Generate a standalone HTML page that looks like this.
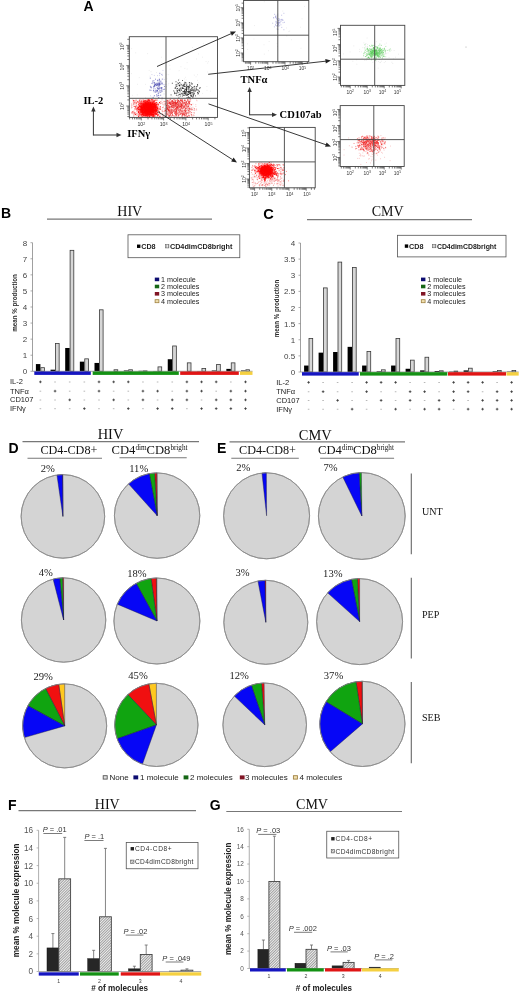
<!DOCTYPE html>
<html><head><meta charset="utf-8"><title>figure</title><style>html,body{margin:0;padding:0;background:#fff;width:520px;height:992px;overflow:hidden}</style></head><body><svg width="520" height="992" viewBox="0 0 520 992" style="display:block;opacity:0.999"><text x="83.6" y="10.7" font-family='"Liberation Sans", sans-serif' font-size="14" font-weight="bold" text-anchor="start" fill="#000" >A</text>
<defs><filter id="soft" x="-20%" y="-20%" width="140%" height="140%"><feGaussianBlur stdDeviation="0.35"/></filter><filter id="soft2" x="-30%" y="-30%" width="160%" height="160%"><feGaussianBlur stdDeviation="1.6"/></filter></defs>
<g filter="url(#soft)">
<path d="M165.86 89.21h0.7M166.57 74.33h0.7M149.68 76.16h0.7M198.69 87.63h0.7M196.89 84.48h0.7M181.47 83.34h0.7M132.01 95.39h0.7M184.15 88.98h0.7M131.41 48.61h0.7M150.65 71.57h0.7M179.33 79.17h0.7M184.5 68.44h0.7M179.41 87.09h0.7M156.13 110.92h0.7M185.36 101.55h0.7M157.11 66.69h0.7M163.74 78.08h0.7M187.17 84.47h0.7M161.26 62.78h0.7M159.51 101.98h0.7M152.61 84.41h0.7M182.24 53.18h0.7M173.16 103.51h0.7M169.45 65.29h0.7M183.94 78.88h0.7M136.85 94.9h0.7M188.06 97.03h0.7M206.57 86.52h0.7M174.86 56.61h0.7M186.77 68.99h0.7M161.14 57.23h0.7M148.78 70.44h0.7M202.93 43.43h0.7M137.02 84.31h0.7M206.64 90.41h0.7M180.58 66.75h0.7M145.13 97.59h0.7M198.44 82.83h0.7M177.9 87.82h0.7M210.26 91.14h0.7M184.45 89.86h0.7M134.36 103.07h0.7M194.92 89.53h0.7M192.22 47.4h0.7M167.58 98.35h0.7M140.53 108.98h0.7M185.25 77.3h0.7M179.8 91.7h0.7M174.89 100.62h0.7M156.12 72.53h0.7M197 80.48h0.7M150.87 97.04h0.7M207.17 71.99h0.7M138.88 77.57h0.7M168.42 74.64h0.7M205.71 61.52h0.7M202.25 57.17h0.7M153.11 91.37h0.7M199.09 95.46h0.7M180.29 82.56h0.7M175.66 90.36h0.7M167.77 84.99h0.7M185.75 80.02h0.7M190.34 90.19h0.7M161.74 73.29h0.7M171.69 96.63h0.7M163.92 86.94h0.7M145.03 84.39h0.7M181.56 84.29h0.7M161.65 91.79h0.7M178.77 70.6h0.7M158.7 78.21h0.7M166.59 78.87h0.7M196.21 58.97h0.7M170.4 97.16h0.7M192.55 106.84h0.7M131.17 73.64h0.7M163.82 91.22h0.7M198.13 53.94h0.7M188.4 53.14h0.7M176.22 101.5h0.7M168.42 83.44h0.7M191.13 82.54h0.7M169.88 107.6h0.7M197.16 74.71h0.7M193.95 75.22h0.7M175.18 92.69h0.7M177.33 91.5h0.7M135.34 52.83h0.7M186.76 62.66h0.7M147.36 53.54h0.7M202.39 93.44h0.7M207.35 63.12h0.7M172.02 59.47h0.7M190.38 108.61h0.7M150.63 108.09h0.7M195.71 76.8h0.7M169.69 69.15h0.7M181.59 87.38h0.7M207.95 61.64h0.7" stroke="#c8c8c8" stroke-width="0.7" stroke-opacity="0.6" fill="none"/>
<path d="M136.12 113.55h0.9M165.31 110.67h0.9M143.26 108.83h0.9M135.58 99.74h0.9M164.98 110.54h0.9M149.43 115.37h0.9M146.18 114.32h0.9M159.92 103.09h0.9M139.81 104.48h0.9M139.42 109.47h0.9M140.08 106.62h0.9M135.59 114.97h0.9M143.38 107.29h0.9M151.42 114.87h0.9M145.72 115.1h0.9M148.56 108.54h0.9M149.32 99.82h0.9M146.4 102.61h0.9M131.14 113.09h0.9M137.03 107.55h0.9M156.38 108.96h0.9M142.41 108.31h0.9M150.44 112.83h0.9M134.71 109.03h0.9M139.7 104.21h0.9M158.03 108.13h0.9M150.66 112.42h0.9M162.94 107.04h0.9M152.44 108.09h0.9M148.93 111.28h0.9M146.83 108.57h0.9M147.73 115.51h0.9M155.47 114.4h0.9M163.98 103.91h0.9M150.58 115.54h0.9M160.4 101.83h0.9M135.26 107.02h0.9M133.54 103.59h0.9M133.56 110.88h0.9M158.44 114.75h0.9M136.41 111.67h0.9M154.11 101.93h0.9M161.9 115.95h0.9M138.69 115.69h0.9M144.94 107.78h0.9M165.65 113.65h0.9M136.65 106.84h0.9M149.05 105.26h0.9M137.85 104.91h0.9M156.28 99.83h0.9M150.39 106.99h0.9M131.63 105.14h0.9M152.84 108.21h0.9M133.25 116.25h0.9M158.59 116.02h0.9M134.67 104.01h0.9M132.39 112.74h0.9M140.47 101.7h0.9M145.78 114.99h0.9M159.66 103.9h0.9M136.23 115.13h0.9M150.97 111.41h0.9M134.13 100.48h0.9M155.09 106.73h0.9M133.53 115.45h0.9M153.21 113.13h0.9M133.93 114.06h0.9M133.33 114.17h0.9M146.88 105.27h0.9M150.36 115.25h0.9M140.38 101.7h0.9M149.44 103.55h0.9M134.83 102.24h0.9M132.76 102.93h0.9M141.92 104.69h0.9M157.58 104.43h0.9M148.5 102.52h0.9M143.15 99.81h0.9M139.77 99.76h0.9M156.66 108.87h0.9M137.63 107.57h0.9M163.71 101.31h0.9M159.66 106.85h0.9M148.33 113.69h0.9M144.76 108.11h0.9M155.07 116.2h0.9M142.99 113.65h0.9M155.74 110.31h0.9M145.16 105.41h0.9M132.9 101.71h0.9M133.48 112.1h0.9M139.95 102.28h0.9M133.96 113.8h0.9M161.47 110.9h0.9M140.87 103.62h0.9M141.26 107.31h0.9M136.51 107.08h0.9M140.21 115.85h0.9M165.04 108.8h0.9M139.56 115.92h0.9M141.83 105.56h0.9M131.04 105.99h0.9M147.61 108.05h0.9M138.03 108.08h0.9M131.17 103.99h0.9M134.14 106.29h0.9M132.46 99.88h0.9M141.65 103.46h0.9M151.5 108.5h0.9M157.27 110.68h0.9M156.06 114.44h0.9M144.63 105.04h0.9M165.47 102.04h0.9M156.35 110.43h0.9M132.53 113.7h0.9M162.22 110.16h0.9M156.68 113.31h0.9M135.88 108.4h0.9M148.65 113.69h0.9M159.16 113.55h0.9M151.44 114.68h0.9M154.9 111.29h0.9M139.05 100.03h0.9M135.66 105.63h0.9M134.67 113.71h0.9M150.55 110.17h0.9M152.92 111.07h0.9M148.13 99.56h0.9M158.92 112.22h0.9M148.6 108.6h0.9M154.08 100.62h0.9M156.79 103.79h0.9M133.61 104.01h0.9M156.53 102.99h0.9M156.89 116.09h0.9M148.29 106h0.9M147.77 111.12h0.9M157.84 109.99h0.9M153.5 100.82h0.9M136.16 103.82h0.9M157.01 104.68h0.9M150.87 99.71h0.9M133.12 104.07h0.9M154.52 111.27h0.9M154.65 104.44h0.9M149.08 107.4h0.9M147.32 101.51h0.9M162.28 102.89h0.9M165.23 115.42h0.9M131.61 107.3h0.9M159.7 115.96h0.9M146.73 104.07h0.9M138.34 115.57h0.9M138.37 109.39h0.9M135.96 108.41h0.9M164.35 101.75h0.9M159.71 108.15h0.9M162.04 111.46h0.9M139.1 114.76h0.9M148.01 99.92h0.9M131.13 107.86h0.9M146.78 104.63h0.9M135.92 105.35h0.9M142.06 113.78h0.9M131.06 112.26h0.9M160.37 101.54h0.9M163.42 111.62h0.9M162.55 104.43h0.9M144.03 106.18h0.9M165.96 109.52h0.9M143.62 106.78h0.9M140.63 100.32h0.9M134.56 113.69h0.9M141 115.41h0.9M139.73 104.02h0.9M148.88 102.73h0.9M144.07 115.75h0.9M161.95 113.3h0.9M153.08 115.03h0.9M163.92 108.84h0.9M156.19 100.34h0.9M156.63 107.16h0.9M157.34 110.46h0.9M141.02 100.33h0.9M163.44 101.66h0.9M147.53 105.34h0.9M141.42 112.06h0.9M165.17 103.92h0.9M153.96 104.61h0.9M150.51 106.2h0.9M136.86 102.25h0.9M138.28 114.9h0.9M148.4 103.24h0.9M162.72 116.44h0.9M146.75 101.87h0.9M137.73 101.04h0.9M142.97 101.05h0.9M139.37 103.89h0.9M150.94 114.58h0.9M157.24 106.52h0.9M145.49 108.41h0.9M144.19 105.25h0.9M133.17 104.22h0.9M164.87 101.64h0.9M148.62 110.2h0.9M161.2 103.17h0.9M140.49 103.72h0.9M144.99 107.08h0.9M164.39 113.93h0.9M161.55 99.87h0.9M132.13 111.56h0.9M162.35 107.55h0.9M151.55 99.5h0.9M144.7 115.26h0.9M159.9 114.04h0.9M165.03 103.72h0.9M134.82 102.12h0.9M149.28 111.1h0.9M163.95 111.77h0.9M153.66 112.5h0.9M147.01 108.88h0.9M132.38 112.8h0.9M139.14 115.14h0.9M153.59 104.66h0.9M135.48 103.78h0.9M153.27 111.38h0.9M134.92 100.7h0.9M149.36 109.41h0.9M144.58 103.3h0.9M152.04 99.68h0.9M141.55 107.33h0.9M164.56 110.46h0.9M161.93 107.58h0.9M139.22 103.7h0.9M164.62 111.48h0.9M141.76 99.87h0.9M148.44 110.97h0.9M145.7 103.87h0.9M154.36 115.23h0.9M138.94 100.08h0.9M142.83 106.65h0.9M154.89 102.87h0.9M158.9 112.07h0.9M148.67 102.99h0.9M164.95 104.8h0.9M159.7 103.42h0.9M138.75 112.43h0.9M141.32 115.68h0.9M148.35 102.68h0.9M138.82 106.59h0.9M154.29 115.63h0.9M136.12 106.19h0.9M138.45 116.06h0.9M135.97 100.38h0.9M133.1 106.19h0.9M162.44 114.52h0.9M156.65 116.46h0.9M163.61 105.1h0.9M137.49 115.41h0.9M157.12 100.04h0.9" stroke="#f07070" stroke-width="0.9" stroke-opacity="0.7" fill="none"/>
<path d="M181.95 105.94h0.9M174.97 105.14h0.9M170.06 99.55h0.9M172.72 105.47h0.9M188.93 101.6h0.9M189.14 103.03h0.9M174.56 113.47h0.9M185.73 106.85h0.9M167.18 107.55h0.9M174.95 115.13h0.9M170.63 105.69h0.9M187.53 100.01h0.9M175.86 113.3h0.9M184.4 100.19h0.9M166.84 100.56h0.9M188.08 103.87h0.9M183.93 114.78h0.9M174.14 104.13h0.9M188.98 109.99h0.9M172.29 111.68h0.9M173.6 104.19h0.9M166.09 112.35h0.9M188 110.28h0.9M188.64 99.91h0.9M171.61 107.58h0.9M188.96 115.72h0.9M175.28 103.77h0.9M176.32 107.89h0.9M188.27 102.61h0.9M185.26 112.05h0.9M185.75 112.64h0.9M180.57 105.07h0.9M173.67 105.65h0.9M184.77 100.84h0.9M170.74 112.3h0.9M171.94 100.6h0.9M166.81 108.89h0.9M173.82 116.16h0.9M187.2 116.29h0.9M172.36 100.93h0.9M168.31 107.97h0.9M183.03 107.1h0.9M171.62 106.59h0.9M180.89 110.96h0.9M183.95 113.9h0.9M181.95 101.56h0.9M186.18 104.49h0.9M179.61 105.84h0.9M183.71 102.89h0.9M171.94 103.67h0.9M169.68 114.53h0.9M179.88 105.05h0.9M175.51 116.37h0.9M178.18 103.43h0.9M185.4 110.61h0.9M189.78 101.24h0.9M177.39 113.42h0.9M186.17 115.04h0.9M166.97 104.49h0.9M168.86 102.72h0.9M189.35 109.41h0.9M188.32 105.83h0.9M186.79 107.13h0.9M172.24 112.72h0.9M188.7 101.3h0.9M180.31 110.04h0.9M171.22 105.77h0.9M169.39 102.97h0.9M172.12 109.69h0.9M181.64 102.96h0.9M166.27 105.06h0.9M182.28 102.65h0.9M173.49 102.96h0.9M185.09 108.82h0.9M167.52 101.22h0.9M175.49 108.85h0.9M181.34 101.05h0.9M169.93 111.32h0.9M175.83 104.32h0.9M173.38 115.7h0.9M173.5 109.13h0.9M174.57 106.58h0.9M186.74 116.44h0.9M174.73 102.85h0.9M183.47 102.96h0.9M166.14 114.83h0.9M176.17 113.45h0.9M175.75 114.51h0.9M177.06 102.26h0.9M166.36 108.88h0.9M181.38 114.97h0.9M168.14 110.08h0.9M174.9 108.08h0.9M169.5 104.32h0.9M178.51 115.23h0.9M168.61 107.84h0.9M185.32 115.94h0.9M170.74 101.65h0.9M188.63 116.08h0.9M177.59 100.41h0.9M188.23 106.09h0.9M187.7 110.05h0.9M185.79 102.22h0.9M184.86 103.28h0.9M175.71 113.89h0.9M185.9 102.61h0.9M171.24 106.3h0.9M178.43 106.02h0.9M168.95 103.7h0.9M183.4 114.75h0.9M166.99 109.06h0.9M184.18 100.15h0.9M186.12 101.5h0.9M180.39 108.85h0.9M181.05 104.71h0.9M176.08 109.4h0.9M176.22 110.7h0.9M176.72 106.95h0.9M166.56 110.02h0.9M177.75 103.5h0.9M184.33 112.76h0.9M177 102.55h0.9M177.36 101.32h0.9M169.08 106.82h0.9M168.2 107.01h0.9M178.24 100.19h0.9M181.27 100.9h0.9M183.6 112.72h0.9M178.28 100.42h0.9M178.09 105.92h0.9M188.82 101.82h0.9M186.57 116.43h0.9M183.57 113.35h0.9M170.65 116.19h0.9M177.8 115.76h0.9M187.98 102.31h0.9M184.92 115.32h0.9M167.57 105.47h0.9M184.15 102.2h0.9M187.52 104.17h0.9M185.58 101.94h0.9M178.05 115.14h0.9M171 103.97h0.9M178.14 104.92h0.9M166.88 102.6h0.9M169.87 115.42h0.9M182.31 114.72h0.9M170.05 112.84h0.9M168.76 108.52h0.9M181.27 105.62h0.9M186.95 108.94h0.9M179.92 114.5h0.9M168.51 116.38h0.9M181.11 106.2h0.9M185.14 104h0.9M189.77 109.32h0.9M174.65 112.5h0.9M176.61 102.5h0.9M183.85 100.32h0.9M185.68 103.81h0.9M181.34 116.23h0.9M180.06 110.78h0.9M173.5 99.53h0.9M166.81 102.04h0.9M180.79 106.85h0.9M178.3 114.72h0.9M169.17 103.36h0.9M181.67 99.88h0.9M166.06 105.53h0.9M168.55 105.57h0.9M171.38 109.42h0.9M180.14 102.97h0.9M180.97 107.57h0.9M169.23 115.42h0.9M171.85 102.04h0.9M168.3 110.35h0.9M186.91 112.8h0.9M175.65 103.99h0.9M166.28 110.46h0.9M179.5 105.46h0.9M181.49 107.04h0.9M188.49 111.97h0.9M171.96 114.86h0.9M167.06 108.54h0.9M175.74 103.54h0.9M167.4 112.74h0.9M166.3 108.87h0.9M188.58 101.92h0.9M170.79 109.84h0.9M178.17 110.41h0.9M185.52 102.47h0.9M173.43 104.6h0.9M167.16 114.62h0.9M184.79 111.66h0.9M166.15 113.86h0.9M183.88 107.41h0.9M183.8 107.19h0.9M171.42 101.29h0.9M171.58 100.16h0.9M174.05 112.24h0.9M182.68 113.87h0.9M183.08 104.02h0.9M179.29 106.91h0.9M184.92 108.4h0.9M172.37 110.41h0.9M189.16 103.19h0.9M187.12 99.76h0.9M172.25 103.51h0.9M183.85 115.56h0.9M183.91 105.06h0.9M187.12 105.09h0.9M171.74 114.93h0.9M181.14 111.28h0.9M181.97 116.14h0.9M177.27 113.78h0.9M182.74 114.08h0.9M176.49 111.82h0.9M179.69 104.73h0.9M171.09 110.08h0.9M167.87 114.98h0.9M169.47 99.96h0.9M168.56 115.29h0.9M174.28 101.91h0.9M166.69 100.21h0.9M182.62 110.28h0.9M182.73 112.03h0.9M167.58 109.54h0.9M174.72 113.4h0.9M185.67 114.65h0.9M167.58 114.25h0.9M187.95 115.55h0.9M168.57 103h0.9M168.69 100.09h0.9M186.35 113.3h0.9M181.22 113.53h0.9M181.16 104.39h0.9M168.4 101.16h0.9M184.18 102.98h0.9M173.66 106.7h0.9M166.5 103.86h0.9M172.78 111.67h0.9M174.83 104.95h0.9M189.14 108.06h0.9M186.43 110.01h0.9M166.74 106.52h0.9M176.47 112.64h0.9M174.32 111.48h0.9M178.91 103.18h0.9M186.69 101.05h0.9M185.68 102.4h0.9M166.03 102.93h0.9M184.29 116.12h0.9M166.1 107.84h0.9M177.8 113.05h0.9M170.43 107.91h0.9M174.33 113.64h0.9M172.25 115.55h0.9M172.81 103.15h0.9M182.79 107.97h0.9M168.64 110.32h0.9M167.94 112.89h0.9M182.73 112.88h0.9M181.07 105.55h0.9M175.63 106.21h0.9M187.37 100.96h0.9M187.32 99.93h0.9M170.95 103.97h0.9M187.63 108.02h0.9M175.1 114.53h0.9M171.61 107.34h0.9M178.76 112.33h0.9M184.07 110.49h0.9M174.36 105.05h0.9M169.73 113.83h0.9M181.89 112.11h0.9M170.07 106.96h0.9M184.56 109.35h0.9M169.03 107.35h0.9M187.24 103.54h0.9M170.6 104.63h0.9M182.88 113.84h0.9M169.71 102.15h0.9M171.94 105.05h0.9M178.53 102.24h0.9M173.87 102.72h0.9M189.4 111.89h0.9M168.44 115.86h0.9M168.44 106.03h0.9M189.61 113.01h0.9M183.6 106.89h0.9M170.71 110.35h0.9M168.56 103.01h0.9M175.32 100.08h0.9M175.58 112.95h0.9M182.64 108.01h0.9M181.18 107.38h0.9M169.4 109.76h0.9M175.71 112.1h0.9M187.79 106.81h0.9M179.78 112.23h0.9M176.11 103.39h0.9M183.33 114.46h0.9M184.58 111.4h0.9M186.46 111.05h0.9M181.4 107.22h0.9M173.51 110.18h0.9M168.35 106.63h0.9M184.78 111.62h0.9M181.11 103.75h0.9M176.17 107.24h0.9M180.92 106.46h0.9M182.21 115.31h0.9M170.39 110.63h0.9M184.68 106.11h0.9M177.76 116.07h0.9M166.92 108.74h0.9M169.86 112.79h0.9M188.57 108.33h0.9M168.43 109.27h0.9M178.98 111.69h0.9M178.29 110.37h0.9M185.9 108.37h0.9M175.85 115.62h0.9M171.04 111.13h0.9M175.42 112.47h0.9M168.94 116.24h0.9M174.53 100.46h0.9M172.58 106.29h0.9M166.32 106.62h0.9M176.09 111.37h0.9M174.45 104.01h0.9M171.39 112.11h0.9M188.56 108.46h0.9M171.25 113.13h0.9M175.41 103.1h0.9M169.1 112.7h0.9M185.43 110.28h0.9M177.26 109.05h0.9M171.42 115.89h0.9M174.48 110.36h0.9M185.65 113.38h0.9M177.23 104.5h0.9M179.16 101.63h0.9M186.01 105.53h0.9M186.42 104.05h0.9M175.03 103.81h0.9M176.23 102.66h0.9M166.06 111.77h0.9M172.75 103.66h0.9M173.24 107.65h0.9M176.28 110.33h0.9M181.82 105.66h0.9M188.29 114.03h0.9M167.37 113.57h0.9M187.74 112.83h0.9M169.37 113.63h0.9M181.2 99.75h0.9M166.28 115.68h0.9M181.74 103.75h0.9M168.44 101.93h0.9M171.61 112.7h0.9M174.31 102.1h0.9M187.7 112.96h0.9M170.03 114.65h0.9M180.6 112.78h0.9M182.04 114.7h0.9M184.91 113.76h0.9M170.74 111.28h0.9M178.74 112.11h0.9M176.53 114.51h0.9M179.32 104h0.9M171.62 101.87h0.9M177.83 100.49h0.9M177.21 101.96h0.9M177.79 107.97h0.9M178.95 114.17h0.9M166.16 113.79h0.9M177.23 109.06h0.9M181.97 113.79h0.9M175 106.62h0.9" stroke="#e83030" stroke-width="0.9" stroke-opacity="0.7" fill="none"/>
<path d="M196.65 100.78h0.8M193.73 110.31h0.8M188.26 109.86h0.8M194.14 115.34h0.8M190.97 116.19h0.8M192.6 107.74h0.8M196.08 100.08h0.8M194.46 110.13h0.8M191.05 114.15h0.8M191.3 107.57h0.8M192.73 112.6h0.8M189.9 106.9h0.8M191.8 108.92h0.8M195.44 104.48h0.8M195.45 106.36h0.8M192.53 104.12h0.8M192.56 116.07h0.8M193.89 112.96h0.8M190.98 104.89h0.8M190.69 109.47h0.8M193.71 112.83h0.8M188.36 111.79h0.8M195.97 108.77h0.8M188.45 104.61h0.8M188.06 102.73h0.8M196.29 109.85h0.8M193.92 112.91h0.8M196.19 109.9h0.8M193.55 110.16h0.8M194.27 109.64h0.8" stroke="#f08080" stroke-width="0.8" stroke-opacity="0.6" fill="none"/>
<path d="M173.68 102.86h0.9M171.59 101.2h0.9M176.29 103.7h0.9M176.92 107.25h0.9M171.71 102.02h0.9M170.28 104.53h0.9M173.31 110.96h0.9M172.46 110.82h0.9M185.75 108.18h0.9M179.9 106.62h0.9M179.87 99.92h0.9M183.59 103.34h0.9M183.89 106.44h0.9M185.02 105.32h0.9M172.84 107.21h0.9M172.6 103.28h0.9M176.82 106.72h0.9M188.13 106.23h0.9M191.04 115.01h0.9M189.73 111.31h0.9M177.04 106.69h0.9M174.86 102.34h0.9M175.47 102.8h0.9M189.12 108.67h0.9M175.57 103.92h0.9M167.31 100.32h0.9M175.75 105.26h0.9M187.55 106.67h0.9M177.34 104.14h0.9M171.16 113.5h0.9M184 114.58h0.9M173.2 106.15h0.9M168.95 110.84h0.9M184.77 113.06h0.9M168.48 111.45h0.9M170.29 102.21h0.9M189.19 103.03h0.9M169.92 104.31h0.9M170.62 111.94h0.9M190.94 104.67h0.9M170.47 103.45h0.9M167.31 111.32h0.9M178.31 102.18h0.9M182.25 106.04h0.9M166.6 109.11h0.9M190.61 108.49h0.9M170.24 104.25h0.9M174.07 107.73h0.9M180.08 113.93h0.9M181.31 104.48h0.9M166.58 101.32h0.9M170.69 106.74h0.9M175.6 114.34h0.9M178.3 100.64h0.9M188.35 110.75h0.9M176.81 102.39h0.9M183.29 101.99h0.9M177.95 109.03h0.9M181.24 113.05h0.9M169.29 110.89h0.9M168.1 109.47h0.9M177.43 107.22h0.9M183.74 105.91h0.9M184.9 110.38h0.9M177.08 103.17h0.9M169.97 103.36h0.9M174.38 105.88h0.9M182.15 101.7h0.9M170.32 104.4h0.9M177.54 100.82h0.9M188.9 103.18h0.9M175.94 107.39h0.9M177.53 109.01h0.9M178.24 106.81h0.9M178.46 105.02h0.9M169.43 103.09h0.9M190.76 114.66h0.9M175.53 112.44h0.9M172.14 101.63h0.9M171.53 106.94h0.9M176.4 107.38h0.9M175.73 110.65h0.9M190.2 99.78h0.9M177.29 104.68h0.9M180.2 106.96h0.9M173.01 102.22h0.9M181.58 108.72h0.9M175.82 108.57h0.9M171.17 106.36h0.9M176.32 108.77h0.9M175.44 105.28h0.9M174.92 102.78h0.9M193.87 108.57h0.9M181.56 110.19h0.9M191.08 112.58h0.9M182.17 100.11h0.9M169.03 107.34h0.9M180.04 100.89h0.9M172.92 104h0.9M176.48 107.68h0.9M173.7 99.82h0.9M185.94 113.98h0.9M175.15 111.12h0.9M179.55 109.3h0.9M179.85 102.18h0.9M180.59 111.05h0.9M168.83 115.83h0.9M192.72 115.12h0.9M191.91 109.71h0.9M173.29 103h0.9M169.5 106.58h0.9M175.74 109.35h0.9M181.41 108.38h0.9M178.19 104.96h0.9M175.02 101.88h0.9M177.43 105.88h0.9M178.56 101.72h0.9M176.32 106.24h0.9M180.83 100.68h0.9M179.36 110.92h0.9M180.78 104.16h0.9M172.07 104.82h0.9M181.83 113.76h0.9M174.74 102.79h0.9M179.01 107.02h0.9M168.74 102.31h0.9M175.19 109.36h0.9M166.45 100.91h0.9M179.99 99.88h0.9M176.87 107.76h0.9M175.11 100.91h0.9M175.52 104.34h0.9M178.69 101.81h0.9M174.59 106.04h0.9M183.69 102.96h0.9M180.37 103.17h0.9M181.91 114.69h0.9M172.79 108.21h0.9M168.58 110.87h0.9M185.69 106.18h0.9M166.92 108.01h0.9M185.19 111.45h0.9M170.56 113.11h0.9M166.19 111.66h0.9M191.06 109.81h0.9M184.96 104.34h0.9M166.2 105.49h0.9M174.41 105.76h0.9M181.57 105.28h0.9M177.53 108.12h0.9M175.96 115.22h0.9M179.54 106.42h0.9M174.34 102.87h0.9M186.75 106.75h0.9M167.37 103.19h0.9M174.91 103.77h0.9M184.68 100.19h0.9M179.94 106.72h0.9M166.58 106.24h0.9M175.24 108.51h0.9M172.4 107.52h0.9M182.28 111.21h0.9M175.9 103h0.9M169.6 109.36h0.9M181.22 100.84h0.9M177.22 101.52h0.9M176.44 110.51h0.9M185.12 107.99h0.9M176.04 111.24h0.9M170.88 102.48h0.9M173.03 105.64h0.9M167.34 108.42h0.9M180.35 106.36h0.9M189.6 104.36h0.9M186.45 103.27h0.9M177.58 105.12h0.9M172.04 102.95h0.9M173.22 102.4h0.9M171.6 103.38h0.9M167.54 105.32h0.9M182.28 104.75h0.9M172.06 112.79h0.9M183.82 110.61h0.9M185.24 104.36h0.9M174.97 111.57h0.9M171.57 105.4h0.9M179.02 107.86h0.9M173.79 110.92h0.9M174.58 109.63h0.9M184.56 109.3h0.9M181.87 100.2h0.9M179.8 113.5h0.9M166.22 107.53h0.9M169.17 102.34h0.9M173.79 109.46h0.9M177.7 111.9h0.9M168.12 110.45h0.9M183.44 106.35h0.9M179.82 103.18h0.9M167.28 103.97h0.9M172.12 114.25h0.9M177.62 107.56h0.9M181.95 102.1h0.9M183.33 107.88h0.9M180.42 108.26h0.9M188.68 103.93h0.9M180.09 109.74h0.9M168.8 112h0.9M180.18 100.56h0.9M176.55 100.33h0.9M179.59 104.67h0.9M176.51 105.66h0.9M177.04 99.39h0.9M168.51 103.73h0.9M169.89 102.95h0.9M167.54 107.63h0.9M174.88 101.9h0.9M168.12 110.04h0.9M170.72 108.93h0.9M167.33 106.02h0.9M178.74 109.9h0.9M182.42 111.17h0.9M173.01 104.95h0.9M182.21 103.87h0.9M181.23 105.13h0.9M178.49 106.1h0.9M167.39 103.67h0.9M188.09 101.86h0.9M166.4 105.34h0.9M172.85 101.44h0.9M169.27 111.24h0.9M171.65 100.54h0.9M182.3 108.82h0.9M167.66 109.74h0.9M185.01 104.72h0.9M183.33 105.89h0.9M179.34 109.84h0.9M190.82 104.74h0.9M172.14 105.81h0.9" stroke="#e82020" stroke-width="0.9" stroke-opacity="0.7" fill="none"/>
</g>
<ellipse cx="148" cy="108.6" rx="9.5" ry="8.2" fill="#ff0000" filter="url(#soft2)" opacity="0.95"/>
<g filter="url(#soft)">
<path d="M154.63 104.36h1M152.39 105.56h1M150.53 111.7h1M141.5 108.21h1M149.32 111.24h1M142.88 104.14h1M146.94 107.6h1M139.78 112.78h1M145.06 115.06h1M152.69 108.69h1M152 103.6h1M146.21 106.01h1M141.02 108.68h1M147.2 115.06h1M142.95 106.51h1M150.32 110.42h1M148.16 106.47h1M150.72 110.22h1M137.86 107.42h1M140.44 103.28h1M148.81 108.87h1M148.63 104.66h1M146.89 104.49h1M150.1 111.7h1M157.65 114.3h1M143.57 106.54h1M142.84 109.98h1M158.89 111.79h1M135.9 102.94h1M140.89 110.92h1M148.01 109.95h1M157.8 104.88h1M149.88 105.09h1M136.84 101.74h1M134.56 108.91h1M148.24 113.07h1M147.23 105.48h1M138.29 109.38h1M148.14 111.38h1M145.77 110.85h1M152.49 107.94h1M145.48 107.76h1M142.69 107.67h1M146.34 109.55h1M155.35 114.48h1M145.55 111.31h1M149.62 112.03h1M148.12 109.8h1M145.42 105.07h1M152.8 114.44h1M151.64 110.56h1M149.46 106.57h1M138.19 111.59h1M149.1 106.11h1M142.69 114.35h1M138.08 116.53h1M144.05 108.5h1M145.21 109.3h1M146.85 105.23h1M153.91 105.07h1M145.21 111.1h1M145.04 106.64h1M149.96 106.94h1M141.14 108.14h1M146.79 116.27h1M141.97 112.96h1M143.68 107h1M146.2 109.82h1M152.75 116.47h1M144.5 114.58h1M153.47 112.26h1M143.82 112.65h1M147.41 110.19h1M146.52 111.59h1M154.13 113.69h1M146.87 113.08h1M155.99 104.39h1M156.1 102.59h1M150.99 111.27h1M156.16 109.85h1M145.36 105.01h1M141.12 112.05h1M146.7 105.37h1M150.93 105.16h1M145.6 106.54h1M157.1 115.18h1M147.13 101.53h1M149.52 108.92h1M149.92 111.14h1M146.24 112.76h1M152.6 109.55h1M145.77 106.44h1M151.81 103.65h1M147.12 105.23h1M140.34 111.32h1M147.86 108.76h1M152.81 101.88h1M147.63 109.9h1M152.58 103.72h1M151.94 109.59h1M155.46 113.72h1M147.99 106.69h1M146.13 104.37h1M147.84 100.15h1M147.54 110.52h1M153.45 107.04h1M155.64 105.67h1M147.26 100.15h1M143.81 105.04h1M156.02 110.93h1M142.07 110.95h1M150.59 107.57h1M148.12 107.26h1M145.09 100.81h1M147.51 114.24h1M155.69 107.38h1M143.99 107.67h1M152.82 110.14h1M144.87 110.19h1M146.89 110.86h1M145.81 102.14h1M148.31 111.94h1M142.06 108.13h1M152.71 106.96h1M152.45 113.11h1M142.93 115.76h1M139.13 106.33h1M151.96 114.43h1M143.02 105.69h1M149.05 100.16h1M151.42 111.05h1M145.61 110.95h1M152.15 109.95h1M150.79 115.22h1M145.45 109.31h1M145.21 113.12h1M145.83 110.67h1M148.73 108.89h1M157.15 108.23h1M155.55 112.2h1M155.03 107.88h1M152.94 111.89h1M144.73 109.77h1M147.32 108.44h1M154.92 105.47h1M139.06 101.03h1M145.6 105.8h1M148.08 111.06h1M157.35 109.94h1M150.46 105.41h1M151.08 114.5h1M155.11 100.12h1M152.72 115.47h1M152.38 102.11h1M146.37 111.15h1M150.2 105.08h1M143.28 112.79h1M140.93 114.82h1M148.11 109.9h1M140.94 106.02h1M151.65 102.23h1M158.96 102.52h1M141.53 108.79h1M150.55 111.77h1M146.04 107.7h1M146.75 106.11h1M134.36 112.76h1M149.33 109.29h1M144.68 109.69h1M147.93 108.27h1M153.84 101.15h1M149.33 103.99h1M146.32 115.08h1M142.27 108.17h1M144.87 112.7h1M142.83 101.33h1M150.72 107.07h1M146.31 113.27h1M143.31 106.99h1M148.78 110.39h1M145.27 113.07h1M159.84 106.83h1M155.43 107.11h1M148.73 107.13h1M144.64 103.08h1M145.92 114.2h1M154.02 107.09h1M145.21 105.57h1M141.66 116.39h1M151.5 109.11h1M145.4 104.18h1M154.95 111.97h1M142.97 112.87h1M142.15 111.37h1M142.93 106.81h1M150.61 110.47h1M153.34 104.98h1M156.34 114.41h1M147.95 110.61h1M143.89 107.94h1M141.03 108.98h1M149.05 114.4h1M153 112.12h1M146.09 107.63h1M146.2 109.56h1M137.81 111.93h1M139.73 106.37h1M148.12 106.38h1M156.78 108.18h1M156.3 113.67h1M145.38 110.33h1M154.86 107.16h1M148.47 106.19h1M148.31 107.07h1M148.44 112.93h1M155.35 109.18h1M149.07 112.3h1M146.47 104.03h1M153.86 104.56h1M152.91 104.43h1M157.66 104.09h1M152.48 115.08h1M142.93 115.02h1M143.65 100.98h1M151.81 111.63h1M147.71 107.28h1M146 107.35h1M138.55 106.15h1M157.5 115.28h1M146.09 105.52h1M150.09 113.19h1M151.82 103.55h1M148.86 109.21h1M155.59 113.77h1M150.77 113.85h1M145.91 115.24h1M145.75 110.31h1M152.85 104.65h1M144.29 101.01h1M148.87 108.36h1M146.27 110.75h1M136.83 108.5h1M148.46 107.45h1M152.19 116.17h1M145.65 104.54h1M144.81 109h1M151.09 104.88h1M153.28 104.17h1M152.37 110.45h1M146.61 107.89h1M150.52 112.33h1M140.93 109.79h1M144.08 111.32h1M155.23 108.82h1M147.44 109.39h1M132.4 111.93h1M150.96 109.31h1M145.91 105.44h1M147.05 113.84h1M147.46 114.42h1M134.42 106.61h1M149.45 108.54h1M139.23 105.73h1M154.6 103.02h1M142.77 103.86h1M145.09 111.38h1M151.14 99.83h1M155.71 106.04h1M144.89 115.8h1M147.57 103.24h1M144.63 105.46h1M142.67 107.16h1M152.63 110.11h1M142.77 109.1h1M148.17 111.89h1M146.27 110.57h1M159.12 109.01h1M142.28 110.02h1M143.76 107h1M148.99 110.06h1M146.5 112.26h1M146.98 102.96h1M152.64 107.03h1M154.4 105.77h1M151.02 109.96h1M133.76 102.15h1M142.09 114.68h1M138.03 112.55h1M153.77 110.74h1M151.56 106.46h1M147.94 109.57h1M150.22 111.65h1M146.91 105.57h1M145.03 110.38h1M139.23 103.18h1M145.83 106.21h1M146.2 107.52h1M152.1 100.05h1M146.38 110.65h1M150.58 113.77h1M153.57 104.06h1M151.36 107.15h1M143.76 115.23h1M144.67 104.91h1M145.84 104.91h1M153.32 110.24h1M155.4 110.38h1M144.75 113.13h1M144.54 106.6h1M147.11 108.77h1M154.32 105.98h1M149.86 108.48h1M141.34 103.86h1M146.84 110.35h1M149.7 110.68h1M148.26 106.66h1M150.26 104.26h1M140.89 107.16h1M140.43 106.37h1M144.04 106.2h1M147.76 105.13h1M145.76 101.18h1M148.77 104.78h1M143.75 109.65h1M135.06 107.04h1M148.5 109.05h1M140.06 109.6h1M148.79 104.38h1M151.95 108.39h1M148.1 106.65h1M150.91 109.02h1M154.03 110.56h1M144.72 107.63h1M152.88 107.01h1M150.03 110.87h1M148.7 109.53h1M148.72 105.3h1M154.43 108.01h1M144.69 105.48h1M149.91 103.85h1M154.97 113.19h1M155.26 111.19h1M139.04 113.8h1M154.59 110.73h1M137.59 114.01h1M155.27 106.46h1M148.68 111.98h1M147.55 113.39h1M148.43 111.61h1M148.45 102.15h1M149.49 114.31h1M154.07 116.08h1M150.95 106h1M148.1 100.23h1M147 112.55h1M136.47 109.46h1M152.39 114.39h1M143.06 105.76h1M137.99 104.15h1M141.88 114.62h1M150.28 106.44h1M147.64 109.56h1M159.38 116.45h1M160.09 109.19h1M153.24 114.56h1M150.74 110.17h1M147.02 106.82h1M149.41 108.45h1M148.94 116.54h1M147.43 107.44h1M144.01 108.5h1M145.65 109.5h1M164.71 110.32h1M152.62 112.17h1M151.83 112.19h1M151.61 114.77h1M153.39 114.5h1M145.31 108.59h1M144.1 112.79h1M152.45 106.56h1M154.62 103.71h1M147.51 111.38h1M147.81 110.29h1M154.32 110.04h1M142.12 111.73h1M147.48 109.1h1M144.97 102.54h1M141.32 107.05h1M154.15 103.51h1M144.12 110.93h1M135.09 114.48h1M143.88 111.49h1M145.42 109.94h1M148.56 108.6h1M138.21 102.16h1M147.78 114.78h1M145.08 110.93h1M148.87 110.72h1M153.31 102.03h1M149.47 107.82h1M146.33 104.86h1M143.79 104.09h1M157.11 108.64h1M151.98 104.32h1M133.09 100.61h1M148.76 114.91h1M147.77 104.21h1M146.7 104.23h1M140.53 107.58h1M145.86 105.04h1M143.25 104.52h1M149.27 114.71h1M139.33 109.8h1M141.8 107.89h1M148.55 111.05h1M154.06 106.17h1M141.34 107.77h1M149.57 105.54h1M152.79 115.98h1M140.38 110.19h1M153.45 100.17h1M149.1 107.61h1M140.37 114.37h1M149.16 106.5h1M150.38 111.42h1M152.12 111.14h1M150.19 103.44h1M145.74 109.16h1M145.97 103.97h1M138.25 109.69h1M148.17 106.04h1M145.77 104.7h1M143.98 108.17h1M144.55 111.58h1M147.24 109.18h1M150.17 114.17h1M151.22 109.6h1M147.12 105.07h1M146.16 111.59h1M149.21 106.9h1M140.86 101.88h1M149.72 113.1h1M150 102.58h1M146.86 109.57h1M143.08 110.12h1M146.93 104.94h1M141.34 112.16h1M149.91 104.71h1M142.56 112.5h1M151.19 107.26h1M156.54 107.33h1M142.34 113.39h1M146.99 110.11h1M148.2 104.21h1M141.64 107.75h1M155.53 104.2h1M155.28 109.57h1M142.04 109.77h1M151.04 104.66h1M136.59 110.16h1M142.06 110.53h1M137.76 107.98h1M143.67 102.11h1M146.71 109.35h1M145.02 103.43h1M149.14 100.94h1M150.86 110.75h1M156.98 112.47h1M149.9 109.75h1M148.15 102.8h1M155.82 110.9h1M146.47 103.59h1M155.94 110.93h1" stroke="#ff0000" stroke-width="1" stroke-opacity="0.9" fill="none"/>
<path d="M153.35 90.09h0.9M164.13 86.38h0.9M158.9 84.28h0.9M155.3 92.24h0.9M157.07 90.74h0.9M156.43 90.39h0.9M160.4 81.07h0.9M153.75 86.1h0.9M160.41 87.98h0.9M161.84 79.15h0.9M159.22 83.18h0.9M157.85 88.22h0.9M154.11 85.28h0.9M153.43 87.92h0.9M154.53 83.86h0.9M158.26 83.01h0.9M161.51 83.1h0.9M160.47 88.01h0.9M153.89 85.34h0.9M154.58 84.57h0.9M156.55 96.2h0.9M156.04 94.87h0.9M159.06 79.53h0.9M149.43 90.12h0.9M150.55 90.33h0.9M161.09 88.58h0.9M156.77 85.16h0.9M158.4 84.89h0.9M155.63 84.53h0.9M161.58 83.19h0.9M158.82 80.37h0.9M155.02 79.18h0.9M156.81 90.14h0.9M158.56 83.88h0.9M159.63 84.65h0.9M158.8 87.96h0.9M159.39 73.31h0.9M152.96 90.62h0.9M156.68 83.56h0.9M162.7 89.46h0.9M164.11 89.21h0.9M156.79 90.35h0.9M154.76 84.12h0.9M155.57 85.32h0.9M160.21 83.94h0.9M158.62 83.85h0.9M156.78 87.4h0.9M153.75 91.89h0.9M158.25 93.31h0.9M160.85 89.91h0.9M156.98 80.72h0.9M156.73 84.06h0.9M158.37 84.03h0.9M161.59 84h0.9M156.66 91.42h0.9M157.51 80.06h0.9M158.94 85.46h0.9M150.34 87.55h0.9M153.83 82.55h0.9M159.18 88.09h0.9M158.96 83.24h0.9M158.32 85.86h0.9M149.84 78.13h0.9M152.67 97.47h0.9M156.86 85.03h0.9M155.54 91.71h0.9M157.6 95.56h0.9M160.24 95.23h0.9M157.09 88.49h0.9M156 85.6h0.9M151.49 83.42h0.9M154.2 83.04h0.9M161.72 87.89h0.9M161.75 91.05h0.9M160.69 91.83h0.9M155.4 90.75h0.9M156.38 83.69h0.9M161.65 97.97h0.9M154.1 95.71h0.9M160.38 82.01h0.9M158.45 88.47h0.9M158.8 84.61h0.9M153.04 86.67h0.9M160.49 90.66h0.9M159.79 92.34h0.9M154.06 86.28h0.9M158.68 91.79h0.9M158.04 89.25h0.9M157.96 97.62h0.9M149.93 86.37h0.9M151.15 87.21h0.9M152.53 82.9h0.9M158.28 95.58h0.9M159.1 90.04h0.9M161.03 87.56h0.9M154.53 85.98h0.9M158.67 85.03h0.9M155.19 84.6h0.9M152.29 81.07h0.9M157.19 84.59h0.9M157.63 93.93h0.9M158.54 86.33h0.9M153.43 80.79h0.9M158.8 81.88h0.9" stroke="#4848b0" stroke-width="0.9" stroke-opacity="0.8" fill="none"/>
<path d="M159.07 78.73h0.8M157.65 86.44h0.8M161.79 83.98h0.8M155.21 88.89h0.8M155.76 82.87h0.8M155.46 90.65h0.8M158.13 92.34h0.8M165.85 86.76h0.8M151.18 88.19h0.8M157.07 75.62h0.8M159.2 97.64h0.8M161.97 75.41h0.8M163.65 93.98h0.8M155.26 90.86h0.8M164.3 84.45h0.8M156.92 82.69h0.8M162.56 70.42h0.8M163.83 79.55h0.8M161.46 74.49h0.8M152.49 82.4h0.8M160.99 74.52h0.8M159.9 82.11h0.8M162.97 84.61h0.8M159.34 85.68h0.8M165.63 84.23h0.8M157.37 92.28h0.8M153.45 88.54h0.8M153.89 75.43h0.8M150.19 95.79h0.8M159.05 75.33h0.8M165.73 81.64h0.8M155.23 88.9h0.8M151.53 74.55h0.8M153.41 96.09h0.8M161.58 74.84h0.8" stroke="#a0a0d8" stroke-width="0.8" stroke-opacity="0.7" fill="none"/>
<path d="M193.53 91.15h0.9M189.13 91.22h0.9M188.59 86.67h0.9M180.31 87.96h0.9M183.7 93.68h0.9M178.39 97.9h0.9M182.04 88.45h0.9M190.4 92.88h0.9M183.88 86.37h0.9M179.74 84.08h0.9M193.15 95.69h0.9M197.69 93.16h0.9M188.08 94.28h0.9M191.95 89.88h0.9M175.4 84.91h0.9M179.97 94.26h0.9M193.43 89.53h0.9M190.2 90.79h0.9M187.88 88.66h0.9M185.83 90.98h0.9M174.64 93.31h0.9M185.97 95.19h0.9M192.64 94.38h0.9M191.06 86.88h0.9M193.56 86.87h0.9M194.08 93.89h0.9M170.64 94.9h0.9M179.82 96.05h0.9M181.74 87.78h0.9M176.33 90.06h0.9M192.37 88.09h0.9M197.55 93.99h0.9M182.63 85.75h0.9M175.74 93.42h0.9M194.14 86.4h0.9M186 89.8h0.9M184.39 93.18h0.9M199.1 88.24h0.9M191.32 95.72h0.9M184.22 90.35h0.9M177.6 95.68h0.9M182.67 88.16h0.9M186.42 87.28h0.9M179.47 89.71h0.9M195.31 90.11h0.9M189.3 84.64h0.9M183.5 84.32h0.9M185.34 93.63h0.9M175.18 87.17h0.9M187.63 87h0.9M191 95.17h0.9M188.77 89.14h0.9M185.71 88.25h0.9M185.18 92.38h0.9M184.12 95.23h0.9M188.15 94.57h0.9M190.04 89.97h0.9M182.99 95.36h0.9M189.92 93.2h0.9M180.96 93.74h0.9M190.99 90.2h0.9M174.22 93.64h0.9M178.65 85.07h0.9M184.52 93.37h0.9M186.33 85.93h0.9M176.97 88.58h0.9M186.09 87.39h0.9M180.73 90.32h0.9M182.55 88.45h0.9M186.25 89.7h0.9M189.89 85.84h0.9M185.53 94.34h0.9M193.42 93.41h0.9M186.23 84.23h0.9M175.93 95.26h0.9M190.26 93.48h0.9M175.56 81.71h0.9M179.35 85.85h0.9M187 86.55h0.9M195.96 88.29h0.9M182.46 94.77h0.9M188.07 87.08h0.9M178.27 89.92h0.9M179.21 82.53h0.9M189.95 94.05h0.9M192.14 92.87h0.9M173.3 90.88h0.9M181.79 85.86h0.9M179.02 94.34h0.9M188.97 82.66h0.9M191.64 96.46h0.9M186.2 85.7h0.9M197.17 85.26h0.9M185.47 82.66h0.9M178.07 83.56h0.9M192.88 96.16h0.9M183.44 85.06h0.9M185.62 92.66h0.9M176.35 85.93h0.9M185.35 94.08h0.9M186.47 92.97h0.9M178.09 80.08h0.9M187.97 86.98h0.9M185.21 89.35h0.9M189.05 87.61h0.9M195.15 91.14h0.9M189.35 93.76h0.9M192.58 92.77h0.9M174.9 88.24h0.9M197.81 93.08h0.9M189.56 93.05h0.9M181.93 88.02h0.9M181.89 96.09h0.9M188.91 85.79h0.9M197.07 92.49h0.9M193.58 91.95h0.9M183.92 91.75h0.9M178.86 85.73h0.9M180.34 88.69h0.9M177.36 90.54h0.9M197.73 90.78h0.9M191.64 90.03h0.9M188.49 90.85h0.9M182.55 91.33h0.9M176.56 92.94h0.9M184.15 86.21h0.9M183.7 93.45h0.9M181.66 93.1h0.9M189.64 97.9h0.9M179.05 90.51h0.9M189.27 97.64h0.9M187.68 94.34h0.9M176.61 88.41h0.9M196.63 89.74h0.9M199.84 87.77h0.9M184.22 83.93h0.9M190.07 92.17h0.9M198.93 91.73h0.9M184.39 84.75h0.9M185.47 95.2h0.9M190.75 96.45h0.9M191.55 90.79h0.9M189.88 91.77h0.9M188.4 86.33h0.9M188.47 92.28h0.9M192.4 97.42h0.9M195.83 86.78h0.9M174.06 92.24h0.9M188.16 92.56h0.9M178.87 88.92h0.9M187.25 94.32h0.9M182.12 80.49h0.9M192.91 90.41h0.9M185.29 86.6h0.9M190.73 83.01h0.9M186.7 91.54h0.9M187.93 96.82h0.9M185.36 91.42h0.9M191.52 84.08h0.9M184.12 91.3h0.9M192.16 87.43h0.9M191.18 92.72h0.9M176.41 84.4h0.9M176.76 91.62h0.9M187.33 94.23h0.9M191.3 88.53h0.9M192.9 94.66h0.9M189.05 93.14h0.9M177.69 92.62h0.9M179.33 85.67h0.9M183.74 91.62h0.9M185.65 89.52h0.9M179.54 91.83h0.9M181.21 84.7h0.9M186.6 97.5h0.9M183.38 86.25h0.9M184.1 90.06h0.9M186.86 95.45h0.9M188.87 82.85h0.9M178.87 85.48h0.9M188.8 91.48h0.9M197.58 89.79h0.9M188 91.34h0.9M187.84 97.6h0.9M194.4 88.28h0.9M190.44 89.29h0.9M186.71 91.71h0.9M186.14 88.9h0.9M196.08 89.81h0.9M190.06 95.6h0.9M195 95.88h0.9M197.14 84.59h0.9M198.69 91.12h0.9M174.67 88.13h0.9M176.96 90.9h0.9M176.34 86.48h0.9M187.92 91.7h0.9M180.83 89.95h0.9M185.36 91.34h0.9M185.95 90.01h0.9M191.7 83.79h0.9M182.8 91.6h0.9M183.4 88.52h0.9M183.16 91.94h0.9M194.08 90.17h0.9M184.27 92.6h0.9M184.43 82.31h0.9M187.74 89.3h0.9M182.28 93.83h0.9M186.29 88.46h0.9M171.86 83.27h0.9M186.09 90.47h0.9M188.85 92h0.9M182.89 85.31h0.9M178.89 90.37h0.9M178.54 94.4h0.9M177.38 82.94h0.9M184.74 83.02h0.9M196.57 86.54h0.9" stroke="#1a1a1a" stroke-width="0.9" stroke-opacity="0.85" fill="none"/>
</g>
<line x1="129.64" y1="117.4" x2="129.64" y2="119.4" stroke="#222" stroke-width="0.6" />
<line x1="132.43" y1="117.4" x2="132.43" y2="119.4" stroke="#222" stroke-width="0.6" />
<line x1="134.59" y1="117.4" x2="134.59" y2="119.4" stroke="#222" stroke-width="0.6" />
<line x1="136.35" y1="117.4" x2="136.35" y2="119.4" stroke="#222" stroke-width="0.6" />
<line x1="137.85" y1="117.4" x2="137.85" y2="119.4" stroke="#222" stroke-width="0.6" />
<line x1="139.14" y1="117.4" x2="139.14" y2="119.4" stroke="#222" stroke-width="0.6" />
<line x1="140.28" y1="117.4" x2="140.28" y2="119.4" stroke="#222" stroke-width="0.6" />
<line x1="141.3" y1="117.4" x2="141.3" y2="120.4" stroke="#222" stroke-width="0.6" />
<line x1="148.01" y1="117.4" x2="148.01" y2="119.4" stroke="#222" stroke-width="0.6" />
<line x1="151.94" y1="117.4" x2="151.94" y2="119.4" stroke="#222" stroke-width="0.6" />
<line x1="154.73" y1="117.4" x2="154.73" y2="119.4" stroke="#222" stroke-width="0.6" />
<line x1="156.89" y1="117.4" x2="156.89" y2="119.4" stroke="#222" stroke-width="0.6" />
<line x1="158.65" y1="117.4" x2="158.65" y2="119.4" stroke="#222" stroke-width="0.6" />
<line x1="160.15" y1="117.4" x2="160.15" y2="119.4" stroke="#222" stroke-width="0.6" />
<line x1="161.44" y1="117.4" x2="161.44" y2="119.4" stroke="#222" stroke-width="0.6" />
<line x1="162.58" y1="117.4" x2="162.58" y2="119.4" stroke="#222" stroke-width="0.6" />
<line x1="163.6" y1="117.4" x2="163.6" y2="120.4" stroke="#222" stroke-width="0.6" />
<line x1="170.31" y1="117.4" x2="170.31" y2="119.4" stroke="#222" stroke-width="0.6" />
<line x1="174.24" y1="117.4" x2="174.24" y2="119.4" stroke="#222" stroke-width="0.6" />
<line x1="177.03" y1="117.4" x2="177.03" y2="119.4" stroke="#222" stroke-width="0.6" />
<line x1="179.19" y1="117.4" x2="179.19" y2="119.4" stroke="#222" stroke-width="0.6" />
<line x1="180.95" y1="117.4" x2="180.95" y2="119.4" stroke="#222" stroke-width="0.6" />
<line x1="182.45" y1="117.4" x2="182.45" y2="119.4" stroke="#222" stroke-width="0.6" />
<line x1="183.74" y1="117.4" x2="183.74" y2="119.4" stroke="#222" stroke-width="0.6" />
<line x1="184.88" y1="117.4" x2="184.88" y2="119.4" stroke="#222" stroke-width="0.6" />
<line x1="185.9" y1="117.4" x2="185.9" y2="120.4" stroke="#222" stroke-width="0.6" />
<line x1="192.61" y1="117.4" x2="192.61" y2="119.4" stroke="#222" stroke-width="0.6" />
<line x1="196.54" y1="117.4" x2="196.54" y2="119.4" stroke="#222" stroke-width="0.6" />
<line x1="199.33" y1="117.4" x2="199.33" y2="119.4" stroke="#222" stroke-width="0.6" />
<line x1="201.49" y1="117.4" x2="201.49" y2="119.4" stroke="#222" stroke-width="0.6" />
<line x1="203.25" y1="117.4" x2="203.25" y2="119.4" stroke="#222" stroke-width="0.6" />
<line x1="204.75" y1="117.4" x2="204.75" y2="119.4" stroke="#222" stroke-width="0.6" />
<line x1="206.04" y1="117.4" x2="206.04" y2="119.4" stroke="#222" stroke-width="0.6" />
<line x1="207.18" y1="117.4" x2="207.18" y2="119.4" stroke="#222" stroke-width="0.6" />
<line x1="208.2" y1="117.4" x2="208.2" y2="120.4" stroke="#222" stroke-width="0.6" />
<line x1="214.91" y1="117.4" x2="214.91" y2="119.4" stroke="#222" stroke-width="0.6" />
<line x1="127.3" y1="116.56" x2="129.3" y2="116.56" stroke="#222" stroke-width="0.6" />
<line x1="127.3" y1="114.04" x2="129.3" y2="114.04" stroke="#222" stroke-width="0.6" />
<line x1="127.3" y1="112.08" x2="129.3" y2="112.08" stroke="#222" stroke-width="0.6" />
<line x1="127.3" y1="110.48" x2="129.3" y2="110.48" stroke="#222" stroke-width="0.6" />
<line x1="127.3" y1="109.13" x2="129.3" y2="109.13" stroke="#222" stroke-width="0.6" />
<line x1="127.3" y1="107.96" x2="129.3" y2="107.96" stroke="#222" stroke-width="0.6" />
<line x1="127.3" y1="106.92" x2="129.3" y2="106.92" stroke="#222" stroke-width="0.6" />
<line x1="126.3" y1="106" x2="129.3" y2="106" stroke="#222" stroke-width="0.6" />
<line x1="127.3" y1="99.92" x2="129.3" y2="99.92" stroke="#222" stroke-width="0.6" />
<line x1="127.3" y1="96.36" x2="129.3" y2="96.36" stroke="#222" stroke-width="0.6" />
<line x1="127.3" y1="93.84" x2="129.3" y2="93.84" stroke="#222" stroke-width="0.6" />
<line x1="127.3" y1="91.88" x2="129.3" y2="91.88" stroke="#222" stroke-width="0.6" />
<line x1="127.3" y1="90.28" x2="129.3" y2="90.28" stroke="#222" stroke-width="0.6" />
<line x1="127.3" y1="88.93" x2="129.3" y2="88.93" stroke="#222" stroke-width="0.6" />
<line x1="127.3" y1="87.76" x2="129.3" y2="87.76" stroke="#222" stroke-width="0.6" />
<line x1="127.3" y1="86.72" x2="129.3" y2="86.72" stroke="#222" stroke-width="0.6" />
<line x1="126.3" y1="85.8" x2="129.3" y2="85.8" stroke="#222" stroke-width="0.6" />
<line x1="127.3" y1="79.72" x2="129.3" y2="79.72" stroke="#222" stroke-width="0.6" />
<line x1="127.3" y1="76.16" x2="129.3" y2="76.16" stroke="#222" stroke-width="0.6" />
<line x1="127.3" y1="73.64" x2="129.3" y2="73.64" stroke="#222" stroke-width="0.6" />
<line x1="127.3" y1="71.68" x2="129.3" y2="71.68" stroke="#222" stroke-width="0.6" />
<line x1="127.3" y1="70.08" x2="129.3" y2="70.08" stroke="#222" stroke-width="0.6" />
<line x1="127.3" y1="68.73" x2="129.3" y2="68.73" stroke="#222" stroke-width="0.6" />
<line x1="127.3" y1="67.56" x2="129.3" y2="67.56" stroke="#222" stroke-width="0.6" />
<line x1="127.3" y1="66.52" x2="129.3" y2="66.52" stroke="#222" stroke-width="0.6" />
<line x1="126.3" y1="65.6" x2="129.3" y2="65.6" stroke="#222" stroke-width="0.6" />
<line x1="127.3" y1="59.52" x2="129.3" y2="59.52" stroke="#222" stroke-width="0.6" />
<line x1="127.3" y1="55.96" x2="129.3" y2="55.96" stroke="#222" stroke-width="0.6" />
<line x1="127.3" y1="53.44" x2="129.3" y2="53.44" stroke="#222" stroke-width="0.6" />
<line x1="127.3" y1="51.48" x2="129.3" y2="51.48" stroke="#222" stroke-width="0.6" />
<line x1="127.3" y1="49.88" x2="129.3" y2="49.88" stroke="#222" stroke-width="0.6" />
<line x1="127.3" y1="48.53" x2="129.3" y2="48.53" stroke="#222" stroke-width="0.6" />
<line x1="127.3" y1="47.36" x2="129.3" y2="47.36" stroke="#222" stroke-width="0.6" />
<line x1="127.3" y1="46.32" x2="129.3" y2="46.32" stroke="#222" stroke-width="0.6" />
<line x1="126.3" y1="45.4" x2="129.3" y2="45.4" stroke="#222" stroke-width="0.6" />
<line x1="127.3" y1="39.32" x2="129.3" y2="39.32" stroke="#222" stroke-width="0.6" />
<text x="141.3" y="126.2" font-family='"Liberation Sans", sans-serif' font-size="5.2" fill="#333" text-anchor="middle">10<tspan dy="-1.6" font-size="3.64">2</tspan></text>
<text x="163.6" y="126.2" font-family='"Liberation Sans", sans-serif' font-size="5.2" fill="#333" text-anchor="middle">10<tspan dy="-1.6" font-size="3.64">3</tspan></text>
<text x="186.1" y="126.2" font-family='"Liberation Sans", sans-serif' font-size="5.2" fill="#333" text-anchor="middle">10<tspan dy="-1.6" font-size="3.64">4</tspan></text>
<text x="208.5" y="126.2" font-family='"Liberation Sans", sans-serif' font-size="5.2" fill="#333" text-anchor="middle">10<tspan dy="-1.6" font-size="3.64">5</tspan></text>
<text x="0" y="0" transform="translate(123.7,46.3) rotate(-90)" font-family='"Liberation Sans", sans-serif' font-size="5.2" fill="#333" text-anchor="middle">10<tspan dy="-1.6" font-size="3.64">5</tspan></text>
<text x="0" y="0" transform="translate(123.7,66.5) rotate(-90)" font-family='"Liberation Sans", sans-serif' font-size="5.2" fill="#333" text-anchor="middle">10<tspan dy="-1.6" font-size="3.64">4</tspan></text>
<text x="0" y="0" transform="translate(123.7,85.8) rotate(-90)" font-family='"Liberation Sans", sans-serif' font-size="5.2" fill="#333" text-anchor="middle">10<tspan dy="-1.6" font-size="3.64">3</tspan></text>
<text x="0" y="0" transform="translate(123.7,106) rotate(-90)" font-family='"Liberation Sans", sans-serif' font-size="5.2" fill="#333" text-anchor="middle">10<tspan dy="-1.6" font-size="3.64">2</tspan></text>
<rect x="129.3" y="36.7" width="88.2" height="80.7" fill="none" stroke="#444" stroke-width="0.9"/>
<line x1="166" y1="36.7" x2="166" y2="117.4" stroke="#444" stroke-width="0.9" />
<line x1="129.3" y1="98.3" x2="217.5" y2="98.3" stroke="#444" stroke-width="0.9" />
<g filter="url(#soft)">
<path d="M276.17 26.1h0.7M263.88 1.73h0.7M247.23 43.83h0.7M253.61 38.97h0.7M276.78 43.53h0.7M268.78 41.54h0.7M291.33 39.7h0.7M300.14 27.21h0.7M301.7 18.79h0.7M277.22 17.19h0.7M277.03 46.5h0.7M288.49 31.52h0.7M304.23 6.38h0.7M263.97 54.16h0.7M282.45 11.05h0.7M300.64 48.3h0.7M268.25 50.7h0.7M263.67 44.72h0.7M286.26 27.97h0.7M254.25 25.52h0.7M247.39 49.45h0.7M286.35 35.9h0.7M289.38 31.06h0.7" stroke="#c8c8c8" stroke-width="0.7" stroke-opacity="0.6" fill="none"/>
<path d="M279.13 25.73h0.84M275.49 15.28h0.84M277.36 14.14h0.84M277.52 24.89h0.84M282.63 22.67h0.84M278.17 24.8h0.84M282.26 20.1h0.84M273.32 18.02h0.84M273.22 17.59h0.84M277.09 23.01h0.84M278.03 21.81h0.84M276.29 23.36h0.84M280.51 24.84h0.84M282.59 20.22h0.84M276.64 28.96h0.84M278.18 23.32h0.84M276.36 25.76h0.84M276.13 17.07h0.84M277.29 19.55h0.84M280.34 19.84h0.84M277.92 20.54h0.84M278.66 18.73h0.84M281.26 15.23h0.84M276.19 18.38h0.84M279.7 21.68h0.84M279.15 20.05h0.84M275.06 16.57h0.84M276.36 19.14h0.84M278.45 23.06h0.84M280.82 21.03h0.84M274.96 16.83h0.84M277.71 23.09h0.84M284.12 22.3h0.84M283.48 29.74h0.84M273.93 26.83h0.84M281.36 27.42h0.84M277.47 25.7h0.84M275.86 21.19h0.84M277.57 29.34h0.84M276.77 25.7h0.84M277.72 18.38h0.84M278.32 24.4h0.84M275.08 24.29h0.84M275.08 17.64h0.84M278.25 20.46h0.84M274.16 14.33h0.84M277.58 22.57h0.84M275.94 22.32h0.84M272.31 23.23h0.84M278.92 22.72h0.84M275.42 21.85h0.84M277.94 26.21h0.84M278.44 22.62h0.84M275.04 25.29h0.84M281.49 19.33h0.84M279.67 22.86h0.84M277.34 15.84h0.84M283.47 13.29h0.84M278.53 19.85h0.84M281.39 19.64h0.84" stroke="#8a8ad0" stroke-width="0.84" stroke-opacity="0.7" fill="none"/>
</g>
<line x1="245.42" y1="61.7" x2="245.42" y2="63.7" stroke="#222" stroke-width="0.6" />
<line x1="246.78" y1="61.7" x2="246.78" y2="63.7" stroke="#222" stroke-width="0.6" />
<line x1="247.94" y1="61.7" x2="247.94" y2="63.7" stroke="#222" stroke-width="0.6" />
<line x1="248.93" y1="61.7" x2="248.93" y2="63.7" stroke="#222" stroke-width="0.6" />
<line x1="249.81" y1="61.7" x2="249.81" y2="63.7" stroke="#222" stroke-width="0.6" />
<line x1="250.6" y1="61.7" x2="250.6" y2="64.7" stroke="#222" stroke-width="0.6" />
<line x1="255.78" y1="61.7" x2="255.78" y2="63.7" stroke="#222" stroke-width="0.6" />
<line x1="258.81" y1="61.7" x2="258.81" y2="63.7" stroke="#222" stroke-width="0.6" />
<line x1="260.96" y1="61.7" x2="260.96" y2="63.7" stroke="#222" stroke-width="0.6" />
<line x1="262.62" y1="61.7" x2="262.62" y2="63.7" stroke="#222" stroke-width="0.6" />
<line x1="263.98" y1="61.7" x2="263.98" y2="63.7" stroke="#222" stroke-width="0.6" />
<line x1="265.14" y1="61.7" x2="265.14" y2="63.7" stroke="#222" stroke-width="0.6" />
<line x1="266.13" y1="61.7" x2="266.13" y2="63.7" stroke="#222" stroke-width="0.6" />
<line x1="267.01" y1="61.7" x2="267.01" y2="63.7" stroke="#222" stroke-width="0.6" />
<line x1="267.8" y1="61.7" x2="267.8" y2="64.7" stroke="#222" stroke-width="0.6" />
<line x1="272.98" y1="61.7" x2="272.98" y2="63.7" stroke="#222" stroke-width="0.6" />
<line x1="276.01" y1="61.7" x2="276.01" y2="63.7" stroke="#222" stroke-width="0.6" />
<line x1="278.16" y1="61.7" x2="278.16" y2="63.7" stroke="#222" stroke-width="0.6" />
<line x1="279.82" y1="61.7" x2="279.82" y2="63.7" stroke="#222" stroke-width="0.6" />
<line x1="281.18" y1="61.7" x2="281.18" y2="63.7" stroke="#222" stroke-width="0.6" />
<line x1="282.34" y1="61.7" x2="282.34" y2="63.7" stroke="#222" stroke-width="0.6" />
<line x1="283.33" y1="61.7" x2="283.33" y2="63.7" stroke="#222" stroke-width="0.6" />
<line x1="284.21" y1="61.7" x2="284.21" y2="63.7" stroke="#222" stroke-width="0.6" />
<line x1="285" y1="61.7" x2="285" y2="64.7" stroke="#222" stroke-width="0.6" />
<line x1="290.18" y1="61.7" x2="290.18" y2="63.7" stroke="#222" stroke-width="0.6" />
<line x1="293.21" y1="61.7" x2="293.21" y2="63.7" stroke="#222" stroke-width="0.6" />
<line x1="295.36" y1="61.7" x2="295.36" y2="63.7" stroke="#222" stroke-width="0.6" />
<line x1="297.02" y1="61.7" x2="297.02" y2="63.7" stroke="#222" stroke-width="0.6" />
<line x1="298.38" y1="61.7" x2="298.38" y2="63.7" stroke="#222" stroke-width="0.6" />
<line x1="299.54" y1="61.7" x2="299.54" y2="63.7" stroke="#222" stroke-width="0.6" />
<line x1="300.53" y1="61.7" x2="300.53" y2="63.7" stroke="#222" stroke-width="0.6" />
<line x1="301.41" y1="61.7" x2="301.41" y2="63.7" stroke="#222" stroke-width="0.6" />
<line x1="302.2" y1="61.7" x2="302.2" y2="64.7" stroke="#222" stroke-width="0.6" />
<line x1="307.38" y1="61.7" x2="307.38" y2="63.7" stroke="#222" stroke-width="0.6" />
<line x1="241.6" y1="60.9" x2="243.6" y2="60.9" stroke="#222" stroke-width="0.6" />
<line x1="241.6" y1="59.01" x2="243.6" y2="59.01" stroke="#222" stroke-width="0.6" />
<line x1="241.6" y1="57.55" x2="243.6" y2="57.55" stroke="#222" stroke-width="0.6" />
<line x1="241.6" y1="56.35" x2="243.6" y2="56.35" stroke="#222" stroke-width="0.6" />
<line x1="241.6" y1="55.34" x2="243.6" y2="55.34" stroke="#222" stroke-width="0.6" />
<line x1="241.6" y1="54.46" x2="243.6" y2="54.46" stroke="#222" stroke-width="0.6" />
<line x1="241.6" y1="53.69" x2="243.6" y2="53.69" stroke="#222" stroke-width="0.6" />
<line x1="240.6" y1="53" x2="243.6" y2="53" stroke="#222" stroke-width="0.6" />
<line x1="241.6" y1="48.45" x2="243.6" y2="48.45" stroke="#222" stroke-width="0.6" />
<line x1="241.6" y1="45.8" x2="243.6" y2="45.8" stroke="#222" stroke-width="0.6" />
<line x1="241.6" y1="43.91" x2="243.6" y2="43.91" stroke="#222" stroke-width="0.6" />
<line x1="241.6" y1="42.45" x2="243.6" y2="42.45" stroke="#222" stroke-width="0.6" />
<line x1="241.6" y1="41.25" x2="243.6" y2="41.25" stroke="#222" stroke-width="0.6" />
<line x1="241.6" y1="40.24" x2="243.6" y2="40.24" stroke="#222" stroke-width="0.6" />
<line x1="241.6" y1="39.36" x2="243.6" y2="39.36" stroke="#222" stroke-width="0.6" />
<line x1="241.6" y1="38.59" x2="243.6" y2="38.59" stroke="#222" stroke-width="0.6" />
<line x1="240.6" y1="37.9" x2="243.6" y2="37.9" stroke="#222" stroke-width="0.6" />
<line x1="241.6" y1="33.35" x2="243.6" y2="33.35" stroke="#222" stroke-width="0.6" />
<line x1="241.6" y1="30.7" x2="243.6" y2="30.7" stroke="#222" stroke-width="0.6" />
<line x1="241.6" y1="28.81" x2="243.6" y2="28.81" stroke="#222" stroke-width="0.6" />
<line x1="241.6" y1="27.35" x2="243.6" y2="27.35" stroke="#222" stroke-width="0.6" />
<line x1="241.6" y1="26.15" x2="243.6" y2="26.15" stroke="#222" stroke-width="0.6" />
<line x1="241.6" y1="25.14" x2="243.6" y2="25.14" stroke="#222" stroke-width="0.6" />
<line x1="241.6" y1="24.26" x2="243.6" y2="24.26" stroke="#222" stroke-width="0.6" />
<line x1="241.6" y1="23.49" x2="243.6" y2="23.49" stroke="#222" stroke-width="0.6" />
<line x1="240.6" y1="22.8" x2="243.6" y2="22.8" stroke="#222" stroke-width="0.6" />
<line x1="241.6" y1="18.25" x2="243.6" y2="18.25" stroke="#222" stroke-width="0.6" />
<line x1="241.6" y1="15.6" x2="243.6" y2="15.6" stroke="#222" stroke-width="0.6" />
<line x1="241.6" y1="13.71" x2="243.6" y2="13.71" stroke="#222" stroke-width="0.6" />
<line x1="241.6" y1="12.25" x2="243.6" y2="12.25" stroke="#222" stroke-width="0.6" />
<line x1="241.6" y1="11.05" x2="243.6" y2="11.05" stroke="#222" stroke-width="0.6" />
<line x1="241.6" y1="10.04" x2="243.6" y2="10.04" stroke="#222" stroke-width="0.6" />
<line x1="241.6" y1="9.16" x2="243.6" y2="9.16" stroke="#222" stroke-width="0.6" />
<line x1="241.6" y1="8.39" x2="243.6" y2="8.39" stroke="#222" stroke-width="0.6" />
<line x1="240.6" y1="7.7" x2="243.6" y2="7.7" stroke="#222" stroke-width="0.6" />
<line x1="241.6" y1="3.15" x2="243.6" y2="3.15" stroke="#222" stroke-width="0.6" />
<text x="250.6" y="70.2" font-family='"Liberation Sans", sans-serif' font-size="4.9" fill="#333" text-anchor="middle">10<tspan dy="-1.6" font-size="3.43">2</tspan></text>
<text x="267.8" y="70.2" font-family='"Liberation Sans", sans-serif' font-size="4.9" fill="#333" text-anchor="middle">10<tspan dy="-1.6" font-size="3.43">3</tspan></text>
<text x="285.2" y="70.2" font-family='"Liberation Sans", sans-serif' font-size="4.9" fill="#333" text-anchor="middle">10<tspan dy="-1.6" font-size="3.43">4</tspan></text>
<text x="302.4" y="70.2" font-family='"Liberation Sans", sans-serif' font-size="4.9" fill="#333" text-anchor="middle">10<tspan dy="-1.6" font-size="3.43">5</tspan></text>
<text x="0" y="0" transform="translate(240,7.8) rotate(-90)" font-family='"Liberation Sans", sans-serif' font-size="4.9" fill="#333" text-anchor="middle">10<tspan dy="-1.6" font-size="3.43">5</tspan></text>
<text x="0" y="0" transform="translate(240,22.9) rotate(-90)" font-family='"Liberation Sans", sans-serif' font-size="4.9" fill="#333" text-anchor="middle">10<tspan dy="-1.6" font-size="3.43">4</tspan></text>
<text x="0" y="0" transform="translate(240,38.1) rotate(-90)" font-family='"Liberation Sans", sans-serif' font-size="4.9" fill="#333" text-anchor="middle">10<tspan dy="-1.6" font-size="3.43">3</tspan></text>
<text x="0" y="0" transform="translate(240,53) rotate(-90)" font-family='"Liberation Sans", sans-serif' font-size="4.9" fill="#333" text-anchor="middle">10<tspan dy="-1.6" font-size="3.43">2</tspan></text>
<rect x="243.6" y="0.5" width="65.2" height="61.2" fill="none" stroke="#444" stroke-width="0.9"/>
<line x1="277.8" y1="0.5" x2="277.8" y2="61.7" stroke="#444" stroke-width="0.9" />
<line x1="243.6" y1="35.2" x2="308.8" y2="35.2" stroke="#444" stroke-width="0.9" />
<g filter="url(#soft)">
<path d="M374.39 56.66h0.7M378.56 49.88h0.7M380.81 55.35h0.7M383.88 49.94h0.7M373.54 50.66h0.7M365.63 54.53h0.7M378.08 61.5h0.7M370.75 55.32h0.7M385.41 52.32h0.7M374.63 53.8h0.7M367.12 47.09h0.7M385.14 54.04h0.7M373.26 45.57h0.7M375.17 60.02h0.7M362.53 47.67h0.7M385.06 61.56h0.7M389.47 49.7h0.7M379.98 48.51h0.7M379.19 50.82h0.7M375.95 61.01h0.7M377.37 51.56h0.7M374.56 54.59h0.7M368.9 54.23h0.7M379.97 62.31h0.7M353.49 45.9h0.7M361.69 58.23h0.7M398.27 54.16h0.7M375.21 59.79h0.7M349.72 51.93h0.7M343.02 53.92h0.7M368.95 50.11h0.7M377.38 49.52h0.7M385.04 52.98h0.7M377.79 68.13h0.7M369.54 58.52h0.7M365.79 60.43h0.7M383.58 53.83h0.7M383.85 62.58h0.7M387.68 53.01h0.7M373.46 59.59h0.7M359.4 49.41h0.7M378.81 56.39h0.7M392.46 63.47h0.7M377.22 55.63h0.7M360.93 51.9h0.7M376.59 51.66h0.7M374.6 56.62h0.7M364.57 49.63h0.7M356.39 59.8h0.7M363.55 42.88h0.7M381.63 51.73h0.7M383.56 50.81h0.7M395.04 57.24h0.7M375.49 53.69h0.7M371.96 57.8h0.7M393.78 50.49h0.7M363.24 56.55h0.7M384.55 44.15h0.7M367.16 47.09h0.7M379.56 56h0.7M366.75 46.32h0.7M380.75 40.81h0.7M380.36 52.08h0.7M392.96 58.89h0.7M368.28 51.38h0.7M371.27 48.69h0.7M374.81 58.71h0.7M359.13 51.65h0.7M388.72 57.39h0.7M365.97 48.23h0.7M365.57 43.5h0.7M385.34 53.41h0.7M367.13 44.52h0.7M370.22 49.97h0.7M390.96 50.28h0.7M375.14 59.33h0.7M380.58 51.93h0.7M352.52 61.28h0.7M379.89 50.44h0.7M373.13 47.36h0.7M365.16 44.24h0.7M378.94 56.06h0.7M375.72 57.6h0.7M379.27 53.72h0.7M365.31 56.49h0.7M385.67 56.72h0.7M386.27 50.21h0.7M364.38 60.38h0.7M368.27 54.43h0.7M372.13 53.13h0.7M371.34 49.82h0.7M356.49 64.23h0.7M376 41.66h0.7M365.1 46.37h0.7M366.72 38h0.7M379.64 62.65h0.7M371.59 57.38h0.7M379.89 45.67h0.7M385.95 43.08h0.7M368.36 50.89h0.7M386.32 53.7h0.7M372.78 48.27h0.7M374.88 53.25h0.7M381.16 61.2h0.7M381.23 53.11h0.7M372.5 62.41h0.7M375.97 52.9h0.7M391.59 62.22h0.7M379.57 52.36h0.7M367.79 59.27h0.7" stroke="#cfcfcf" stroke-width="0.7" stroke-opacity="0.7" fill="none"/>
<path d="M372.66 55.23h0.9M371.17 52.8h0.9M376.51 52.91h0.9M375.75 53.58h0.9M369.65 49.35h0.9M374.04 57.62h0.9M374.14 49.87h0.9M371.73 52.6h0.9M380.02 50.9h0.9M377.22 53.03h0.9M373.1 49.82h0.9M374.02 50.45h0.9M377.12 47.51h0.9M379.77 54.65h0.9M377.3 56.74h0.9M377.41 47.66h0.9M374.94 53.77h0.9M371.63 49.3h0.9M376.64 53.95h0.9M372.79 51.81h0.9M372.42 50.89h0.9M374.44 55.54h0.9M367.47 51.54h0.9M381.95 53.4h0.9M375.39 54.86h0.9M370.2 49.08h0.9M367.25 48.38h0.9M375.82 54.9h0.9M372.83 50.58h0.9M376.51 54.24h0.9M375.85 47.12h0.9M372.26 45.34h0.9M375.79 50.1h0.9M371.76 56.75h0.9M380.62 53.86h0.9M375.94 52.99h0.9M372.08 52.36h0.9M383.27 50.03h0.9M371.73 52.96h0.9M378.7 54.85h0.9M370.37 52.13h0.9M373.51 49.02h0.9M375.05 51.14h0.9M378.82 53.72h0.9M371.21 52.73h0.9M373.1 50.71h0.9M372.52 55.5h0.9M372.85 47.66h0.9M371.24 54.78h0.9M384.33 49.53h0.9M373.11 51.57h0.9M368.4 53.63h0.9M374.47 53.29h0.9M384.72 51.75h0.9M378.25 54.85h0.9M371.86 50.83h0.9M381.67 54.52h0.9M375.34 49.42h0.9M378.65 53.99h0.9M384.53 56.66h0.9M378.3 53.26h0.9M374.98 50.95h0.9M376.08 53.19h0.9M377.62 55.56h0.9M376.1 50.97h0.9M378.31 56.88h0.9M370.97 53.68h0.9M377.15 54.01h0.9M376.96 52.24h0.9M374.25 57.26h0.9M382.45 48.55h0.9M363.35 53.74h0.9M371.69 51.04h0.9M367.57 53.5h0.9M374.46 50.98h0.9M378.72 59.36h0.9M381.29 55.81h0.9M372.86 54.36h0.9M374.53 55.76h0.9M377.3 52.4h0.9M377.17 50.48h0.9M378.24 56.74h0.9M373.09 54.07h0.9M367.26 55.14h0.9M378.62 49.62h0.9M382.49 52.82h0.9M366.97 48.64h0.9M378.61 51.73h0.9M379.63 48.13h0.9M374.26 55.25h0.9M371.67 54.42h0.9M373.1 53.47h0.9M376.14 58.79h0.9M369.17 54.7h0.9M380.57 49.33h0.9M375.07 59.01h0.9M379.39 44.14h0.9M373.64 47.68h0.9M376.06 50.46h0.9M372.19 50.14h0.9M376.02 51.19h0.9M370.66 51.86h0.9M376.52 50.09h0.9M379.66 47.82h0.9M376.52 51.41h0.9M381.73 50.69h0.9M371.74 48.72h0.9M383.58 54.24h0.9M369.85 51.55h0.9M370.42 56.79h0.9M376.57 46.76h0.9M375.64 55.08h0.9M374.71 53.83h0.9M374.21 53.09h0.9M375.65 50.51h0.9M376.25 52.97h0.9M374.53 50.57h0.9M370.17 53.19h0.9M378.39 45.69h0.9M372.31 56.32h0.9M378.79 50.49h0.9M380.74 49.72h0.9M371.17 57.97h0.9M372.75 51.89h0.9M367.33 49.65h0.9M369.44 52.11h0.9M366.5 55.5h0.9M373.11 50.79h0.9M371.86 54.6h0.9M381.56 51.35h0.9M381.92 57.04h0.9M380.7 53.34h0.9M368.04 54.4h0.9M372.87 53.05h0.9M366.27 51.7h0.9M375.74 49.86h0.9M376.02 57.22h0.9M375.73 50.57h0.9M385.37 46.43h0.9M370.59 53.65h0.9M372.05 46.03h0.9M375.86 54.85h0.9M371.14 56.64h0.9M376.94 55.87h0.9M367.86 52.49h0.9M381.86 58.19h0.9M380.6 52.5h0.9M375.52 50.73h0.9M379.62 50.54h0.9M375.25 46.67h0.9M367.96 57.53h0.9M374.96 53.11h0.9M364.86 52.41h0.9M383.99 48.27h0.9M364.04 52.04h0.9M372.32 51.91h0.9M369.06 48.66h0.9M369.16 54.31h0.9M374.49 54.83h0.9M369.86 54.17h0.9M372.71 52.75h0.9M378.89 52.59h0.9M373.12 47.79h0.9M374.99 54.72h0.9M371.86 52.31h0.9M366.75 48.72h0.9M376.51 56.18h0.9M373.3 47.76h0.9M372.99 48.06h0.9M373.46 57.98h0.9M376.05 52.07h0.9M379.37 51.42h0.9M376.2 53.07h0.9M376.71 48.32h0.9M377.9 55.01h0.9M364.41 44.79h0.9M370.66 56.74h0.9M374.79 54.43h0.9M377.2 55.03h0.9M371.82 50.83h0.9M376.4 54.23h0.9M377.29 53.47h0.9M372.51 55.65h0.9M376.83 55.53h0.9M363.21 55.38h0.9M363.67 53.1h0.9M371.69 52.84h0.9M372.55 51.61h0.9M375.57 53.49h0.9M371.08 45.28h0.9M371.17 54.05h0.9M370.88 53.72h0.9M373.03 49.81h0.9M380 57.24h0.9M374.23 52.36h0.9M379.05 48.7h0.9M370.74 55.74h0.9M378.79 51.09h0.9M371.17 53.5h0.9M368.31 51.07h0.9M373.65 45.45h0.9M377.38 54.69h0.9M379.55 48.38h0.9M368.86 50.16h0.9M368.76 58.39h0.9M370.25 51.6h0.9M375.64 53.81h0.9M381.31 49.37h0.9M378.71 52.93h0.9M369.36 52.93h0.9M368.31 57.16h0.9M371.37 55.39h0.9M380.63 50.72h0.9M370.61 52.88h0.9M369.92 55.09h0.9M375.5 50.3h0.9M371.57 54.59h0.9M368.08 57.36h0.9M371.11 51.94h0.9M370.48 57.18h0.9M378.46 56.25h0.9M377.69 52.76h0.9M382.45 54.42h0.9M376.7 54.16h0.9M378.07 53.3h0.9M373.94 47.9h0.9M384.12 48.75h0.9M364.84 50.44h0.9M383.56 56.02h0.9M371.94 53.26h0.9M374.59 46.76h0.9M373.17 53.34h0.9M380.07 49.02h0.9M364.35 47.95h0.9M376.22 52.73h0.9M375.39 52.93h0.9M373.02 48.55h0.9M376.78 53.62h0.9M377.35 56.11h0.9M369.01 45.73h0.9M366.51 58.69h0.9M370.5 53.66h0.9M374.63 54.61h0.9M389.45 51h0.9M373.92 50.77h0.9M375.83 54.01h0.9M370.24 56.32h0.9M379.97 53.79h0.9M374.19 51.81h0.9M367.14 54.4h0.9M370.22 51.04h0.9M379.28 49.83h0.9M372.3 54.99h0.9M383.24 50.5h0.9M379.78 50.6h0.9M376.48 53.9h0.9M369.46 55.47h0.9M382.98 52.65h0.9M375.94 49.1h0.9M382.92 52.68h0.9M368.83 54.72h0.9M367.98 50.51h0.9M364.9 56.49h0.9M384.87 50.66h0.9M371.69 50.83h0.9M372.1 54.11h0.9M381.41 49.58h0.9M376.73 47.27h0.9M381.71 52.24h0.9M371.48 56.94h0.9M374.21 56.47h0.9M379.64 57.31h0.9M371.02 52.66h0.9M376.39 51.94h0.9M381.7 50.43h0.9M379.31 56.45h0.9M365.72 49.69h0.9M370.54 50.92h0.9M376.5 52h0.9M375.06 51.17h0.9M374.32 53.9h0.9M378.13 50.23h0.9M374.18 50.29h0.9M373.88 48.34h0.9M379.09 54.45h0.9M374.14 50.52h0.9M372.6 50.57h0.9M367.6 57.24h0.9M389.83 48.93h0.9M369.33 54.18h0.9M377.49 47.94h0.9M365.86 54.07h0.9M365.54 56.63h0.9M372.42 52.75h0.9M374.69 50.88h0.9M374.05 51.63h0.9M380.42 52.23h0.9M374.55 50.97h0.9M371.78 50.36h0.9M374.75 57.83h0.9M379.83 53.19h0.9M382.38 55.44h0.9M375.65 52.02h0.9M369.65 53.22h0.9M373.25 47.9h0.9M368.79 58.12h0.9M375.69 53.94h0.9M375.62 51.15h0.9M376.82 55.64h0.9M373.28 53.99h0.9M379.42 51.1h0.9M375.48 50.35h0.9M377.47 51.43h0.9M379.97 50.28h0.9M382.47 51.6h0.9M370.84 49.88h0.9M377.75 50.02h0.9M383 56.22h0.9M377.08 48.38h0.9M374.59 50.39h0.9M366.37 53.73h0.9M384.83 50.95h0.9M378.42 56.22h0.9M370.28 51.51h0.9M375.93 53.87h0.9M369.43 53.13h0.9M374.21 55.26h0.9M367.35 50.86h0.9M372.38 51.58h0.9M378.02 50.68h0.9M387.29 50.45h0.9M378.56 55.46h0.9M379.14 51.91h0.9M370.88 51.76h0.9M377.76 52.85h0.9M377.38 54.17h0.9M370.63 49.79h0.9M381.33 51.09h0.9M367.41 57.89h0.9M370.87 49.79h0.9M379.15 49.22h0.9M370.69 55.54h0.9M370.93 59.77h0.9M375.15 60.28h0.9M375.29 52.66h0.9M371.75 51.85h0.9M372.4 52.43h0.9M378.25 48.81h0.9M370.48 46.43h0.9M381.62 52.28h0.9M374.64 52.33h0.9M379.32 53.43h0.9M378.61 52.01h0.9M374.14 52.34h0.9M366.13 55.66h0.9M367.44 49.62h0.9M377.79 52.66h0.9M378.44 57.45h0.9M383.27 56.51h0.9M373.66 58.44h0.9M370.65 52.25h0.9M379.28 51.88h0.9M374.14 51.48h0.9M380.98 45.35h0.9M380.55 55.57h0.9M374.37 54.13h0.9M370.25 55.72h0.9M388.78 49.83h0.9M381.12 52.34h0.9M373.15 51.09h0.9M373.83 48.87h0.9M368.45 57.32h0.9M374.62 54.1h0.9M376.13 53.88h0.9M367.68 49.75h0.9M377.61 55.4h0.9M369.44 50.82h0.9M369.78 54.39h0.9M376.28 52.6h0.9M371.71 53.5h0.9" stroke="#5ccc5c" stroke-width="0.9" stroke-opacity="0.6" fill="none"/>
</g>
<line x1="341.31" y1="85.4" x2="341.31" y2="87.4" stroke="#222" stroke-width="0.6" />
<line x1="343.44" y1="85.4" x2="343.44" y2="87.4" stroke="#222" stroke-width="0.6" />
<line x1="345.08" y1="85.4" x2="345.08" y2="87.4" stroke="#222" stroke-width="0.6" />
<line x1="346.43" y1="85.4" x2="346.43" y2="87.4" stroke="#222" stroke-width="0.6" />
<line x1="347.57" y1="85.4" x2="347.57" y2="87.4" stroke="#222" stroke-width="0.6" />
<line x1="348.55" y1="85.4" x2="348.55" y2="87.4" stroke="#222" stroke-width="0.6" />
<line x1="349.42" y1="85.4" x2="349.42" y2="87.4" stroke="#222" stroke-width="0.6" />
<line x1="350.2" y1="85.4" x2="350.2" y2="88.4" stroke="#222" stroke-width="0.6" />
<line x1="355.32" y1="85.4" x2="355.32" y2="87.4" stroke="#222" stroke-width="0.6" />
<line x1="358.31" y1="85.4" x2="358.31" y2="87.4" stroke="#222" stroke-width="0.6" />
<line x1="360.44" y1="85.4" x2="360.44" y2="87.4" stroke="#222" stroke-width="0.6" />
<line x1="362.08" y1="85.4" x2="362.08" y2="87.4" stroke="#222" stroke-width="0.6" />
<line x1="363.43" y1="85.4" x2="363.43" y2="87.4" stroke="#222" stroke-width="0.6" />
<line x1="364.57" y1="85.4" x2="364.57" y2="87.4" stroke="#222" stroke-width="0.6" />
<line x1="365.55" y1="85.4" x2="365.55" y2="87.4" stroke="#222" stroke-width="0.6" />
<line x1="366.42" y1="85.4" x2="366.42" y2="87.4" stroke="#222" stroke-width="0.6" />
<line x1="367.2" y1="85.4" x2="367.2" y2="88.4" stroke="#222" stroke-width="0.6" />
<line x1="372.32" y1="85.4" x2="372.32" y2="87.4" stroke="#222" stroke-width="0.6" />
<line x1="375.31" y1="85.4" x2="375.31" y2="87.4" stroke="#222" stroke-width="0.6" />
<line x1="377.44" y1="85.4" x2="377.44" y2="87.4" stroke="#222" stroke-width="0.6" />
<line x1="379.08" y1="85.4" x2="379.08" y2="87.4" stroke="#222" stroke-width="0.6" />
<line x1="380.43" y1="85.4" x2="380.43" y2="87.4" stroke="#222" stroke-width="0.6" />
<line x1="381.57" y1="85.4" x2="381.57" y2="87.4" stroke="#222" stroke-width="0.6" />
<line x1="382.55" y1="85.4" x2="382.55" y2="87.4" stroke="#222" stroke-width="0.6" />
<line x1="383.42" y1="85.4" x2="383.42" y2="87.4" stroke="#222" stroke-width="0.6" />
<line x1="384.2" y1="85.4" x2="384.2" y2="88.4" stroke="#222" stroke-width="0.6" />
<line x1="389.32" y1="85.4" x2="389.32" y2="87.4" stroke="#222" stroke-width="0.6" />
<line x1="392.31" y1="85.4" x2="392.31" y2="87.4" stroke="#222" stroke-width="0.6" />
<line x1="394.44" y1="85.4" x2="394.44" y2="87.4" stroke="#222" stroke-width="0.6" />
<line x1="396.08" y1="85.4" x2="396.08" y2="87.4" stroke="#222" stroke-width="0.6" />
<line x1="397.43" y1="85.4" x2="397.43" y2="87.4" stroke="#222" stroke-width="0.6" />
<line x1="398.57" y1="85.4" x2="398.57" y2="87.4" stroke="#222" stroke-width="0.6" />
<line x1="399.55" y1="85.4" x2="399.55" y2="87.4" stroke="#222" stroke-width="0.6" />
<line x1="400.42" y1="85.4" x2="400.42" y2="87.4" stroke="#222" stroke-width="0.6" />
<line x1="401.2" y1="85.4" x2="401.2" y2="88.4" stroke="#222" stroke-width="0.6" />
<line x1="338.5" y1="83.45" x2="340.5" y2="83.45" stroke="#222" stroke-width="0.6" />
<line x1="338.5" y1="81.88" x2="340.5" y2="81.88" stroke="#222" stroke-width="0.6" />
<line x1="338.5" y1="80.59" x2="340.5" y2="80.59" stroke="#222" stroke-width="0.6" />
<line x1="338.5" y1="79.51" x2="340.5" y2="79.51" stroke="#222" stroke-width="0.6" />
<line x1="338.5" y1="78.57" x2="340.5" y2="78.57" stroke="#222" stroke-width="0.6" />
<line x1="338.5" y1="77.74" x2="340.5" y2="77.74" stroke="#222" stroke-width="0.6" />
<line x1="337.5" y1="77" x2="340.5" y2="77" stroke="#222" stroke-width="0.6" />
<line x1="338.5" y1="72.12" x2="340.5" y2="72.12" stroke="#222" stroke-width="0.6" />
<line x1="338.5" y1="69.27" x2="340.5" y2="69.27" stroke="#222" stroke-width="0.6" />
<line x1="338.5" y1="67.25" x2="340.5" y2="67.25" stroke="#222" stroke-width="0.6" />
<line x1="338.5" y1="65.68" x2="340.5" y2="65.68" stroke="#222" stroke-width="0.6" />
<line x1="338.5" y1="64.39" x2="340.5" y2="64.39" stroke="#222" stroke-width="0.6" />
<line x1="338.5" y1="63.31" x2="340.5" y2="63.31" stroke="#222" stroke-width="0.6" />
<line x1="338.5" y1="62.37" x2="340.5" y2="62.37" stroke="#222" stroke-width="0.6" />
<line x1="338.5" y1="61.54" x2="340.5" y2="61.54" stroke="#222" stroke-width="0.6" />
<line x1="337.5" y1="60.8" x2="340.5" y2="60.8" stroke="#222" stroke-width="0.6" />
<line x1="338.5" y1="55.92" x2="340.5" y2="55.92" stroke="#222" stroke-width="0.6" />
<line x1="338.5" y1="53.07" x2="340.5" y2="53.07" stroke="#222" stroke-width="0.6" />
<line x1="338.5" y1="51.05" x2="340.5" y2="51.05" stroke="#222" stroke-width="0.6" />
<line x1="338.5" y1="49.48" x2="340.5" y2="49.48" stroke="#222" stroke-width="0.6" />
<line x1="338.5" y1="48.19" x2="340.5" y2="48.19" stroke="#222" stroke-width="0.6" />
<line x1="338.5" y1="47.11" x2="340.5" y2="47.11" stroke="#222" stroke-width="0.6" />
<line x1="338.5" y1="46.17" x2="340.5" y2="46.17" stroke="#222" stroke-width="0.6" />
<line x1="338.5" y1="45.34" x2="340.5" y2="45.34" stroke="#222" stroke-width="0.6" />
<line x1="337.5" y1="44.6" x2="340.5" y2="44.6" stroke="#222" stroke-width="0.6" />
<line x1="338.5" y1="39.72" x2="340.5" y2="39.72" stroke="#222" stroke-width="0.6" />
<line x1="338.5" y1="36.87" x2="340.5" y2="36.87" stroke="#222" stroke-width="0.6" />
<line x1="338.5" y1="34.85" x2="340.5" y2="34.85" stroke="#222" stroke-width="0.6" />
<line x1="338.5" y1="33.28" x2="340.5" y2="33.28" stroke="#222" stroke-width="0.6" />
<line x1="338.5" y1="31.99" x2="340.5" y2="31.99" stroke="#222" stroke-width="0.6" />
<line x1="338.5" y1="30.91" x2="340.5" y2="30.91" stroke="#222" stroke-width="0.6" />
<line x1="338.5" y1="29.97" x2="340.5" y2="29.97" stroke="#222" stroke-width="0.6" />
<line x1="338.5" y1="29.14" x2="340.5" y2="29.14" stroke="#222" stroke-width="0.6" />
<line x1="337.5" y1="28.4" x2="340.5" y2="28.4" stroke="#222" stroke-width="0.6" />
<text x="350.2" y="93.9" font-family='"Liberation Sans", sans-serif' font-size="4.9" fill="#333" text-anchor="middle">10<tspan dy="-1.6" font-size="3.43">2</tspan></text>
<text x="367.2" y="93.9" font-family='"Liberation Sans", sans-serif' font-size="4.9" fill="#333" text-anchor="middle">10<tspan dy="-1.6" font-size="3.43">3</tspan></text>
<text x="382.5" y="93.9" font-family='"Liberation Sans", sans-serif' font-size="4.9" fill="#333" text-anchor="middle">10<tspan dy="-1.6" font-size="3.43">4</tspan></text>
<text x="397.5" y="93.9" font-family='"Liberation Sans", sans-serif' font-size="4.9" fill="#333" text-anchor="middle">10<tspan dy="-1.6" font-size="3.43">5</tspan></text>
<text x="0" y="0" transform="translate(336.9,32.3) rotate(-90)" font-family='"Liberation Sans", sans-serif' font-size="4.9" fill="#333" text-anchor="middle">10<tspan dy="-1.6" font-size="3.43">5</tspan></text>
<text x="0" y="0" transform="translate(336.9,48.5) rotate(-90)" font-family='"Liberation Sans", sans-serif' font-size="4.9" fill="#333" text-anchor="middle">10<tspan dy="-1.6" font-size="3.43">4</tspan></text>
<text x="0" y="0" transform="translate(336.9,62) rotate(-90)" font-family='"Liberation Sans", sans-serif' font-size="4.9" fill="#333" text-anchor="middle">10<tspan dy="-1.6" font-size="3.43">3</tspan></text>
<text x="0" y="0" transform="translate(336.9,77) rotate(-90)" font-family='"Liberation Sans", sans-serif' font-size="4.9" fill="#333" text-anchor="middle">10<tspan dy="-1.6" font-size="3.43">2</tspan></text>
<rect x="340.5" y="25.3" width="64.3" height="60.1" fill="none" stroke="#444" stroke-width="0.9"/>
<line x1="374.7" y1="25.3" x2="374.7" y2="85.4" stroke="#444" stroke-width="0.9" />
<line x1="340.5" y1="59.2" x2="404.8" y2="59.2" stroke="#444" stroke-width="0.9" />
<g filter="url(#soft)">
<path d="M370.29 141.8h0.8M373 142.35h0.8M378.57 151.38h0.8M363.81 151.11h0.8M370.61 142.06h0.8M359.82 149.43h0.8M380.87 142.6h0.8M371.44 149.41h0.8M377.03 150.1h0.8M381.04 152.36h0.8M363.14 149.78h0.8M348.92 145.74h0.8M370.18 151.06h0.8M367.28 152.83h0.8M381.89 141.12h0.8M365.11 148.82h0.8M374.41 148.01h0.8M377.48 138.72h0.8M376.98 155.17h0.8M379.99 149.99h0.8M367.86 149.8h0.8M369.33 135.89h0.8M364.55 146.72h0.8M365.36 140.47h0.8M367.91 144.4h0.8M370.62 146.66h0.8M371.55 153.95h0.8M371.23 149.84h0.8M366.4 151.74h0.8M366.95 142.64h0.8M358.84 153.24h0.8M365.25 148.72h0.8M380.18 150.75h0.8M390.19 146.07h0.8M378.61 151.86h0.8M364.1 147.33h0.8M364.92 139.83h0.8M372.7 141.58h0.8M385.12 141.81h0.8M365.1 147.64h0.8M365.33 147.37h0.8M364.53 137.05h0.8M348.29 137.97h0.8M383.69 150.11h0.8M371.38 143.75h0.8M368.69 149.09h0.8M357.5 141.41h0.8M361.99 155.81h0.8M360.49 155.21h0.8M369.29 147.23h0.8M382.16 153.12h0.8M378.45 139.52h0.8M380.22 158.76h0.8M369.08 143.61h0.8M360.18 154.12h0.8M372.65 147.05h0.8M358.88 158.35h0.8M377.88 146.86h0.8M383.29 140.34h0.8M377.93 140.01h0.8M382.7 145.07h0.8M381.01 144.09h0.8M373.59 154.99h0.8M361.88 147.68h0.8M362.46 152.96h0.8M364.57 144.39h0.8M368.18 155.15h0.8M360.63 146.82h0.8M367.04 143.15h0.8M362.91 145.88h0.8M371.76 136.17h0.8M372.1 138.71h0.8M370.13 162.96h0.8M361.29 146.54h0.8M367.71 153.87h0.8M355.5 148.24h0.8M372.28 154.47h0.8M365.17 151.66h0.8M360.42 156.07h0.8M369.36 142.25h0.8M371.6 159.2h0.8M362.37 138.32h0.8M360.86 138.91h0.8M369.54 149.46h0.8M368.52 148.38h0.8M380.67 144.98h0.8M372.18 142.24h0.8M367.76 149.87h0.8M374.16 136.03h0.8M361.39 147.52h0.8M368.71 155.03h0.8M380.53 135.55h0.8M361.27 149.73h0.8M360.47 164.42h0.8M372.14 150.75h0.8M366.07 162.52h0.8M374.86 141.98h0.8M364.72 149.02h0.8M371.24 140.29h0.8M384.22 157.3h0.8M361.59 149.61h0.8M364.29 143.97h0.8M378.88 147.88h0.8M369.02 147.72h0.8M359.45 155.55h0.8M363.24 156.16h0.8M365.88 143.81h0.8M383.37 148.34h0.8M364.25 143.25h0.8M375.45 160.1h0.8M375.52 144.25h0.8M359.91 142.29h0.8M368.93 148.71h0.8M364.1 155.96h0.8M361.38 142h0.8M374.48 150.37h0.8M366.49 153.73h0.8M357.33 158.44h0.8M389.68 160.67h0.8M371.07 160.77h0.8M370.48 156.3h0.8M368.21 148.36h0.8M368.13 159.02h0.8M343.7 149.7h0.8M378.3 149.29h0.8M371.75 156.71h0.8M361.5 144.93h0.8M371.3 143.87h0.8M369.06 158.68h0.8M343.61 155.06h0.8M378.43 151.21h0.8" stroke="#f09090" stroke-width="0.8" stroke-opacity="0.7" fill="none"/>
<path d="M370.11 143.29h0.9M372.54 144.09h0.9M364.94 146.51h0.9M364.22 142.82h0.9M367.49 137.82h0.9M374.23 142.69h0.9M361.85 142.65h0.9M360.36 149.45h0.9M373.61 151.93h0.9M366.03 146.17h0.9M363.23 139.17h0.9M369.38 144.85h0.9M376.46 141.8h0.9M377.7 147.33h0.9M363.89 142.2h0.9M363.6 150.66h0.9M366.15 146.97h0.9M376.38 141.86h0.9M366.6 144.54h0.9M364.59 137.33h0.9M363.26 144.52h0.9M371.34 150.9h0.9M357.25 145.26h0.9M361.95 148.18h0.9M374.85 143.57h0.9M380.28 141.33h0.9M366.31 138.29h0.9M365.43 143.52h0.9M374.69 148.73h0.9M368.13 139.73h0.9M367.67 141.08h0.9M366.74 141.2h0.9M363.93 142.77h0.9M366.43 142.24h0.9M360.36 143.65h0.9M373.98 145.9h0.9M366.18 137.9h0.9M360.95 137.76h0.9M365.53 141.62h0.9M357.67 145.99h0.9M359.3 139.94h0.9M364.99 146.7h0.9M382.78 141.42h0.9M368.1 141.25h0.9M368.61 142.24h0.9M369.24 139.48h0.9M372.48 140.68h0.9M373.99 138.18h0.9M384.64 143.93h0.9M357.74 146.12h0.9M366.74 137.86h0.9M373.06 140.69h0.9M375.12 140.56h0.9M376.26 143.66h0.9M372.48 143.7h0.9M367.47 141.39h0.9M373.13 146.16h0.9M367.17 152.95h0.9M381.72 137.91h0.9M377.52 142.69h0.9M371.61 139.5h0.9M381.43 139.34h0.9M369.44 139.79h0.9M383.37 148.57h0.9M360.88 141.01h0.9M372.52 141.09h0.9M367.55 138.23h0.9M371.74 138.16h0.9M375.76 153.64h0.9M367.75 150.3h0.9M372.58 140.04h0.9M367.62 138.75h0.9M370.79 146.11h0.9M376.43 141.77h0.9M361.76 142.67h0.9M381.55 144.25h0.9M367.01 145.42h0.9M363.47 148.98h0.9M366.1 139.15h0.9M366 142.6h0.9M376.9 140.51h0.9M357.7 142.66h0.9M373.61 149.82h0.9M362.26 149.56h0.9M374.67 145.02h0.9M364.71 139.11h0.9M363.42 147.13h0.9M371.51 147.73h0.9M382.53 143.1h0.9M369.67 151.48h0.9M361.01 141.04h0.9M367.45 141.34h0.9M370.99 139.31h0.9M378 137h0.9M360.35 145.61h0.9M374.33 142.15h0.9M375.82 145.74h0.9M366.03 142.85h0.9M372.53 151.88h0.9M366.97 144.65h0.9M373.76 148.39h0.9M372.93 147.75h0.9M362.68 141.86h0.9M356.67 142.8h0.9M370.61 144.19h0.9M371 137.19h0.9M365.23 142.26h0.9M371.16 139.22h0.9M369.27 139.79h0.9M360.92 140.13h0.9M364.46 146.71h0.9M379.22 145.58h0.9M368.54 140.58h0.9M359.2 140.71h0.9M380.77 148.1h0.9M371.55 141.95h0.9M370.03 144.89h0.9M369.95 144.91h0.9M364.7 143.23h0.9M367.59 147.76h0.9M361.47 148.73h0.9M369.41 140.82h0.9M370.15 143.57h0.9M368.4 144.89h0.9M374.79 142.92h0.9M381.46 144.73h0.9M356.24 148.48h0.9M365.27 145.44h0.9M385.27 147.82h0.9M362.48 142.63h0.9M358.95 145.96h0.9M373.87 138.53h0.9M373.12 147.14h0.9M375.56 140.09h0.9M365.24 138.12h0.9M361.11 144.42h0.9M370.27 148.74h0.9M371.89 141.62h0.9M360.19 149.81h0.9M371.13 142.9h0.9M363.09 138.44h0.9M374.35 138.77h0.9M374.02 145.79h0.9M367.38 135.93h0.9M372.83 149.19h0.9M364.33 137.51h0.9M377.49 143.67h0.9M365.71 148.41h0.9M368.1 145.02h0.9M367.24 139.75h0.9M371.51 139.28h0.9M357.8 140.68h0.9M378.48 147.84h0.9M384.94 147.38h0.9M381.09 144.14h0.9M367.01 145.08h0.9M363.48 146.25h0.9M366.92 144.17h0.9M364.15 142.46h0.9M376.74 142.1h0.9M365.37 144.28h0.9M376.05 142.23h0.9M361.97 136.24h0.9M360.8 147.7h0.9M369.39 145.13h0.9M377.38 144.29h0.9M373.31 140.84h0.9M358.95 145.79h0.9M369.34 145.56h0.9M362.69 142.43h0.9M383.84 139.38h0.9M370.67 148.76h0.9M368.41 143.59h0.9M355.38 146.43h0.9M366.97 148.65h0.9M369.38 141.43h0.9M372.99 142.01h0.9M366.47 149.77h0.9M376.74 143.53h0.9M375.55 146.64h0.9M373.99 143.26h0.9M370.5 144.83h0.9M373.88 144.59h0.9M366.22 142.73h0.9M373.14 138.79h0.9M369.94 146.34h0.9M371.16 141.82h0.9M369.84 140.96h0.9M376.74 141.43h0.9M358.58 137.83h0.9M372.06 143.97h0.9M366.76 137.38h0.9M368.98 139.43h0.9M365.5 143.06h0.9M364.75 144.41h0.9M364.93 141.05h0.9M368.44 149.38h0.9M380.81 147.14h0.9M364.95 143.09h0.9M376.26 146.55h0.9M358.84 142.83h0.9M364.93 146.3h0.9M374.37 140.75h0.9M384.68 141.87h0.9M369.42 151.25h0.9M366.39 141.03h0.9M380.11 142.9h0.9M373.28 137.65h0.9M382.26 147.3h0.9M372.45 146.11h0.9M366.57 141.03h0.9M359.24 144.66h0.9M378.48 146.75h0.9M376.3 146.12h0.9M363.7 137.46h0.9M374.39 143.78h0.9M376.75 141.89h0.9M363.96 144.98h0.9M366.19 136.03h0.9M365.83 139.3h0.9M362.37 140.71h0.9M376.5 153.17h0.9M381.84 141.29h0.9M377.83 142.76h0.9M372.76 140.17h0.9M369.49 135.88h0.9M382.28 139.79h0.9M374.01 140.56h0.9M371.85 138.03h0.9M367.43 146.99h0.9M375.84 137.45h0.9M371.96 145.3h0.9M365.6 141.71h0.9M368.32 144.79h0.9M376.26 148.91h0.9M372.24 151.61h0.9M363.51 150.69h0.9M368.21 146.36h0.9M369.14 143.43h0.9M363.71 144.73h0.9M383.88 143.71h0.9M369.86 143.09h0.9M374.89 142.2h0.9M369.97 144h0.9M378.93 147.14h0.9M362.79 140.37h0.9M370.14 146.7h0.9M376.64 142.19h0.9M384.58 142.38h0.9M379.63 149.16h0.9M380.93 143.93h0.9M373.95 136.54h0.9M357.81 140.46h0.9M374.93 147.62h0.9M369.3 147.52h0.9M373.96 149.59h0.9M359.09 139.53h0.9M363.44 138.61h0.9M381.3 139.12h0.9M364.32 141.37h0.9M376.06 141.1h0.9M375.05 145.43h0.9M363.71 137.74h0.9M381.21 140h0.9M362.66 144.68h0.9M370.37 139.07h0.9M377.51 146.98h0.9M371.91 139.83h0.9M372.63 144.75h0.9M363.69 143.18h0.9M358.29 145.68h0.9M367.08 140.95h0.9M374.27 142.51h0.9M376.82 145.27h0.9M377.96 143.58h0.9M355.2 148.87h0.9M358.33 147.52h0.9M371.73 137.13h0.9M370.46 146.83h0.9M362.99 143.24h0.9M364.93 138.77h0.9M365.76 148.51h0.9M374.71 142.93h0.9M369.44 143.6h0.9M371.97 143.84h0.9M358.21 146.99h0.9M374.83 137.89h0.9M369.03 142.65h0.9M365.94 145.34h0.9M368.13 141.86h0.9M363.45 141.85h0.9M362.88 143.23h0.9M379.09 147.37h0.9M372.94 137.22h0.9M377.07 147.05h0.9M370.11 141.62h0.9M377.48 138.4h0.9M367.39 152.98h0.9M370.14 148.9h0.9M365.75 145.6h0.9M370.68 136.79h0.9M365.69 147.9h0.9M378.15 140.47h0.9M377.74 139.99h0.9M371.7 142.95h0.9M361.41 144.42h0.9M364.3 139.41h0.9M364.25 138.85h0.9M376.13 143.35h0.9M371.75 141.89h0.9M370.44 141.91h0.9M362.5 136.52h0.9M370.51 147.4h0.9M371.61 149.95h0.9M360.61 141.9h0.9M365.75 148.32h0.9M381.67 140.79h0.9M375.03 141.99h0.9M363.12 142.55h0.9M362.83 149.68h0.9M374.07 148.13h0.9M375.52 143.42h0.9M353.59 143.46h0.9M376.96 150.37h0.9M362.96 146.41h0.9M372.29 142.28h0.9M368.05 145.3h0.9M373.97 145.85h0.9M367.19 137.35h0.9M379.08 148.61h0.9M366.11 142.89h0.9M373.44 153.43h0.9M371.87 139.98h0.9M384.07 143.06h0.9M371.46 141.19h0.9M361.17 136.66h0.9M376.21 142.62h0.9M365.87 149.29h0.9M364.87 141.53h0.9M369.91 148.63h0.9M379.15 149.7h0.9M374 140.85h0.9M366.59 136.64h0.9M378.76 148.41h0.9M370.61 139.17h0.9M374.65 145.12h0.9M371.06 138h0.9M371.65 140.57h0.9M375.09 145.59h0.9M373.03 141.17h0.9M380.48 146.35h0.9M378.73 146.63h0.9M374.56 144.7h0.9M363.56 145.66h0.9M376.27 143.8h0.9M370.62 150.92h0.9M359.36 141.62h0.9M374.81 146.18h0.9M368.48 146.53h0.9M369.67 139.88h0.9M367.4 146.26h0.9M376.56 138.16h0.9M363.21 143.53h0.9M384.6 137.96h0.9M361.39 144.81h0.9M373.5 140.37h0.9M369.82 145.1h0.9M358.03 142.9h0.9M374.13 146.99h0.9M378.01 142.7h0.9M360.1 148.8h0.9M375.3 140.26h0.9M377.11 147.48h0.9M366.79 139.74h0.9M364.26 142.65h0.9M362.58 144.68h0.9M382.96 137.87h0.9M377.14 140.71h0.9M373.73 142.45h0.9M378.8 139.94h0.9M375.03 139.66h0.9M371.57 142.94h0.9M377.47 136.2h0.9M360.75 149.01h0.9M372.65 150.32h0.9M362.94 143.91h0.9M374.14 150.62h0.9M369.64 141.07h0.9M374.9 142.56h0.9M364.87 146.29h0.9M356.95 138.63h0.9M379.33 140.85h0.9M367.78 144.6h0.9M377.69 145.28h0.9M363.4 140.55h0.9M377.19 142.49h0.9M365.68 146.77h0.9M377.82 152.39h0.9M362.63 139.95h0.9M365.26 144.53h0.9M366.74 147.81h0.9M351.61 147.15h0.9M365.6 141.82h0.9M373.89 143.88h0.9M363.08 149.48h0.9M373.95 140.88h0.9M371.43 138.23h0.9M361.6 141.7h0.9M372.5 143.44h0.9M364.7 137.02h0.9M358.53 149.89h0.9M372.53 139.55h0.9M378.11 145.33h0.9M367.18 140.35h0.9M377.78 144.41h0.9M381.17 144.57h0.9M366.01 140.42h0.9M365.2 144.1h0.9M371.74 145.62h0.9M373.08 138.47h0.9M368.61 138.94h0.9M373.29 137.32h0.9M366.04 139.3h0.9M365.79 141.89h0.9M380.31 141.9h0.9M360.22 141.7h0.9M375.11 145.39h0.9M371.63 151.6h0.9M377.57 143.39h0.9M378.29 137.22h0.9M368.85 139.26h0.9M371.21 149.98h0.9M366.62 149.88h0.9M363.04 149.16h0.9M358.46 139.34h0.9M376.8 142.6h0.9M370.99 142.95h0.9M371.23 142.23h0.9M363.34 141.75h0.9M370.76 139.12h0.9M373.18 150.61h0.9M358.83 140.65h0.9M368.09 143.08h0.9M370.65 139.87h0.9M369.77 143.03h0.9M369.42 149.65h0.9M370.89 136.62h0.9M359.34 145.55h0.9M367.68 140.33h0.9M360.78 141.67h0.9M369.38 140.04h0.9M367.61 146.83h0.9M375.34 145.36h0.9M368.82 137.14h0.9M375.28 149.46h0.9M378.67 148.03h0.9M371.89 144.62h0.9" stroke="#f02828" stroke-width="0.9" stroke-opacity="0.65" fill="none"/>
</g>
<line x1="341.31" y1="166.5" x2="341.31" y2="168.5" stroke="#222" stroke-width="0.6" />
<line x1="343.44" y1="166.5" x2="343.44" y2="168.5" stroke="#222" stroke-width="0.6" />
<line x1="345.08" y1="166.5" x2="345.08" y2="168.5" stroke="#222" stroke-width="0.6" />
<line x1="346.43" y1="166.5" x2="346.43" y2="168.5" stroke="#222" stroke-width="0.6" />
<line x1="347.57" y1="166.5" x2="347.57" y2="168.5" stroke="#222" stroke-width="0.6" />
<line x1="348.55" y1="166.5" x2="348.55" y2="168.5" stroke="#222" stroke-width="0.6" />
<line x1="349.42" y1="166.5" x2="349.42" y2="168.5" stroke="#222" stroke-width="0.6" />
<line x1="350.2" y1="166.5" x2="350.2" y2="169.5" stroke="#222" stroke-width="0.6" />
<line x1="355.32" y1="166.5" x2="355.32" y2="168.5" stroke="#222" stroke-width="0.6" />
<line x1="358.31" y1="166.5" x2="358.31" y2="168.5" stroke="#222" stroke-width="0.6" />
<line x1="360.44" y1="166.5" x2="360.44" y2="168.5" stroke="#222" stroke-width="0.6" />
<line x1="362.08" y1="166.5" x2="362.08" y2="168.5" stroke="#222" stroke-width="0.6" />
<line x1="363.43" y1="166.5" x2="363.43" y2="168.5" stroke="#222" stroke-width="0.6" />
<line x1="364.57" y1="166.5" x2="364.57" y2="168.5" stroke="#222" stroke-width="0.6" />
<line x1="365.55" y1="166.5" x2="365.55" y2="168.5" stroke="#222" stroke-width="0.6" />
<line x1="366.42" y1="166.5" x2="366.42" y2="168.5" stroke="#222" stroke-width="0.6" />
<line x1="367.2" y1="166.5" x2="367.2" y2="169.5" stroke="#222" stroke-width="0.6" />
<line x1="372.32" y1="166.5" x2="372.32" y2="168.5" stroke="#222" stroke-width="0.6" />
<line x1="375.31" y1="166.5" x2="375.31" y2="168.5" stroke="#222" stroke-width="0.6" />
<line x1="377.44" y1="166.5" x2="377.44" y2="168.5" stroke="#222" stroke-width="0.6" />
<line x1="379.08" y1="166.5" x2="379.08" y2="168.5" stroke="#222" stroke-width="0.6" />
<line x1="380.43" y1="166.5" x2="380.43" y2="168.5" stroke="#222" stroke-width="0.6" />
<line x1="381.57" y1="166.5" x2="381.57" y2="168.5" stroke="#222" stroke-width="0.6" />
<line x1="382.55" y1="166.5" x2="382.55" y2="168.5" stroke="#222" stroke-width="0.6" />
<line x1="383.42" y1="166.5" x2="383.42" y2="168.5" stroke="#222" stroke-width="0.6" />
<line x1="384.2" y1="166.5" x2="384.2" y2="169.5" stroke="#222" stroke-width="0.6" />
<line x1="389.32" y1="166.5" x2="389.32" y2="168.5" stroke="#222" stroke-width="0.6" />
<line x1="392.31" y1="166.5" x2="392.31" y2="168.5" stroke="#222" stroke-width="0.6" />
<line x1="394.44" y1="166.5" x2="394.44" y2="168.5" stroke="#222" stroke-width="0.6" />
<line x1="396.08" y1="166.5" x2="396.08" y2="168.5" stroke="#222" stroke-width="0.6" />
<line x1="397.43" y1="166.5" x2="397.43" y2="168.5" stroke="#222" stroke-width="0.6" />
<line x1="398.57" y1="166.5" x2="398.57" y2="168.5" stroke="#222" stroke-width="0.6" />
<line x1="399.55" y1="166.5" x2="399.55" y2="168.5" stroke="#222" stroke-width="0.6" />
<line x1="400.42" y1="166.5" x2="400.42" y2="168.5" stroke="#222" stroke-width="0.6" />
<line x1="401.2" y1="166.5" x2="401.2" y2="169.5" stroke="#222" stroke-width="0.6" />
<line x1="338.2" y1="165.87" x2="340.2" y2="165.87" stroke="#222" stroke-width="0.6" />
<line x1="338.2" y1="163.87" x2="340.2" y2="163.87" stroke="#222" stroke-width="0.6" />
<line x1="338.2" y1="162.32" x2="340.2" y2="162.32" stroke="#222" stroke-width="0.6" />
<line x1="338.2" y1="161.05" x2="340.2" y2="161.05" stroke="#222" stroke-width="0.6" />
<line x1="338.2" y1="159.98" x2="340.2" y2="159.98" stroke="#222" stroke-width="0.6" />
<line x1="338.2" y1="159.05" x2="340.2" y2="159.05" stroke="#222" stroke-width="0.6" />
<line x1="338.2" y1="158.23" x2="340.2" y2="158.23" stroke="#222" stroke-width="0.6" />
<line x1="337.2" y1="157.5" x2="340.2" y2="157.5" stroke="#222" stroke-width="0.6" />
<line x1="338.2" y1="152.68" x2="340.2" y2="152.68" stroke="#222" stroke-width="0.6" />
<line x1="338.2" y1="149.87" x2="340.2" y2="149.87" stroke="#222" stroke-width="0.6" />
<line x1="338.2" y1="147.87" x2="340.2" y2="147.87" stroke="#222" stroke-width="0.6" />
<line x1="338.2" y1="146.32" x2="340.2" y2="146.32" stroke="#222" stroke-width="0.6" />
<line x1="338.2" y1="145.05" x2="340.2" y2="145.05" stroke="#222" stroke-width="0.6" />
<line x1="338.2" y1="143.98" x2="340.2" y2="143.98" stroke="#222" stroke-width="0.6" />
<line x1="338.2" y1="143.05" x2="340.2" y2="143.05" stroke="#222" stroke-width="0.6" />
<line x1="338.2" y1="142.23" x2="340.2" y2="142.23" stroke="#222" stroke-width="0.6" />
<line x1="337.2" y1="141.5" x2="340.2" y2="141.5" stroke="#222" stroke-width="0.6" />
<line x1="338.2" y1="136.68" x2="340.2" y2="136.68" stroke="#222" stroke-width="0.6" />
<line x1="338.2" y1="133.87" x2="340.2" y2="133.87" stroke="#222" stroke-width="0.6" />
<line x1="338.2" y1="131.87" x2="340.2" y2="131.87" stroke="#222" stroke-width="0.6" />
<line x1="338.2" y1="130.32" x2="340.2" y2="130.32" stroke="#222" stroke-width="0.6" />
<line x1="338.2" y1="129.05" x2="340.2" y2="129.05" stroke="#222" stroke-width="0.6" />
<line x1="338.2" y1="127.98" x2="340.2" y2="127.98" stroke="#222" stroke-width="0.6" />
<line x1="338.2" y1="127.05" x2="340.2" y2="127.05" stroke="#222" stroke-width="0.6" />
<line x1="338.2" y1="126.23" x2="340.2" y2="126.23" stroke="#222" stroke-width="0.6" />
<line x1="337.2" y1="125.5" x2="340.2" y2="125.5" stroke="#222" stroke-width="0.6" />
<line x1="338.2" y1="120.68" x2="340.2" y2="120.68" stroke="#222" stroke-width="0.6" />
<line x1="338.2" y1="117.87" x2="340.2" y2="117.87" stroke="#222" stroke-width="0.6" />
<line x1="338.2" y1="115.87" x2="340.2" y2="115.87" stroke="#222" stroke-width="0.6" />
<line x1="338.2" y1="114.32" x2="340.2" y2="114.32" stroke="#222" stroke-width="0.6" />
<line x1="338.2" y1="113.05" x2="340.2" y2="113.05" stroke="#222" stroke-width="0.6" />
<line x1="338.2" y1="111.98" x2="340.2" y2="111.98" stroke="#222" stroke-width="0.6" />
<line x1="338.2" y1="111.05" x2="340.2" y2="111.05" stroke="#222" stroke-width="0.6" />
<line x1="338.2" y1="110.23" x2="340.2" y2="110.23" stroke="#222" stroke-width="0.6" />
<line x1="337.2" y1="109.5" x2="340.2" y2="109.5" stroke="#222" stroke-width="0.6" />
<text x="350.2" y="175" font-family='"Liberation Sans", sans-serif' font-size="4.9" fill="#333" text-anchor="middle">10<tspan dy="-1.6" font-size="3.43">2</tspan></text>
<text x="367.2" y="175" font-family='"Liberation Sans", sans-serif' font-size="4.9" fill="#333" text-anchor="middle">10<tspan dy="-1.6" font-size="3.43">3</tspan></text>
<text x="382.5" y="175" font-family='"Liberation Sans", sans-serif' font-size="4.9" fill="#333" text-anchor="middle">10<tspan dy="-1.6" font-size="3.43">4</tspan></text>
<text x="397.5" y="175" font-family='"Liberation Sans", sans-serif' font-size="4.9" fill="#333" text-anchor="middle">10<tspan dy="-1.6" font-size="3.43">5</tspan></text>
<text x="0" y="0" transform="translate(336.6,112.5) rotate(-90)" font-family='"Liberation Sans", sans-serif' font-size="4.9" fill="#333" text-anchor="middle">10<tspan dy="-1.6" font-size="3.43">5</tspan></text>
<text x="0" y="0" transform="translate(336.6,128.5) rotate(-90)" font-family='"Liberation Sans", sans-serif' font-size="4.9" fill="#333" text-anchor="middle">10<tspan dy="-1.6" font-size="3.43">4</tspan></text>
<text x="0" y="0" transform="translate(336.6,142.5) rotate(-90)" font-family='"Liberation Sans", sans-serif' font-size="4.9" fill="#333" text-anchor="middle">10<tspan dy="-1.6" font-size="3.43">3</tspan></text>
<text x="0" y="0" transform="translate(336.6,157.5) rotate(-90)" font-family='"Liberation Sans", sans-serif' font-size="4.9" fill="#333" text-anchor="middle">10<tspan dy="-1.6" font-size="3.43">2</tspan></text>
<rect x="340.2" y="105.6" width="64" height="60.9" fill="none" stroke="#444" stroke-width="0.9"/>
<line x1="373.8" y1="105.6" x2="373.8" y2="166.5" stroke="#444" stroke-width="0.9" />
<line x1="340.2" y1="139.6" x2="404.2" y2="139.6" stroke="#444" stroke-width="0.9" />
<g filter="url(#soft)">
<path d="M259.31 174.86h0.9M259.91 183.72h0.9M281.97 169.3h0.9M275.75 179.19h0.9M269.52 168.62h0.9M282.34 185.46h0.9M251.43 170.42h0.9M261.59 167.26h0.9M265.2 184.06h0.9M251.79 182.56h0.9M261.2 162.83h0.9M280.69 169.04h0.9M258 165.3h0.9M263.12 165.37h0.9M256.93 168.5h0.9M270.08 173.21h0.9M261.07 175.12h0.9M276.55 179.88h0.9M262.34 184.53h0.9M277.11 175.98h0.9M266.69 170.41h0.9M255.43 183.75h0.9M271.07 164.87h0.9M281.54 183.79h0.9M252.11 179.31h0.9M258.86 175.35h0.9M278.53 170.91h0.9M267.44 178.47h0.9M257.35 177.54h0.9M265.03 186.08h0.9M257.19 179.56h0.9M252.36 169.08h0.9M254.89 166.07h0.9M268.43 166.69h0.9M277.23 164.81h0.9M271.56 183.16h0.9M255.18 167.72h0.9M276.24 173.79h0.9M281.76 170.61h0.9M264.13 185.48h0.9M262.35 185.69h0.9M280.4 167.31h0.9M269.01 185.09h0.9M254.87 182.87h0.9M276.55 180.48h0.9M270.83 164.9h0.9M282.63 164.96h0.9M276.86 179.86h0.9M261.47 178.93h0.9M264.55 180.52h0.9M252.43 184.9h0.9M263.69 181.78h0.9M266.56 182h0.9M260.94 175.58h0.9M251.83 174.24h0.9M253.61 183.12h0.9M273.35 172.7h0.9M283.15 185.22h0.9M282.57 164.48h0.9M274.24 179.96h0.9M271 162.88h0.9M281.49 173.02h0.9M270.64 182.05h0.9M260.08 163.2h0.9M281.47 168.99h0.9M252.36 165.78h0.9M283.83 180.25h0.9M257.93 166.02h0.9M280.62 178.46h0.9M270.24 165.65h0.9M264.64 185.22h0.9M251.11 172.56h0.9M252.88 186.45h0.9M254.44 185.39h0.9M278.76 180.06h0.9M252.39 179.19h0.9M267.27 174.29h0.9M255.79 174.79h0.9M277.47 165.66h0.9M279.91 172.58h0.9M259.78 168.24h0.9M266.17 178.04h0.9M269.81 183.86h0.9M267.88 174.8h0.9M283.63 167.66h0.9M251.55 170.38h0.9M261.33 165.48h0.9M264.8 163.33h0.9M281.39 174.12h0.9M280 179.24h0.9M275.09 180.71h0.9M260.95 180h0.9M257.8 175.82h0.9M270.65 181.11h0.9M256.54 170.76h0.9M278.2 181.81h0.9M283.27 165.34h0.9M257.94 165.06h0.9M274.88 180.39h0.9M272.39 181.21h0.9M268.03 176h0.9M281.39 178.06h0.9M272.65 176.63h0.9M267.3 180.66h0.9M269.9 165.6h0.9M265.05 172.61h0.9M265.27 175.96h0.9M262.94 171.89h0.9M265.09 171.41h0.9M283.07 164.67h0.9M251.56 179.82h0.9M264.04 173.27h0.9M270.53 171.31h0.9M258.89 162.87h0.9M279.84 185.04h0.9M260.44 173.67h0.9M261.69 163.9h0.9M280.46 182.58h0.9M258.96 168.62h0.9M274.04 181.62h0.9M266.5 171.8h0.9M258.71 181.66h0.9M279.5 183.09h0.9M254.77 176.75h0.9M283.51 179.66h0.9M266.15 165.98h0.9M253 180.06h0.9M253.26 181.91h0.9M272.97 173.86h0.9M280.42 184.88h0.9M271.35 164.89h0.9M270.42 172.6h0.9M259.24 184.79h0.9M275.1 165.42h0.9M258.55 170.72h0.9M269.91 170.29h0.9M265.51 182.02h0.9M257 179.78h0.9M261.91 185.17h0.9M282.41 170.36h0.9M271 165.16h0.9M264.54 177.46h0.9M272.06 170.72h0.9M252.12 165.48h0.9M269.5 166.61h0.9M261.1 177.34h0.9M280.72 174.87h0.9M259.4 176.56h0.9M260.1 181.28h0.9M256.15 168.79h0.9M265.48 184.3h0.9M256.46 167.12h0.9M255.35 167.63h0.9M261.96 171.98h0.9M276.07 172.19h0.9M266.68 172.01h0.9M276.55 184.18h0.9M265.04 184.61h0.9M259.27 185.97h0.9M268.34 178.87h0.9M263.58 169.02h0.9M255.46 183.75h0.9M262.87 179.27h0.9M266.2 175.14h0.9M257.83 166.75h0.9M262.1 178.86h0.9M268.93 162.56h0.9M274.46 172.9h0.9M253.28 168.74h0.9M257.98 182.25h0.9M269.15 170.34h0.9M259.2 169.49h0.9M260.24 170.81h0.9M277.09 181.42h0.9M274.04 183.74h0.9M272.58 165.22h0.9M252.47 166.44h0.9M259.52 175.18h0.9M278.13 176.56h0.9M265.18 168.31h0.9M283.4 180.58h0.9M262.26 163.6h0.9M283.4 168.65h0.9M278.97 165.31h0.9M272.55 171.05h0.9M280.33 169.63h0.9M254.33 167.27h0.9M277.59 185.99h0.9M272.22 178.86h0.9M260.31 169.04h0.9M253.86 186.13h0.9M252.43 177.2h0.9M262.55 166.98h0.9M265.39 184.84h0.9M259.18 166.45h0.9M271.77 178.27h0.9M267.85 166.81h0.9M279.85 165.16h0.9M256.75 168.3h0.9M267.96 173.93h0.9M269.27 179.95h0.9M280.5 173.74h0.9M252.38 182.44h0.9M251.61 170.13h0.9M255.72 176.95h0.9M276.8 165.59h0.9M260.71 182.93h0.9M273.74 165.1h0.9M273.65 181.56h0.9M264.48 166.23h0.9M272.75 170.16h0.9M255.42 166.45h0.9M264.28 165.55h0.9M263.71 175.73h0.9M269.22 172.19h0.9M277.41 164.61h0.9M261.88 184.9h0.9M279.52 184.6h0.9M276.25 175.36h0.9M276.99 176.24h0.9" stroke="#f08080" stroke-width="0.9" stroke-opacity="0.7" fill="none"/>
<path d="M272.54 177.1h0.9M281.36 181.03h0.9M264.42 179.52h0.9M264.42 173.34h0.9M264.09 163.72h0.9M266.16 177.07h0.9M268.89 164.8h0.9M262.93 177.97h0.9M276.6 183.32h0.9M253.82 176.69h0.9M264.24 178.46h0.9M254.81 173.17h0.9M273.53 170.24h0.9M265.17 168.28h0.9M276.71 166.25h0.9M260.86 172.06h0.9M265.53 186.34h0.9M270.15 169.14h0.9M272.54 176.01h0.9M270.21 173.62h0.9M271.61 167.15h0.9M258.6 171.51h0.9M259.37 178.09h0.9M283.18 181.22h0.9M271.49 175.98h0.9M262.64 166.41h0.9M272.29 165.36h0.9M270.36 173.18h0.9M273.87 174.29h0.9M268.83 170.6h0.9M254.54 171.99h0.9M273.44 180.11h0.9M278.77 168.19h0.9M260.68 178.1h0.9M270.46 165.13h0.9M263.67 183.18h0.9M253.74 174.89h0.9M257.16 183.36h0.9M264.5 167.98h0.9M254.65 169.83h0.9M285.05 174.58h0.9M265.93 167.22h0.9M270.67 171.24h0.9M261.38 182.09h0.9M271.44 168.81h0.9M279.56 173.68h0.9M271.94 174.86h0.9M277.22 177.6h0.9M265.28 178.2h0.9M264.95 174.78h0.9M280.84 167.8h0.9M259.91 171.66h0.9M264.1 181.61h0.9M280.4 171.37h0.9M269.45 171.89h0.9M273.25 177.87h0.9M273.88 178.48h0.9M283.11 173.01h0.9M273.47 172.91h0.9M268.31 175.29h0.9M267.6 176.02h0.9M261.34 173.11h0.9M263.27 167.17h0.9M262.47 171.09h0.9M266.84 164.87h0.9M265.99 167.4h0.9M261.6 175.11h0.9M276.68 175.68h0.9M264.17 171.43h0.9M278.48 164.5h0.9M276.92 165.21h0.9M263.04 174.27h0.9M266.27 183.73h0.9M271.87 173.72h0.9M275.46 174.22h0.9M261.7 180.57h0.9M279.73 181.5h0.9M258.81 185.17h0.9M264.74 178.5h0.9M255.35 168.02h0.9M277.24 176.9h0.9M271.45 172.91h0.9M267.96 175.36h0.9M273.91 172.44h0.9M260.98 171.89h0.9M251.53 167.45h0.9M283.48 169.98h0.9M267.37 185.12h0.9M276.25 174.72h0.9M273.76 172.42h0.9M260.9 179.87h0.9M269.05 183.39h0.9M265.94 171.81h0.9M270.7 172.89h0.9M265.56 168.76h0.9M270 175.9h0.9M282.34 173.85h0.9M254.24 176.73h0.9M285.95 171.41h0.9M261.72 173.02h0.9M266.53 165.14h0.9M272.52 168.87h0.9M253.5 169.78h0.9M272.97 185.27h0.9M277.81 175.15h0.9M263.99 172.47h0.9M275.59 170.96h0.9M271.27 179.67h0.9M260.89 170.55h0.9M271.52 174.05h0.9M267.03 170.89h0.9M267.5 184.89h0.9M278.66 164.53h0.9M268.37 174.54h0.9M268.29 165.89h0.9M266.98 174.87h0.9M262.65 175.84h0.9M268.8 176.29h0.9M266.7 171.31h0.9M269.46 180.36h0.9M275.06 173.54h0.9M264.35 180.24h0.9M272.25 179.19h0.9M265.82 168.95h0.9M269.47 170.33h0.9M277.03 179.02h0.9M250.88 177.91h0.9M278.46 180.1h0.9M264.29 168.95h0.9M275.62 179.96h0.9M268.47 167.22h0.9M256.01 175.57h0.9M261.51 170.01h0.9M271.49 180.16h0.9M251.79 170.06h0.9M278.2 173.75h0.9M265.31 177.75h0.9M259.06 166.82h0.9M268.17 183.19h0.9M275.97 173.97h0.9M275.94 171.59h0.9M258.74 164.16h0.9M270.13 179.29h0.9M270.92 173.78h0.9M264.85 180.41h0.9M267.63 165.54h0.9M278.77 170.19h0.9M271.08 174.02h0.9M276.28 175.45h0.9M277.63 175.24h0.9M264.38 171.02h0.9M273.11 169.13h0.9M275.29 172.59h0.9M260.71 168.87h0.9M266.86 184.4h0.9M274.06 174.11h0.9M260.89 185.2h0.9M265.82 173.99h0.9M264.67 181.84h0.9M269.39 171.31h0.9M269.46 168.13h0.9M259.73 173.05h0.9M283.62 167.47h0.9M266.89 164.72h0.9M269.35 175.25h0.9M273.82 166.16h0.9M263.28 170.2h0.9M266.43 173.76h0.9M264.01 178.68h0.9M288.15 180.83h0.9M280.04 167.69h0.9M276.31 174.17h0.9M277.83 180.23h0.9M273.15 164.14h0.9M269.05 171.06h0.9M271.52 174.22h0.9M276.25 164.57h0.9M262.18 173.56h0.9M270.52 171.62h0.9M267.78 174.33h0.9M276.24 173.33h0.9M269.91 163.3h0.9M271.22 173.43h0.9M268.02 169.7h0.9M264.7 178.89h0.9M270.81 173.85h0.9M264.16 175.25h0.9M277.37 173.89h0.9M265.11 167.06h0.9M268.78 168.6h0.9M256.69 179.13h0.9M262.35 184.85h0.9M267.16 166.2h0.9M259.33 178.24h0.9M271.2 175.26h0.9M266.46 176.85h0.9M280.12 176.87h0.9M266.71 165.76h0.9M271.5 183.23h0.9M273.1 166.59h0.9M269.46 181.66h0.9M263 176.92h0.9M277.52 183.65h0.9M255.48 163.7h0.9M270.95 178.15h0.9" stroke="#f04040" stroke-width="0.9" stroke-opacity="0.7" fill="none"/>
</g>
<ellipse cx="266" cy="170.8" rx="7.5" ry="6.2" fill="#ff0000" filter="url(#soft2)" opacity="0.95"/>
<g filter="url(#soft)">
<path d="M264.43 170.93h1M264.19 175.25h1M256.2 171.9h1M260.33 168.6h1M259.21 167.78h1M265.89 171.09h1M273.92 170.22h1M267.53 172.25h1M267.14 176.19h1M266.61 171.53h1M265.5 171.01h1M265.75 174.53h1M266.09 171.24h1M265.79 173.69h1M263.91 174.33h1M263.46 173.46h1M274.51 171.82h1M265.61 166.82h1M269.28 171.05h1M270.04 168.67h1M268.31 177.41h1M267.78 169.84h1M260.22 170.97h1M268.92 173.12h1M261.04 167.36h1M261.67 167.38h1M264.78 171.94h1M274.54 171.7h1M272.45 165.13h1M272.85 173.83h1M267.96 173.93h1M268.74 177.79h1M269.58 164.82h1M258.24 176.72h1M265.63 175.69h1M264.48 168.67h1M264.48 172.12h1M266.83 168.8h1M268.38 173.19h1M261.92 167.05h1M257.29 169.91h1M266.05 168.53h1M263.32 170.53h1M266.13 173.03h1M269.7 172.55h1M270.97 167.56h1M268.7 172.33h1M261.36 168.59h1M267.97 171.27h1M260.42 169.03h1M272.78 174h1M266.36 175.79h1M261.97 170.39h1M270.26 169.8h1M261.03 173.08h1M266.69 166.56h1M264.67 165.98h1M277.56 168.58h1M266.2 168.49h1M261.6 169.38h1M266.92 177.23h1M267.28 176.57h1M261.26 171.25h1M264.06 165.43h1M282.58 170.14h1M267.09 168.32h1M263.44 167.32h1M270.56 169.57h1M265.36 171.64h1M260.55 171.83h1M265.24 172.59h1M264.29 171.14h1M268.3 174.44h1M262.94 174.46h1M261.62 170.33h1M266.58 171.52h1M254.9 167.52h1M265.18 174.29h1M262.87 176.37h1M257.98 171.27h1M268.4 171.06h1M267.17 174.32h1M262.42 173.1h1M270.73 170.17h1M255.7 166.77h1M262.2 167.24h1M267.92 168.14h1M277.03 173.03h1M260.19 169.98h1M272.8 173.42h1M261.47 174.68h1M263.89 178.88h1M263.55 173.12h1M268.51 169.42h1M265.32 175.12h1M268.21 170.79h1M267.98 177.22h1M270.15 172.69h1M267.47 165.44h1M266.6 169.27h1M269.26 168.84h1M268 167.26h1M269.98 168.41h1M265.87 173.05h1M264.56 171.03h1M270.72 177.29h1M257.97 167.79h1M269 174.35h1M263.89 171.34h1M265.14 179.1h1M265.11 166.77h1M259.1 166.46h1M271.79 169.62h1M274.67 173.27h1M267.7 173.29h1M269.51 174.27h1M261.66 169.02h1M263.56 171.37h1M264.89 166.62h1M262.91 177.36h1M275.44 167.96h1M267.69 170.87h1M262.24 173.54h1M265.69 176.94h1M268.03 169.89h1M254.23 170.64h1M269.77 168.46h1M269.93 173.43h1M258.15 170.3h1M267.43 173.68h1M266.69 170.95h1M264.46 169.97h1M266.02 167.22h1M268.85 169.84h1M268.32 169.2h1M267.83 171.45h1M269.96 172.64h1M270.15 170.41h1M265.75 170.07h1M260.42 170.55h1M270.84 173.74h1M262.22 172.07h1M269.34 166.17h1M267.55 172.17h1M269.33 171.91h1M258.26 163.84h1M274.82 169.6h1M271.66 175.49h1M266.39 166.94h1M272.08 170.87h1M268.31 172.7h1M270.24 174.6h1M259.68 166h1M266.63 171.03h1M269.46 170.52h1M265.19 178.2h1M272.11 175.11h1M270.61 168.2h1M265.62 170.75h1M261.13 167.92h1M266.71 166.69h1M268.41 172.68h1M264.95 169.8h1M268.68 172.7h1M267.63 166.66h1M258.79 178.26h1M263.1 169.7h1M257.89 168.17h1M262.74 173.83h1M254.25 166.03h1M264.17 169.26h1M262.55 169.44h1M258.99 171.95h1M271.31 171.54h1M263.62 175.48h1M268.17 167.35h1M263.45 168.84h1M265.8 175.3h1M262.87 170.48h1M266.5 166.78h1M263.88 173.17h1M271.03 164.37h1M269.14 169.97h1M271.73 173.2h1M274.76 172.1h1M264.24 168.06h1M259.64 172.96h1M268.29 173.9h1M267.56 165.71h1M264.19 170.14h1M266.71 173.71h1M272.31 172.01h1M256.83 167.39h1M256.51 168.3h1M260.67 171.84h1M265.02 174.94h1M270.8 169.39h1M270.2 171.05h1M268.03 175.76h1M260.89 170.76h1M272.84 168.3h1M266.96 171.47h1M264.15 166.38h1M262.95 167.53h1M270.81 171.88h1M269.12 166.8h1M268.23 171.51h1M270.66 168.45h1M269.61 175.84h1M274.02 167.72h1M261.01 165.83h1M270.28 173.1h1M267.52 167.94h1M271.58 176.67h1M265.84 170.58h1M271.29 172.79h1M271.98 169.58h1M267.51 169.81h1M263.47 169.95h1M264.74 172.78h1M264.65 171.25h1M262.41 166.68h1M272.36 167.53h1M274.07 174.32h1M255.82 168.75h1M264.15 171.07h1M265.21 168.87h1M271.57 170.55h1M270.28 168.58h1M262.94 175.7h1M264.75 167.13h1M265.25 174.71h1M265.29 168.47h1M268.83 174.47h1M265.09 169.88h1M264.38 180.52h1M265.17 177.15h1M265.35 172.43h1M256.95 171.63h1M266.24 169.89h1M264.19 166.2h1M259.39 171.59h1M263.17 170.69h1M265.21 169.22h1M262.77 177.54h1M261.1 169.21h1M264.7 166.94h1M261.74 174.04h1M270.15 171.47h1M280.42 173.92h1M271.49 168.13h1M270.82 176.93h1M264.33 177.37h1M262.43 167.01h1M265.81 168.16h1M268.84 167.11h1M266.38 164.12h1M265.87 174.7h1M264.84 172.1h1M270.86 167.14h1M260.36 171.29h1M267.25 170.06h1M261.7 175.27h1M260.85 170.09h1M265.82 173.55h1M264.03 168.12h1M274.96 168.03h1M269.56 170.46h1M263.9 170.85h1M264.88 172.1h1M254.71 170.91h1M266.33 167.59h1M264.29 179.22h1M274.22 173.26h1M267.05 169.93h1M272.18 169.43h1M262.37 173.43h1M261.72 168.22h1M272.45 165.36h1M265.72 171.42h1M267.16 165.88h1M265.01 169.83h1M274.56 174.53h1M262.66 174.07h1M268.92 170.6h1M264.94 170.04h1M259.16 168.79h1M270.18 176.08h1M274.25 169.68h1M268.76 162.55h1M264.82 166.57h1M269.67 165.18h1M261.39 167.12h1M267.78 173.95h1M261.94 177.34h1M266.73 168.07h1M267.57 170.95h1M269.71 172.21h1M275.74 175.11h1M263.18 173.77h1M269.4 167.49h1M262.69 168.17h1M255.06 173.24h1M265.06 175.33h1M263.54 171.27h1M269.24 174.4h1M267.44 167.35h1M275.81 174.05h1M272.07 176.69h1M272.26 172.46h1M268.12 173.22h1M259.35 173.86h1M261.7 172.48h1M261.54 173.51h1M263.86 179.74h1M266.88 172.79h1M262.01 169.99h1M265.77 169.99h1M264.09 167.93h1M269.41 169.66h1M262.41 172.29h1M262.43 170.39h1M263.76 167.75h1M265.03 168.11h1M260.47 172.24h1M264.71 165.87h1M264.28 171.66h1M267.93 172.31h1M267.16 173.1h1M263.84 168.2h1M268.75 169.56h1M266.08 173.29h1M270.2 175.29h1M262.98 169.7h1M268.5 165.98h1M260.45 173.13h1M263.31 167.77h1M269.59 172.87h1M270.1 169.84h1M264.76 169.81h1M267.35 163.89h1M262.97 173.48h1M262.58 170.78h1M266.59 172.83h1M263.93 167.04h1M277.1 168.49h1M273.61 164.85h1M266.53 170.32h1M274.43 178.15h1M270.37 167.45h1M262.48 168.37h1M263.75 171.92h1M262.56 170.14h1M272.56 176.04h1M257.8 167.67h1M264.39 175.54h1M264.58 177.69h1M267.66 176.03h1M262.24 169.92h1M270.55 173h1M257.78 170.04h1M266.84 173.21h1M263.23 177.09h1M266.71 176.07h1M267.83 171.3h1M264.63 166.92h1M269.87 173.65h1M270.17 169.69h1M261.6 169.68h1M264.66 170.96h1M270.39 167.82h1M263.89 173.41h1M270.04 178.74h1M268.37 168.05h1M261.45 168.24h1M266.36 171.89h1M265.75 168.86h1M265.23 170.73h1M268.67 171.29h1" stroke="#ff0000" stroke-width="1" stroke-opacity="0.85" fill="none"/>
</g>
<line x1="250.78" y1="187.8" x2="250.78" y2="189.8" stroke="#222" stroke-width="0.6" />
<line x1="251.94" y1="187.8" x2="251.94" y2="189.8" stroke="#222" stroke-width="0.6" />
<line x1="252.93" y1="187.8" x2="252.93" y2="189.8" stroke="#222" stroke-width="0.6" />
<line x1="253.81" y1="187.8" x2="253.81" y2="189.8" stroke="#222" stroke-width="0.6" />
<line x1="254.6" y1="187.8" x2="254.6" y2="190.8" stroke="#222" stroke-width="0.6" />
<line x1="259.78" y1="187.8" x2="259.78" y2="189.8" stroke="#222" stroke-width="0.6" />
<line x1="262.81" y1="187.8" x2="262.81" y2="189.8" stroke="#222" stroke-width="0.6" />
<line x1="264.96" y1="187.8" x2="264.96" y2="189.8" stroke="#222" stroke-width="0.6" />
<line x1="266.62" y1="187.8" x2="266.62" y2="189.8" stroke="#222" stroke-width="0.6" />
<line x1="267.98" y1="187.8" x2="267.98" y2="189.8" stroke="#222" stroke-width="0.6" />
<line x1="269.14" y1="187.8" x2="269.14" y2="189.8" stroke="#222" stroke-width="0.6" />
<line x1="270.13" y1="187.8" x2="270.13" y2="189.8" stroke="#222" stroke-width="0.6" />
<line x1="271.01" y1="187.8" x2="271.01" y2="189.8" stroke="#222" stroke-width="0.6" />
<line x1="271.8" y1="187.8" x2="271.8" y2="190.8" stroke="#222" stroke-width="0.6" />
<line x1="276.98" y1="187.8" x2="276.98" y2="189.8" stroke="#222" stroke-width="0.6" />
<line x1="280.01" y1="187.8" x2="280.01" y2="189.8" stroke="#222" stroke-width="0.6" />
<line x1="282.16" y1="187.8" x2="282.16" y2="189.8" stroke="#222" stroke-width="0.6" />
<line x1="283.82" y1="187.8" x2="283.82" y2="189.8" stroke="#222" stroke-width="0.6" />
<line x1="285.18" y1="187.8" x2="285.18" y2="189.8" stroke="#222" stroke-width="0.6" />
<line x1="286.34" y1="187.8" x2="286.34" y2="189.8" stroke="#222" stroke-width="0.6" />
<line x1="287.33" y1="187.8" x2="287.33" y2="189.8" stroke="#222" stroke-width="0.6" />
<line x1="288.21" y1="187.8" x2="288.21" y2="189.8" stroke="#222" stroke-width="0.6" />
<line x1="289" y1="187.8" x2="289" y2="190.8" stroke="#222" stroke-width="0.6" />
<line x1="294.18" y1="187.8" x2="294.18" y2="189.8" stroke="#222" stroke-width="0.6" />
<line x1="297.21" y1="187.8" x2="297.21" y2="189.8" stroke="#222" stroke-width="0.6" />
<line x1="299.36" y1="187.8" x2="299.36" y2="189.8" stroke="#222" stroke-width="0.6" />
<line x1="301.02" y1="187.8" x2="301.02" y2="189.8" stroke="#222" stroke-width="0.6" />
<line x1="302.38" y1="187.8" x2="302.38" y2="189.8" stroke="#222" stroke-width="0.6" />
<line x1="303.54" y1="187.8" x2="303.54" y2="189.8" stroke="#222" stroke-width="0.6" />
<line x1="304.53" y1="187.8" x2="304.53" y2="189.8" stroke="#222" stroke-width="0.6" />
<line x1="305.41" y1="187.8" x2="305.41" y2="189.8" stroke="#222" stroke-width="0.6" />
<line x1="306.2" y1="187.8" x2="306.2" y2="190.8" stroke="#222" stroke-width="0.6" />
<line x1="311.38" y1="187.8" x2="311.38" y2="189.8" stroke="#222" stroke-width="0.6" />
<line x1="314.41" y1="187.8" x2="314.41" y2="189.8" stroke="#222" stroke-width="0.6" />
<line x1="247.4" y1="187.1" x2="249.4" y2="187.1" stroke="#222" stroke-width="0.6" />
<line x1="247.4" y1="185.17" x2="249.4" y2="185.17" stroke="#222" stroke-width="0.6" />
<line x1="247.4" y1="183.67" x2="249.4" y2="183.67" stroke="#222" stroke-width="0.6" />
<line x1="247.4" y1="182.44" x2="249.4" y2="182.44" stroke="#222" stroke-width="0.6" />
<line x1="247.4" y1="181.4" x2="249.4" y2="181.4" stroke="#222" stroke-width="0.6" />
<line x1="247.4" y1="180.5" x2="249.4" y2="180.5" stroke="#222" stroke-width="0.6" />
<line x1="247.4" y1="179.71" x2="249.4" y2="179.71" stroke="#222" stroke-width="0.6" />
<line x1="246.4" y1="179" x2="249.4" y2="179" stroke="#222" stroke-width="0.6" />
<line x1="247.4" y1="174.33" x2="249.4" y2="174.33" stroke="#222" stroke-width="0.6" />
<line x1="247.4" y1="171.6" x2="249.4" y2="171.6" stroke="#222" stroke-width="0.6" />
<line x1="247.4" y1="169.67" x2="249.4" y2="169.67" stroke="#222" stroke-width="0.6" />
<line x1="247.4" y1="168.17" x2="249.4" y2="168.17" stroke="#222" stroke-width="0.6" />
<line x1="247.4" y1="166.94" x2="249.4" y2="166.94" stroke="#222" stroke-width="0.6" />
<line x1="247.4" y1="165.9" x2="249.4" y2="165.9" stroke="#222" stroke-width="0.6" />
<line x1="247.4" y1="165" x2="249.4" y2="165" stroke="#222" stroke-width="0.6" />
<line x1="247.4" y1="164.21" x2="249.4" y2="164.21" stroke="#222" stroke-width="0.6" />
<line x1="246.4" y1="163.5" x2="249.4" y2="163.5" stroke="#222" stroke-width="0.6" />
<line x1="247.4" y1="158.83" x2="249.4" y2="158.83" stroke="#222" stroke-width="0.6" />
<line x1="247.4" y1="156.1" x2="249.4" y2="156.1" stroke="#222" stroke-width="0.6" />
<line x1="247.4" y1="154.17" x2="249.4" y2="154.17" stroke="#222" stroke-width="0.6" />
<line x1="247.4" y1="152.67" x2="249.4" y2="152.67" stroke="#222" stroke-width="0.6" />
<line x1="247.4" y1="151.44" x2="249.4" y2="151.44" stroke="#222" stroke-width="0.6" />
<line x1="247.4" y1="150.4" x2="249.4" y2="150.4" stroke="#222" stroke-width="0.6" />
<line x1="247.4" y1="149.5" x2="249.4" y2="149.5" stroke="#222" stroke-width="0.6" />
<line x1="247.4" y1="148.71" x2="249.4" y2="148.71" stroke="#222" stroke-width="0.6" />
<line x1="246.4" y1="148" x2="249.4" y2="148" stroke="#222" stroke-width="0.6" />
<line x1="247.4" y1="143.33" x2="249.4" y2="143.33" stroke="#222" stroke-width="0.6" />
<line x1="247.4" y1="140.6" x2="249.4" y2="140.6" stroke="#222" stroke-width="0.6" />
<line x1="247.4" y1="138.67" x2="249.4" y2="138.67" stroke="#222" stroke-width="0.6" />
<line x1="247.4" y1="137.17" x2="249.4" y2="137.17" stroke="#222" stroke-width="0.6" />
<line x1="247.4" y1="135.94" x2="249.4" y2="135.94" stroke="#222" stroke-width="0.6" />
<line x1="247.4" y1="134.9" x2="249.4" y2="134.9" stroke="#222" stroke-width="0.6" />
<line x1="247.4" y1="134" x2="249.4" y2="134" stroke="#222" stroke-width="0.6" />
<line x1="247.4" y1="133.21" x2="249.4" y2="133.21" stroke="#222" stroke-width="0.6" />
<line x1="246.4" y1="132.5" x2="249.4" y2="132.5" stroke="#222" stroke-width="0.6" />
<line x1="247.4" y1="127.83" x2="249.4" y2="127.83" stroke="#222" stroke-width="0.6" />
<text x="254.6" y="196.3" font-family='"Liberation Sans", sans-serif' font-size="4.9" fill="#333" text-anchor="middle">10<tspan dy="-1.6" font-size="3.43">2</tspan></text>
<text x="271.8" y="196.3" font-family='"Liberation Sans", sans-serif' font-size="4.9" fill="#333" text-anchor="middle">10<tspan dy="-1.6" font-size="3.43">3</tspan></text>
<text x="289.7" y="196.3" font-family='"Liberation Sans", sans-serif' font-size="4.9" fill="#333" text-anchor="middle">10<tspan dy="-1.6" font-size="3.43">4</tspan></text>
<text x="306.9" y="196.3" font-family='"Liberation Sans", sans-serif' font-size="4.9" fill="#333" text-anchor="middle">10<tspan dy="-1.6" font-size="3.43">5</tspan></text>
<text x="0" y="0" transform="translate(245.8,133.2) rotate(-90)" font-family='"Liberation Sans", sans-serif' font-size="4.9" fill="#333" text-anchor="middle">10<tspan dy="-1.6" font-size="3.43">5</tspan></text>
<text x="0" y="0" transform="translate(245.8,148.7) rotate(-90)" font-family='"Liberation Sans", sans-serif' font-size="4.9" fill="#333" text-anchor="middle">10<tspan dy="-1.6" font-size="3.43">4</tspan></text>
<text x="0" y="0" transform="translate(245.8,164.2) rotate(-90)" font-family='"Liberation Sans", sans-serif' font-size="4.9" fill="#333" text-anchor="middle">10<tspan dy="-1.6" font-size="3.43">3</tspan></text>
<text x="0" y="0" transform="translate(245.8,179) rotate(-90)" font-family='"Liberation Sans", sans-serif' font-size="4.9" fill="#333" text-anchor="middle">10<tspan dy="-1.6" font-size="3.43">2</tspan></text>
<rect x="249.4" y="127.4" width="65.8" height="60.4" fill="none" stroke="#444" stroke-width="0.9"/>
<line x1="284.4" y1="127.4" x2="284.4" y2="187.8" stroke="#444" stroke-width="0.9" />
<line x1="249.4" y1="161.9" x2="315.2" y2="161.9" stroke="#444" stroke-width="0.9" />
<line x1="157" y1="66.5" x2="231.43" y2="33.53" stroke="#222" stroke-width="0.9" />
<polygon points="236,31.5 231.9,35.83 230.04,31.62" fill="#222"/>
<line x1="208.2" y1="74.3" x2="326.03" y2="61.15" stroke="#222" stroke-width="0.9" />
<polygon points="331,60.6 325.79,63.5 325.28,58.92" fill="#222"/>
<line x1="208.5" y1="103.9" x2="326.28" y2="144.86" stroke="#222" stroke-width="0.9" />
<polygon points="331,146.5 325.05,146.87 326.56,142.52" fill="#222"/>
<line x1="157.7" y1="111.5" x2="232.79" y2="159.8" stroke="#222" stroke-width="0.9" />
<polygon points="237,162.5 231.13,161.46 233.62,157.59" fill="#222"/>
<line x1="93.4" y1="135" x2="117" y2="135" stroke="#333" stroke-width="1" />
<line x1="93.4" y1="135.5" x2="93.4" y2="111" stroke="#333" stroke-width="1" />
<polygon points="93.4,106.5 91.2,111.5 95.6,111.5" fill="#333"/>
<polygon points="121.5,135 116.5,132.8 116.5,137.2" fill="#333"/>
<line x1="249.6" y1="114.8" x2="272.5" y2="114.8" stroke="#333" stroke-width="1" />
<line x1="249.6" y1="115.3" x2="249.6" y2="91.5" stroke="#333" stroke-width="1" />
<polygon points="249.6,87 247.4,92 251.8,92" fill="#333"/>
<polygon points="277,114.8 272,112.6 272,117" fill="#333"/>
<text x="83.5" y="103.5" font-family='"Liberation Serif", serif' font-size="10.5" font-weight="bold" text-anchor="start" fill="#000" >IL-2</text>
<text x="127.2" y="136.6" font-family='"Liberation Serif", serif' font-size="10.5" font-weight="bold" text-anchor="start" fill="#000" >IFN&#947;</text>
<text x="240.6" y="83" font-family='"Liberation Serif", serif' font-size="10.5" font-weight="bold" text-anchor="start" fill="#000" >TNF&#945;</text>
<text x="279.6" y="117.7" font-family='"Liberation Serif", serif' font-size="10.5" font-weight="bold" text-anchor="start" fill="#000" >CD107ab</text>
<circle cx="466" cy="47" r="0.5" fill="#999"/>
<defs>
<pattern id="hatchV" width="1.6" height="4" patternUnits="userSpaceOnUse"><rect width="1.6" height="4" fill="#f2f2f2"/><rect width="0.8" height="4" fill="#9a9a9a"/></pattern>
<pattern id="hatchD" width="1.9" height="2" patternUnits="userSpaceOnUse" patternTransform="rotate(45)"><rect width="1.9" height="2" fill="#eeeeee"/><rect width="0.75" height="2" fill="#8a8a8a"/></pattern>
</defs>
<line x1="32.5" y1="242.7" x2="32.5" y2="371.3" stroke="#888" stroke-width="0.8" />
<line x1="30.5" y1="371.3" x2="32.5" y2="371.3" stroke="#888" stroke-width="0.7" />
<text x="27.2" y="374.3" font-family='"Liberation Sans", sans-serif' font-size="8" font-weight="normal" text-anchor="end" fill="#444" >0</text>
<line x1="30.5" y1="355.23" x2="32.5" y2="355.23" stroke="#888" stroke-width="0.7" />
<text x="27.2" y="358.23" font-family='"Liberation Sans", sans-serif' font-size="8" font-weight="normal" text-anchor="end" fill="#444" >1</text>
<line x1="30.5" y1="339.15" x2="32.5" y2="339.15" stroke="#888" stroke-width="0.7" />
<text x="27.2" y="342.15" font-family='"Liberation Sans", sans-serif' font-size="8" font-weight="normal" text-anchor="end" fill="#444" >2</text>
<line x1="30.5" y1="323.07" x2="32.5" y2="323.07" stroke="#888" stroke-width="0.7" />
<text x="27.2" y="326.07" font-family='"Liberation Sans", sans-serif' font-size="8" font-weight="normal" text-anchor="end" fill="#444" >3</text>
<line x1="30.5" y1="307" x2="32.5" y2="307" stroke="#888" stroke-width="0.7" />
<text x="27.2" y="310" font-family='"Liberation Sans", sans-serif' font-size="8" font-weight="normal" text-anchor="end" fill="#444" >4</text>
<line x1="30.5" y1="290.93" x2="32.5" y2="290.93" stroke="#888" stroke-width="0.7" />
<text x="27.2" y="293.93" font-family='"Liberation Sans", sans-serif' font-size="8" font-weight="normal" text-anchor="end" fill="#444" >5</text>
<line x1="30.5" y1="274.85" x2="32.5" y2="274.85" stroke="#888" stroke-width="0.7" />
<text x="27.2" y="277.85" font-family='"Liberation Sans", sans-serif' font-size="8" font-weight="normal" text-anchor="end" fill="#444" >6</text>
<line x1="30.5" y1="258.77" x2="32.5" y2="258.77" stroke="#888" stroke-width="0.7" />
<text x="27.2" y="261.77" font-family='"Liberation Sans", sans-serif' font-size="8" font-weight="normal" text-anchor="end" fill="#444" >7</text>
<line x1="30.5" y1="242.7" x2="32.5" y2="242.7" stroke="#888" stroke-width="0.7" />
<text x="27.2" y="245.7" font-family='"Liberation Sans", sans-serif' font-size="8" font-weight="normal" text-anchor="end" fill="#444" >8</text>
<rect x="35.9" y="364.07" width="4.5" height="7.23" fill="#000" stroke="none" stroke-width="1" />
<rect x="40.8" y="367.68" width="3.7" height="3.62" fill="#d6d6d6" stroke="#3a3a3a" stroke-width="0.8" />
<rect x="50.55" y="369.69" width="4.5" height="1.61" fill="#000" stroke="none" stroke-width="1" />
<rect x="55.45" y="343.57" width="3.7" height="27.73" fill="#d6d6d6" stroke="#3a3a3a" stroke-width="0.8" />
<rect x="65.2" y="347.99" width="4.5" height="23.31" fill="#000" stroke="none" stroke-width="1" />
<rect x="70.1" y="250.33" width="3.7" height="120.97" fill="#d6d6d6" stroke="#3a3a3a" stroke-width="0.8" />
<rect x="79.85" y="361.66" width="4.5" height="9.65" fill="#000" stroke="none" stroke-width="1" />
<rect x="84.75" y="358.84" width="3.7" height="12.46" fill="#d6d6d6" stroke="#3a3a3a" stroke-width="0.8" />
<rect x="94.5" y="362.94" width="4.5" height="8.36" fill="#000" stroke="none" stroke-width="1" />
<rect x="99.4" y="309.81" width="3.7" height="61.49" fill="#d6d6d6" stroke="#3a3a3a" stroke-width="0.8" />
<rect x="114.05" y="369.77" width="3.7" height="1.53" fill="#d6d6d6" stroke="#3a3a3a" stroke-width="0.8" />
<rect x="123.8" y="370.5" width="4.5" height="0.8" fill="#000" stroke="none" stroke-width="1" />
<rect x="128.7" y="369.77" width="3.7" height="1.53" fill="#d6d6d6" stroke="#3a3a3a" stroke-width="0.8" />
<rect x="138.45" y="370.82" width="4.5" height="0.48" fill="#000" stroke="none" stroke-width="1" />
<rect x="143.35" y="370.9" width="3.7" height="0.4" fill="#d6d6d6" stroke="#3a3a3a" stroke-width="0.8" />
<rect x="153.1" y="370.98" width="4.5" height="0.32" fill="#000" stroke="none" stroke-width="1" />
<rect x="158" y="366.88" width="3.7" height="4.42" fill="#d6d6d6" stroke="#3a3a3a" stroke-width="0.8" />
<rect x="167.75" y="359.24" width="4.5" height="12.06" fill="#000" stroke="none" stroke-width="1" />
<rect x="172.65" y="345.98" width="3.7" height="25.32" fill="#d6d6d6" stroke="#3a3a3a" stroke-width="0.8" />
<rect x="187.3" y="362.86" width="3.7" height="8.44" fill="#d6d6d6" stroke="#3a3a3a" stroke-width="0.8" />
<rect x="197.05" y="370.98" width="4.5" height="0.32" fill="#000" stroke="none" stroke-width="1" />
<rect x="201.95" y="368.49" width="3.7" height="2.82" fill="#d6d6d6" stroke="#3a3a3a" stroke-width="0.8" />
<rect x="211.7" y="370.5" width="4.5" height="0.8" fill="#000" stroke="none" stroke-width="1" />
<rect x="216.6" y="364.47" width="3.7" height="6.83" fill="#d6d6d6" stroke="#3a3a3a" stroke-width="0.8" />
<rect x="226.35" y="368.89" width="4.5" height="2.41" fill="#000" stroke="none" stroke-width="1" />
<rect x="231.25" y="362.86" width="3.7" height="8.44" fill="#d6d6d6" stroke="#3a3a3a" stroke-width="0.8" />
<rect x="241" y="370.5" width="4.5" height="0.8" fill="#000" stroke="none" stroke-width="1" />
<rect x="245.9" y="369.77" width="3.7" height="1.53" fill="#d6d6d6" stroke="#3a3a3a" stroke-width="0.8" />
<line x1="32.5" y1="371.3" x2="252.5" y2="371.3" stroke="#888" stroke-width="0.8" />
<rect x="34.3" y="371.5" width="56.5" height="3.4" fill="#1515c0" stroke="none" stroke-width="1" />
<rect x="92.7" y="371.5" width="86.1" height="3.4" fill="#139113" stroke="none" stroke-width="1" />
<rect x="180.2" y="371.5" width="58.6" height="3.4" fill="#e01515" stroke="none" stroke-width="1" />
<rect x="240" y="371.5" width="12.5" height="3.4" fill="#f5d040" stroke="none" stroke-width="1" />
<text x="10" y="384.4" font-family='"Liberation Sans", sans-serif' font-size="7.5" font-weight="normal" text-anchor="start" fill="#222" >IL-2</text>
<line x1="39.1" y1="381.9" x2="41.7" y2="381.9" stroke="#333" stroke-width="0.8" />
<line x1="40.4" y1="380.6" x2="40.4" y2="383.2" stroke="#333" stroke-width="0.8" />
<line x1="54.25" y1="382" x2="55.85" y2="382" stroke="#888" stroke-width="0.6" />
<line x1="68.9" y1="382" x2="70.5" y2="382" stroke="#888" stroke-width="0.6" />
<line x1="83.55" y1="382" x2="85.15" y2="382" stroke="#888" stroke-width="0.6" />
<line x1="97.7" y1="381.9" x2="100.3" y2="381.9" stroke="#333" stroke-width="0.8" />
<line x1="99" y1="380.6" x2="99" y2="383.2" stroke="#333" stroke-width="0.8" />
<line x1="112.35" y1="381.9" x2="114.95" y2="381.9" stroke="#333" stroke-width="0.8" />
<line x1="113.65" y1="380.6" x2="113.65" y2="383.2" stroke="#333" stroke-width="0.8" />
<line x1="127" y1="381.9" x2="129.6" y2="381.9" stroke="#333" stroke-width="0.8" />
<line x1="128.3" y1="380.6" x2="128.3" y2="383.2" stroke="#333" stroke-width="0.8" />
<line x1="142.15" y1="382" x2="143.75" y2="382" stroke="#888" stroke-width="0.6" />
<line x1="156.8" y1="382" x2="158.4" y2="382" stroke="#888" stroke-width="0.6" />
<line x1="171.45" y1="382" x2="173.05" y2="382" stroke="#888" stroke-width="0.6" />
<line x1="185.6" y1="381.9" x2="188.2" y2="381.9" stroke="#333" stroke-width="0.8" />
<line x1="186.9" y1="380.6" x2="186.9" y2="383.2" stroke="#333" stroke-width="0.8" />
<line x1="200.25" y1="381.9" x2="202.85" y2="381.9" stroke="#333" stroke-width="0.8" />
<line x1="201.55" y1="380.6" x2="201.55" y2="383.2" stroke="#333" stroke-width="0.8" />
<line x1="214.9" y1="381.9" x2="217.5" y2="381.9" stroke="#333" stroke-width="0.8" />
<line x1="216.2" y1="380.6" x2="216.2" y2="383.2" stroke="#333" stroke-width="0.8" />
<line x1="230.05" y1="382" x2="231.65" y2="382" stroke="#888" stroke-width="0.6" />
<line x1="244.2" y1="381.9" x2="246.8" y2="381.9" stroke="#333" stroke-width="0.8" />
<line x1="245.5" y1="380.6" x2="245.5" y2="383.2" stroke="#333" stroke-width="0.8" />
<text x="10" y="393.6" font-family='"Liberation Sans", sans-serif' font-size="7.5" font-weight="normal" text-anchor="start" fill="#222" >TNF&#945;</text>
<line x1="39.6" y1="391.2" x2="41.2" y2="391.2" stroke="#888" stroke-width="0.6" />
<line x1="53.75" y1="391.1" x2="56.35" y2="391.1" stroke="#333" stroke-width="0.8" />
<line x1="55.05" y1="389.8" x2="55.05" y2="392.4" stroke="#333" stroke-width="0.8" />
<line x1="68.9" y1="391.2" x2="70.5" y2="391.2" stroke="#888" stroke-width="0.6" />
<line x1="83.55" y1="391.2" x2="85.15" y2="391.2" stroke="#888" stroke-width="0.6" />
<line x1="97.7" y1="391.1" x2="100.3" y2="391.1" stroke="#333" stroke-width="0.8" />
<line x1="99" y1="389.8" x2="99" y2="392.4" stroke="#333" stroke-width="0.8" />
<line x1="112.85" y1="391.2" x2="114.45" y2="391.2" stroke="#888" stroke-width="0.6" />
<line x1="127.5" y1="391.2" x2="129.1" y2="391.2" stroke="#888" stroke-width="0.6" />
<line x1="141.65" y1="391.1" x2="144.25" y2="391.1" stroke="#333" stroke-width="0.8" />
<line x1="142.95" y1="389.8" x2="142.95" y2="392.4" stroke="#333" stroke-width="0.8" />
<line x1="156.3" y1="391.1" x2="158.9" y2="391.1" stroke="#333" stroke-width="0.8" />
<line x1="157.6" y1="389.8" x2="157.6" y2="392.4" stroke="#333" stroke-width="0.8" />
<line x1="171.45" y1="391.2" x2="173.05" y2="391.2" stroke="#888" stroke-width="0.6" />
<line x1="185.6" y1="391.1" x2="188.2" y2="391.1" stroke="#333" stroke-width="0.8" />
<line x1="186.9" y1="389.8" x2="186.9" y2="392.4" stroke="#333" stroke-width="0.8" />
<line x1="200.25" y1="391.1" x2="202.85" y2="391.1" stroke="#333" stroke-width="0.8" />
<line x1="201.55" y1="389.8" x2="201.55" y2="392.4" stroke="#333" stroke-width="0.8" />
<line x1="215.4" y1="391.2" x2="217" y2="391.2" stroke="#888" stroke-width="0.6" />
<line x1="229.55" y1="391.1" x2="232.15" y2="391.1" stroke="#333" stroke-width="0.8" />
<line x1="230.85" y1="389.8" x2="230.85" y2="392.4" stroke="#333" stroke-width="0.8" />
<line x1="244.2" y1="391.1" x2="246.8" y2="391.1" stroke="#333" stroke-width="0.8" />
<line x1="245.5" y1="389.8" x2="245.5" y2="392.4" stroke="#333" stroke-width="0.8" />
<text x="10" y="402.4" font-family='"Liberation Sans", sans-serif' font-size="7.5" font-weight="normal" text-anchor="start" fill="#222" >CD107</text>
<line x1="39.6" y1="400" x2="41.2" y2="400" stroke="#888" stroke-width="0.6" />
<line x1="54.25" y1="400" x2="55.85" y2="400" stroke="#888" stroke-width="0.6" />
<line x1="68.4" y1="399.9" x2="71" y2="399.9" stroke="#333" stroke-width="0.8" />
<line x1="69.7" y1="398.6" x2="69.7" y2="401.2" stroke="#333" stroke-width="0.8" />
<line x1="83.55" y1="400" x2="85.15" y2="400" stroke="#888" stroke-width="0.6" />
<line x1="98.2" y1="400" x2="99.8" y2="400" stroke="#888" stroke-width="0.6" />
<line x1="112.35" y1="399.9" x2="114.95" y2="399.9" stroke="#333" stroke-width="0.8" />
<line x1="113.65" y1="398.6" x2="113.65" y2="401.2" stroke="#333" stroke-width="0.8" />
<line x1="127.5" y1="400" x2="129.1" y2="400" stroke="#888" stroke-width="0.6" />
<line x1="141.65" y1="399.9" x2="144.25" y2="399.9" stroke="#333" stroke-width="0.8" />
<line x1="142.95" y1="398.6" x2="142.95" y2="401.2" stroke="#333" stroke-width="0.8" />
<line x1="156.8" y1="400" x2="158.4" y2="400" stroke="#888" stroke-width="0.6" />
<line x1="170.95" y1="399.9" x2="173.55" y2="399.9" stroke="#333" stroke-width="0.8" />
<line x1="172.25" y1="398.6" x2="172.25" y2="401.2" stroke="#333" stroke-width="0.8" />
<line x1="185.6" y1="399.9" x2="188.2" y2="399.9" stroke="#333" stroke-width="0.8" />
<line x1="186.9" y1="398.6" x2="186.9" y2="401.2" stroke="#333" stroke-width="0.8" />
<line x1="200.75" y1="400" x2="202.35" y2="400" stroke="#888" stroke-width="0.6" />
<line x1="214.9" y1="399.9" x2="217.5" y2="399.9" stroke="#333" stroke-width="0.8" />
<line x1="216.2" y1="398.6" x2="216.2" y2="401.2" stroke="#333" stroke-width="0.8" />
<line x1="229.55" y1="399.9" x2="232.15" y2="399.9" stroke="#333" stroke-width="0.8" />
<line x1="230.85" y1="398.6" x2="230.85" y2="401.2" stroke="#333" stroke-width="0.8" />
<line x1="244.2" y1="399.9" x2="246.8" y2="399.9" stroke="#333" stroke-width="0.8" />
<line x1="245.5" y1="398.6" x2="245.5" y2="401.2" stroke="#333" stroke-width="0.8" />
<text x="10" y="411.1" font-family='"Liberation Sans", sans-serif' font-size="7.5" font-weight="normal" text-anchor="start" fill="#222" >IFN&#947;</text>
<line x1="39.6" y1="408.7" x2="41.2" y2="408.7" stroke="#888" stroke-width="0.6" />
<line x1="54.25" y1="408.7" x2="55.85" y2="408.7" stroke="#888" stroke-width="0.6" />
<line x1="68.9" y1="408.7" x2="70.5" y2="408.7" stroke="#888" stroke-width="0.6" />
<line x1="83.05" y1="408.6" x2="85.65" y2="408.6" stroke="#333" stroke-width="0.8" />
<line x1="84.35" y1="407.3" x2="84.35" y2="409.9" stroke="#333" stroke-width="0.8" />
<line x1="98.2" y1="408.7" x2="99.8" y2="408.7" stroke="#888" stroke-width="0.6" />
<line x1="112.85" y1="408.7" x2="114.45" y2="408.7" stroke="#888" stroke-width="0.6" />
<line x1="127" y1="408.6" x2="129.6" y2="408.6" stroke="#333" stroke-width="0.8" />
<line x1="128.3" y1="407.3" x2="128.3" y2="409.9" stroke="#333" stroke-width="0.8" />
<line x1="142.15" y1="408.7" x2="143.75" y2="408.7" stroke="#888" stroke-width="0.6" />
<line x1="156.3" y1="408.6" x2="158.9" y2="408.6" stroke="#333" stroke-width="0.8" />
<line x1="157.6" y1="407.3" x2="157.6" y2="409.9" stroke="#333" stroke-width="0.8" />
<line x1="170.95" y1="408.6" x2="173.55" y2="408.6" stroke="#333" stroke-width="0.8" />
<line x1="172.25" y1="407.3" x2="172.25" y2="409.9" stroke="#333" stroke-width="0.8" />
<line x1="186.1" y1="408.7" x2="187.7" y2="408.7" stroke="#888" stroke-width="0.6" />
<line x1="200.25" y1="408.6" x2="202.85" y2="408.6" stroke="#333" stroke-width="0.8" />
<line x1="201.55" y1="407.3" x2="201.55" y2="409.9" stroke="#333" stroke-width="0.8" />
<line x1="214.9" y1="408.6" x2="217.5" y2="408.6" stroke="#333" stroke-width="0.8" />
<line x1="216.2" y1="407.3" x2="216.2" y2="409.9" stroke="#333" stroke-width="0.8" />
<line x1="229.55" y1="408.6" x2="232.15" y2="408.6" stroke="#333" stroke-width="0.8" />
<line x1="230.85" y1="407.3" x2="230.85" y2="409.9" stroke="#333" stroke-width="0.8" />
<line x1="244.2" y1="408.6" x2="246.8" y2="408.6" stroke="#333" stroke-width="0.8" />
<line x1="245.5" y1="407.3" x2="245.5" y2="409.9" stroke="#333" stroke-width="0.8" />
<text x="0" y="0" transform="translate(16.9,302.9) rotate(-90)" font-family='"Liberation Sans", sans-serif' font-size="6.8" font-weight="bold" fill="#2a2a2a" text-anchor="middle" textLength="57.5" lengthAdjust="spacingAndGlyphs">mean % production</text>
<text x="129.8" y="215.9" font-family='"Liberation Serif", serif' font-size="14" font-weight="normal" text-anchor="middle" fill="#111" >HIV</text>
<line x1="47" y1="219.1" x2="212" y2="219.1" stroke="#777" stroke-width="1.1" />
<text x="1" y="218" font-family='"Liberation Sans", sans-serif' font-size="14" font-weight="bold" text-anchor="start" fill="#000" >B</text>
<rect x="128" y="234.8" width="111.8" height="22.9" fill="#fff" stroke="#555" stroke-width="0.8" />
<rect x="137" y="244.55" width="3.4" height="3.4" fill="#000" stroke="none" stroke-width="1" />
<text x="141.2" y="248.85" font-family='"Liberation Sans", sans-serif' font-size="7.2" font-weight="bold" text-anchor="start" fill="#222" >CD8</text>
<rect x="165.5" y="244.55" width="3.4" height="3.4" fill="url(#hatchV)" stroke="#555" stroke-width="0.5" />
<text x="169.9" y="248.85" font-family='"Liberation Sans", sans-serif' font-size="7.2" font-weight="bold" text-anchor="start" fill="#222" textLength="62.5" lengthAdjust="spacingAndGlyphs">CD4dimCD8bright</text>
<rect x="154.8" y="277.6" width="4.4" height="3.6" fill="#0c0c70" stroke="none" stroke-width="1" />
<text x="161.1" y="282" font-family='"Liberation Sans", sans-serif' font-size="7.2" font-weight="normal" text-anchor="start" fill="#222" >1 molecule</text>
<rect x="154.8" y="284.7" width="4.4" height="3.6" fill="#156615" stroke="none" stroke-width="1" />
<text x="161.1" y="289.1" font-family='"Liberation Sans", sans-serif' font-size="7.2" font-weight="normal" text-anchor="start" fill="#222" >2 molecules</text>
<rect x="154.8" y="292" width="4.4" height="3.6" fill="#801525" stroke="none" stroke-width="1" />
<text x="161.1" y="296.4" font-family='"Liberation Sans", sans-serif' font-size="7.2" font-weight="normal" text-anchor="start" fill="#222" >3 molecules</text>
<rect x="155.1" y="299.7" width="3.8" height="3" fill="#f0e0b0" stroke="#a08040" stroke-width="0.8" />
<text x="161.1" y="303.8" font-family='"Liberation Sans", sans-serif' font-size="7.2" font-weight="normal" text-anchor="start" fill="#222" >4 molecules</text>
<line x1="300.5" y1="243" x2="300.5" y2="372" stroke="#888" stroke-width="0.8" />
<line x1="298.5" y1="372" x2="300.5" y2="372" stroke="#888" stroke-width="0.7" />
<text x="295.2" y="375" font-family='"Liberation Sans", sans-serif' font-size="8" font-weight="normal" text-anchor="end" fill="#444" >0</text>
<line x1="298.5" y1="355.88" x2="300.5" y2="355.88" stroke="#888" stroke-width="0.7" />
<text x="295.2" y="358.88" font-family='"Liberation Sans", sans-serif' font-size="8" font-weight="normal" text-anchor="end" fill="#444" >0.5</text>
<line x1="298.5" y1="339.75" x2="300.5" y2="339.75" stroke="#888" stroke-width="0.7" />
<text x="295.2" y="342.75" font-family='"Liberation Sans", sans-serif' font-size="8" font-weight="normal" text-anchor="end" fill="#444" >1</text>
<line x1="298.5" y1="323.62" x2="300.5" y2="323.62" stroke="#888" stroke-width="0.7" />
<text x="295.2" y="326.62" font-family='"Liberation Sans", sans-serif' font-size="8" font-weight="normal" text-anchor="end" fill="#444" >1.5</text>
<line x1="298.5" y1="307.5" x2="300.5" y2="307.5" stroke="#888" stroke-width="0.7" />
<text x="295.2" y="310.5" font-family='"Liberation Sans", sans-serif' font-size="8" font-weight="normal" text-anchor="end" fill="#444" >2</text>
<line x1="298.5" y1="291.38" x2="300.5" y2="291.38" stroke="#888" stroke-width="0.7" />
<text x="295.2" y="294.38" font-family='"Liberation Sans", sans-serif' font-size="8" font-weight="normal" text-anchor="end" fill="#444" >2.5</text>
<line x1="298.5" y1="275.25" x2="300.5" y2="275.25" stroke="#888" stroke-width="0.7" />
<text x="295.2" y="278.25" font-family='"Liberation Sans", sans-serif' font-size="8" font-weight="normal" text-anchor="end" fill="#444" >3</text>
<line x1="298.5" y1="259.12" x2="300.5" y2="259.12" stroke="#888" stroke-width="0.7" />
<text x="295.2" y="262.12" font-family='"Liberation Sans", sans-serif' font-size="8" font-weight="normal" text-anchor="end" fill="#444" >3.5</text>
<line x1="298.5" y1="243" x2="300.5" y2="243" stroke="#888" stroke-width="0.7" />
<text x="295.2" y="246" font-family='"Liberation Sans", sans-serif' font-size="8" font-weight="normal" text-anchor="end" fill="#444" >4</text>
<rect x="304.1" y="365.55" width="4.5" height="6.45" fill="#000" stroke="none" stroke-width="1" />
<rect x="309" y="338.54" width="3.7" height="33.46" fill="#d6d6d6" stroke="#3a3a3a" stroke-width="0.8" />
<rect x="318.6" y="352.65" width="4.5" height="19.35" fill="#000" stroke="none" stroke-width="1" />
<rect x="323.5" y="287.9" width="3.7" height="84.09" fill="#d6d6d6" stroke="#3a3a3a" stroke-width="0.8" />
<rect x="333.1" y="352" width="4.5" height="20" fill="#000" stroke="none" stroke-width="1" />
<rect x="338" y="262.1" width="3.7" height="109.89" fill="#d6d6d6" stroke="#3a3a3a" stroke-width="0.8" />
<rect x="347.6" y="346.85" width="4.5" height="25.16" fill="#000" stroke="none" stroke-width="1" />
<rect x="352.5" y="267.59" width="3.7" height="104.41" fill="#d6d6d6" stroke="#3a3a3a" stroke-width="0.8" />
<rect x="362.1" y="365.55" width="4.5" height="6.45" fill="#000" stroke="none" stroke-width="1" />
<rect x="367" y="351.44" width="3.7" height="20.56" fill="#d6d6d6" stroke="#3a3a3a" stroke-width="0.8" />
<rect x="376.6" y="371.36" width="4.5" height="0.65" fill="#000" stroke="none" stroke-width="1" />
<rect x="381.5" y="369.82" width="3.7" height="2.18" fill="#d6d6d6" stroke="#3a3a3a" stroke-width="0.8" />
<rect x="391.1" y="365.55" width="4.5" height="6.45" fill="#000" stroke="none" stroke-width="1" />
<rect x="396" y="338.54" width="3.7" height="33.46" fill="#d6d6d6" stroke="#3a3a3a" stroke-width="0.8" />
<rect x="405.6" y="368.77" width="4.5" height="3.23" fill="#000" stroke="none" stroke-width="1" />
<rect x="410.5" y="360.14" width="3.7" height="11.86" fill="#d6d6d6" stroke="#3a3a3a" stroke-width="0.8" />
<rect x="420.1" y="370.39" width="4.5" height="1.61" fill="#000" stroke="none" stroke-width="1" />
<rect x="425" y="357.24" width="3.7" height="14.76" fill="#d6d6d6" stroke="#3a3a3a" stroke-width="0.8" />
<rect x="434.6" y="371.03" width="4.5" height="0.97" fill="#000" stroke="none" stroke-width="1" />
<rect x="439.5" y="370.79" width="3.7" height="1.21" fill="#d6d6d6" stroke="#3a3a3a" stroke-width="0.8" />
<rect x="449.1" y="371.68" width="4.5" height="0.32" fill="#000" stroke="none" stroke-width="1" />
<rect x="454" y="371.11" width="3.7" height="0.89" fill="#d6d6d6" stroke="#3a3a3a" stroke-width="0.8" />
<rect x="463.6" y="370.39" width="4.5" height="1.61" fill="#000" stroke="none" stroke-width="1" />
<rect x="468.5" y="368.21" width="3.7" height="3.79" fill="#d6d6d6" stroke="#3a3a3a" stroke-width="0.8" />
<rect x="492.6" y="371.36" width="4.5" height="0.65" fill="#000" stroke="none" stroke-width="1" />
<rect x="497.5" y="370.46" width="3.7" height="1.53" fill="#d6d6d6" stroke="#3a3a3a" stroke-width="0.8" />
<rect x="507.1" y="371.68" width="4.5" height="0.32" fill="#000" stroke="none" stroke-width="1" />
<rect x="512" y="370.46" width="3.7" height="1.53" fill="#d6d6d6" stroke="#3a3a3a" stroke-width="0.8" />
<line x1="300.5" y1="372" x2="518.7" y2="372" stroke="#888" stroke-width="0.8" />
<rect x="302" y="372.2" width="56.75" height="3.4" fill="#1515c0" stroke="none" stroke-width="1" />
<rect x="360" y="372.2" width="87.3" height="3.4" fill="#139113" stroke="none" stroke-width="1" />
<rect x="448" y="372.2" width="58" height="3.4" fill="#e01515" stroke="none" stroke-width="1" />
<rect x="506.5" y="372.2" width="12.2" height="3.4" fill="#f5d040" stroke="none" stroke-width="1" />
<text x="276.25" y="384.9" font-family='"Liberation Sans", sans-serif' font-size="7.5" font-weight="normal" text-anchor="start" fill="#222" >IL-2</text>
<line x1="307.3" y1="382.4" x2="309.9" y2="382.4" stroke="#333" stroke-width="0.8" />
<line x1="308.6" y1="381.1" x2="308.6" y2="383.7" stroke="#333" stroke-width="0.8" />
<line x1="322.3" y1="382.5" x2="323.9" y2="382.5" stroke="#888" stroke-width="0.6" />
<line x1="336.8" y1="382.5" x2="338.4" y2="382.5" stroke="#888" stroke-width="0.6" />
<line x1="351.3" y1="382.5" x2="352.9" y2="382.5" stroke="#888" stroke-width="0.6" />
<line x1="365.3" y1="382.4" x2="367.9" y2="382.4" stroke="#333" stroke-width="0.8" />
<line x1="366.6" y1="381.1" x2="366.6" y2="383.7" stroke="#333" stroke-width="0.8" />
<line x1="379.8" y1="382.4" x2="382.4" y2="382.4" stroke="#333" stroke-width="0.8" />
<line x1="381.1" y1="381.1" x2="381.1" y2="383.7" stroke="#333" stroke-width="0.8" />
<line x1="394.3" y1="382.4" x2="396.9" y2="382.4" stroke="#333" stroke-width="0.8" />
<line x1="395.6" y1="381.1" x2="395.6" y2="383.7" stroke="#333" stroke-width="0.8" />
<line x1="409.3" y1="382.5" x2="410.9" y2="382.5" stroke="#888" stroke-width="0.6" />
<line x1="423.8" y1="382.5" x2="425.4" y2="382.5" stroke="#888" stroke-width="0.6" />
<line x1="438.3" y1="382.5" x2="439.9" y2="382.5" stroke="#888" stroke-width="0.6" />
<line x1="452.3" y1="382.4" x2="454.9" y2="382.4" stroke="#333" stroke-width="0.8" />
<line x1="453.6" y1="381.1" x2="453.6" y2="383.7" stroke="#333" stroke-width="0.8" />
<line x1="466.8" y1="382.4" x2="469.4" y2="382.4" stroke="#333" stroke-width="0.8" />
<line x1="468.1" y1="381.1" x2="468.1" y2="383.7" stroke="#333" stroke-width="0.8" />
<line x1="481.3" y1="382.4" x2="483.9" y2="382.4" stroke="#333" stroke-width="0.8" />
<line x1="482.6" y1="381.1" x2="482.6" y2="383.7" stroke="#333" stroke-width="0.8" />
<line x1="496.3" y1="382.5" x2="497.9" y2="382.5" stroke="#888" stroke-width="0.6" />
<line x1="510.3" y1="382.4" x2="512.9" y2="382.4" stroke="#333" stroke-width="0.8" />
<line x1="511.6" y1="381.1" x2="511.6" y2="383.7" stroke="#333" stroke-width="0.8" />
<text x="276.25" y="394.15" font-family='"Liberation Sans", sans-serif' font-size="7.5" font-weight="normal" text-anchor="start" fill="#222" >TNF&#945;</text>
<line x1="307.8" y1="391.75" x2="309.4" y2="391.75" stroke="#888" stroke-width="0.6" />
<line x1="321.8" y1="391.65" x2="324.4" y2="391.65" stroke="#333" stroke-width="0.8" />
<line x1="323.1" y1="390.35" x2="323.1" y2="392.95" stroke="#333" stroke-width="0.8" />
<line x1="336.8" y1="391.75" x2="338.4" y2="391.75" stroke="#888" stroke-width="0.6" />
<line x1="351.3" y1="391.75" x2="352.9" y2="391.75" stroke="#888" stroke-width="0.6" />
<line x1="365.3" y1="391.65" x2="367.9" y2="391.65" stroke="#333" stroke-width="0.8" />
<line x1="366.6" y1="390.35" x2="366.6" y2="392.95" stroke="#333" stroke-width="0.8" />
<line x1="380.3" y1="391.75" x2="381.9" y2="391.75" stroke="#888" stroke-width="0.6" />
<line x1="394.8" y1="391.75" x2="396.4" y2="391.75" stroke="#888" stroke-width="0.6" />
<line x1="408.8" y1="391.65" x2="411.4" y2="391.65" stroke="#333" stroke-width="0.8" />
<line x1="410.1" y1="390.35" x2="410.1" y2="392.95" stroke="#333" stroke-width="0.8" />
<line x1="423.3" y1="391.65" x2="425.9" y2="391.65" stroke="#333" stroke-width="0.8" />
<line x1="424.6" y1="390.35" x2="424.6" y2="392.95" stroke="#333" stroke-width="0.8" />
<line x1="438.3" y1="391.75" x2="439.9" y2="391.75" stroke="#888" stroke-width="0.6" />
<line x1="452.3" y1="391.65" x2="454.9" y2="391.65" stroke="#333" stroke-width="0.8" />
<line x1="453.6" y1="390.35" x2="453.6" y2="392.95" stroke="#333" stroke-width="0.8" />
<line x1="466.8" y1="391.65" x2="469.4" y2="391.65" stroke="#333" stroke-width="0.8" />
<line x1="468.1" y1="390.35" x2="468.1" y2="392.95" stroke="#333" stroke-width="0.8" />
<line x1="481.8" y1="391.75" x2="483.4" y2="391.75" stroke="#888" stroke-width="0.6" />
<line x1="495.8" y1="391.65" x2="498.4" y2="391.65" stroke="#333" stroke-width="0.8" />
<line x1="497.1" y1="390.35" x2="497.1" y2="392.95" stroke="#333" stroke-width="0.8" />
<line x1="510.3" y1="391.65" x2="512.9" y2="391.65" stroke="#333" stroke-width="0.8" />
<line x1="511.6" y1="390.35" x2="511.6" y2="392.95" stroke="#333" stroke-width="0.8" />
<text x="276.25" y="402.9" font-family='"Liberation Sans", sans-serif' font-size="7.5" font-weight="normal" text-anchor="start" fill="#222" >CD107</text>
<line x1="307.8" y1="400.5" x2="309.4" y2="400.5" stroke="#888" stroke-width="0.6" />
<line x1="322.3" y1="400.5" x2="323.9" y2="400.5" stroke="#888" stroke-width="0.6" />
<line x1="336.3" y1="400.4" x2="338.9" y2="400.4" stroke="#333" stroke-width="0.8" />
<line x1="337.6" y1="399.1" x2="337.6" y2="401.7" stroke="#333" stroke-width="0.8" />
<line x1="351.3" y1="400.5" x2="352.9" y2="400.5" stroke="#888" stroke-width="0.6" />
<line x1="365.8" y1="400.5" x2="367.4" y2="400.5" stroke="#888" stroke-width="0.6" />
<line x1="379.8" y1="400.4" x2="382.4" y2="400.4" stroke="#333" stroke-width="0.8" />
<line x1="381.1" y1="399.1" x2="381.1" y2="401.7" stroke="#333" stroke-width="0.8" />
<line x1="394.8" y1="400.5" x2="396.4" y2="400.5" stroke="#888" stroke-width="0.6" />
<line x1="408.8" y1="400.4" x2="411.4" y2="400.4" stroke="#333" stroke-width="0.8" />
<line x1="410.1" y1="399.1" x2="410.1" y2="401.7" stroke="#333" stroke-width="0.8" />
<line x1="423.8" y1="400.5" x2="425.4" y2="400.5" stroke="#888" stroke-width="0.6" />
<line x1="437.8" y1="400.4" x2="440.4" y2="400.4" stroke="#333" stroke-width="0.8" />
<line x1="439.1" y1="399.1" x2="439.1" y2="401.7" stroke="#333" stroke-width="0.8" />
<line x1="452.3" y1="400.4" x2="454.9" y2="400.4" stroke="#333" stroke-width="0.8" />
<line x1="453.6" y1="399.1" x2="453.6" y2="401.7" stroke="#333" stroke-width="0.8" />
<line x1="467.3" y1="400.5" x2="468.9" y2="400.5" stroke="#888" stroke-width="0.6" />
<line x1="481.3" y1="400.4" x2="483.9" y2="400.4" stroke="#333" stroke-width="0.8" />
<line x1="482.6" y1="399.1" x2="482.6" y2="401.7" stroke="#333" stroke-width="0.8" />
<line x1="495.8" y1="400.4" x2="498.4" y2="400.4" stroke="#333" stroke-width="0.8" />
<line x1="497.1" y1="399.1" x2="497.1" y2="401.7" stroke="#333" stroke-width="0.8" />
<line x1="510.3" y1="400.4" x2="512.9" y2="400.4" stroke="#333" stroke-width="0.8" />
<line x1="511.6" y1="399.1" x2="511.6" y2="401.7" stroke="#333" stroke-width="0.8" />
<text x="276.25" y="411.65" font-family='"Liberation Sans", sans-serif' font-size="7.5" font-weight="normal" text-anchor="start" fill="#222" >IFN&#947;</text>
<line x1="307.8" y1="409.25" x2="309.4" y2="409.25" stroke="#888" stroke-width="0.6" />
<line x1="322.3" y1="409.25" x2="323.9" y2="409.25" stroke="#888" stroke-width="0.6" />
<line x1="336.8" y1="409.25" x2="338.4" y2="409.25" stroke="#888" stroke-width="0.6" />
<line x1="350.8" y1="409.15" x2="353.4" y2="409.15" stroke="#333" stroke-width="0.8" />
<line x1="352.1" y1="407.85" x2="352.1" y2="410.45" stroke="#333" stroke-width="0.8" />
<line x1="365.8" y1="409.25" x2="367.4" y2="409.25" stroke="#888" stroke-width="0.6" />
<line x1="380.3" y1="409.25" x2="381.9" y2="409.25" stroke="#888" stroke-width="0.6" />
<line x1="394.3" y1="409.15" x2="396.9" y2="409.15" stroke="#333" stroke-width="0.8" />
<line x1="395.6" y1="407.85" x2="395.6" y2="410.45" stroke="#333" stroke-width="0.8" />
<line x1="409.3" y1="409.25" x2="410.9" y2="409.25" stroke="#888" stroke-width="0.6" />
<line x1="423.3" y1="409.15" x2="425.9" y2="409.15" stroke="#333" stroke-width="0.8" />
<line x1="424.6" y1="407.85" x2="424.6" y2="410.45" stroke="#333" stroke-width="0.8" />
<line x1="437.8" y1="409.15" x2="440.4" y2="409.15" stroke="#333" stroke-width="0.8" />
<line x1="439.1" y1="407.85" x2="439.1" y2="410.45" stroke="#333" stroke-width="0.8" />
<line x1="452.8" y1="409.25" x2="454.4" y2="409.25" stroke="#888" stroke-width="0.6" />
<line x1="466.8" y1="409.15" x2="469.4" y2="409.15" stroke="#333" stroke-width="0.8" />
<line x1="468.1" y1="407.85" x2="468.1" y2="410.45" stroke="#333" stroke-width="0.8" />
<line x1="481.3" y1="409.15" x2="483.9" y2="409.15" stroke="#333" stroke-width="0.8" />
<line x1="482.6" y1="407.85" x2="482.6" y2="410.45" stroke="#333" stroke-width="0.8" />
<line x1="495.8" y1="409.15" x2="498.4" y2="409.15" stroke="#333" stroke-width="0.8" />
<line x1="497.1" y1="407.85" x2="497.1" y2="410.45" stroke="#333" stroke-width="0.8" />
<line x1="510.3" y1="409.15" x2="512.9" y2="409.15" stroke="#333" stroke-width="0.8" />
<line x1="511.6" y1="407.85" x2="511.6" y2="410.45" stroke="#333" stroke-width="0.8" />
<text x="0" y="0" transform="translate(278.6,308.5) rotate(-90)" font-family='"Liberation Sans", sans-serif' font-size="6.8" font-weight="bold" fill="#2a2a2a" text-anchor="middle" textLength="57.4" lengthAdjust="spacingAndGlyphs">mean % production</text>
<text x="387.7" y="215.9" font-family='"Liberation Serif", serif' font-size="14" font-weight="normal" text-anchor="middle" fill="#111" >CMV</text>
<line x1="307" y1="219.6" x2="472" y2="219.6" stroke="#777" stroke-width="1.1" />
<text x="263.3" y="218.9" font-family='"Liberation Sans", sans-serif' font-size="14.6" font-weight="bold" text-anchor="start" fill="#000" >C</text>
<rect x="397.5" y="235.3" width="108.5" height="21.6" fill="#fff" stroke="#555" stroke-width="0.8" />
<rect x="404.8" y="244.4" width="3.4" height="3.4" fill="#000" stroke="none" stroke-width="1" />
<text x="409" y="248.7" font-family='"Liberation Sans", sans-serif' font-size="7.2" font-weight="bold" text-anchor="start" fill="#222" >CD8</text>
<rect x="432.5" y="244.4" width="3.4" height="3.4" fill="url(#hatchV)" stroke="#555" stroke-width="0.5" />
<text x="436.9" y="248.7" font-family='"Liberation Sans", sans-serif' font-size="7.2" font-weight="bold" text-anchor="start" fill="#222" textLength="59.5" lengthAdjust="spacingAndGlyphs">CD4dimCD8bright</text>
<rect x="421" y="277.6" width="4.4" height="3.6" fill="#0c0c70" stroke="none" stroke-width="1" />
<text x="427.3" y="282" font-family='"Liberation Sans", sans-serif' font-size="7.2" font-weight="normal" text-anchor="start" fill="#222" >1 molecule</text>
<rect x="421" y="284.7" width="4.4" height="3.6" fill="#156615" stroke="none" stroke-width="1" />
<text x="427.3" y="289.1" font-family='"Liberation Sans", sans-serif' font-size="7.2" font-weight="normal" text-anchor="start" fill="#222" >2 molecules</text>
<rect x="421" y="292" width="4.4" height="3.6" fill="#801525" stroke="none" stroke-width="1" />
<text x="427.3" y="296.4" font-family='"Liberation Sans", sans-serif' font-size="7.2" font-weight="normal" text-anchor="start" fill="#222" >3 molecules</text>
<rect x="421.3" y="299.7" width="3.8" height="3" fill="#f0e0b0" stroke="#a08040" stroke-width="0.8" />
<text x="427.3" y="303.8" font-family='"Liberation Sans", sans-serif' font-size="7.2" font-weight="normal" text-anchor="start" fill="#222" >4 molecules</text>
<circle cx="62.9" cy="516.4" r="41.8" fill="#d4d4d4" stroke="#8a8a8a" stroke-width="0.8"/>
<path d="M62.9 516.4L62.9 474.6A41.8 41.8 0 0 0 62.46 474.6Z" fill="#f01010" stroke="#1a1a3a" stroke-width="0.55" stroke-opacity="0.75" stroke-linejoin="round"/>
<path d="M62.9 516.4L62.46 474.6A41.8 41.8 0 0 0 56.94 475.03Z" fill="#0606f6" stroke="#1a1a3a" stroke-width="0.55" stroke-opacity="0.75" stroke-linejoin="round"/>
<circle cx="62.9" cy="516.4" r="41.8" fill="none" stroke="#8a8a8a" stroke-width="0.8"/>
<text x="40.8" y="471.8" font-family='"Liberation Serif", serif' font-size="10.6" font-weight="normal" text-anchor="start" fill="#222" >2%</text>
<circle cx="157.1" cy="515.6" r="42.7" fill="#d4d4d4" stroke="#8a8a8a" stroke-width="0.8"/>
<path d="M157.1 515.6L157.1 472.9A42.7 42.7 0 0 0 156.65 472.9Z" fill="#ffc820" stroke="#1a1a3a" stroke-width="0.55" stroke-opacity="0.75" stroke-linejoin="round"/>
<path d="M157.1 515.6L156.65 472.9A42.7 42.7 0 0 0 154.57 472.98Z" fill="#f01010" stroke="#1a1a3a" stroke-width="0.55" stroke-opacity="0.75" stroke-linejoin="round"/>
<path d="M157.1 515.6L154.57 472.98A42.7 42.7 0 0 0 149.25 473.63Z" fill="#10a410" stroke="#1a1a3a" stroke-width="0.55" stroke-opacity="0.75" stroke-linejoin="round"/>
<path d="M157.1 515.6L149.25 473.63A42.7 42.7 0 0 0 128.53 483.87Z" fill="#0606f6" stroke="#1a1a3a" stroke-width="0.55" stroke-opacity="0.75" stroke-linejoin="round"/>
<circle cx="157.1" cy="515.6" r="42.7" fill="none" stroke="#8a8a8a" stroke-width="0.8"/>
<text x="129.2" y="471.7" font-family='"Liberation Serif", serif' font-size="10.6" font-weight="normal" text-anchor="start" fill="#222" >11%</text>
<circle cx="63.6" cy="620" r="42.2" fill="#d4d4d4" stroke="#8a8a8a" stroke-width="0.8"/>
<path d="M63.6 620L63.6 577.8A42.2 42.2 0 0 0 62.5 577.81Z" fill="#f01010" stroke="#1a1a3a" stroke-width="0.55" stroke-opacity="0.75" stroke-linejoin="round"/>
<path d="M63.6 620L62.5 577.81A42.2 42.2 0 0 0 59.7 577.98Z" fill="#10a410" stroke="#1a1a3a" stroke-width="0.55" stroke-opacity="0.75" stroke-linejoin="round"/>
<path d="M63.6 620L59.7 577.98A42.2 42.2 0 0 0 53.11 579.13Z" fill="#0606f6" stroke="#1a1a3a" stroke-width="0.55" stroke-opacity="0.75" stroke-linejoin="round"/>
<circle cx="63.6" cy="620" r="42.2" fill="none" stroke="#8a8a8a" stroke-width="0.8"/>
<text x="38.8" y="576.2" font-family='"Liberation Serif", serif' font-size="10.6" font-weight="normal" text-anchor="start" fill="#222" >4%</text>
<circle cx="156.9" cy="621" r="43" fill="#d4d4d4" stroke="#8a8a8a" stroke-width="0.8"/>
<path d="M156.9 621L156.9 578A43 43 0 0 0 156.3 578Z" fill="#ffc820" stroke="#1a1a3a" stroke-width="0.55" stroke-opacity="0.75" stroke-linejoin="round"/>
<path d="M156.9 621L156.3 578A43 43 0 0 0 151.06 578.4Z" fill="#f01010" stroke="#1a1a3a" stroke-width="0.55" stroke-opacity="0.75" stroke-linejoin="round"/>
<path d="M156.9 621L151.06 578.4A43 43 0 0 0 136.18 583.32Z" fill="#10a410" stroke="#1a1a3a" stroke-width="0.55" stroke-opacity="0.75" stroke-linejoin="round"/>
<path d="M156.9 621L136.18 583.32A43 43 0 0 0 117.32 604.2Z" fill="#0606f6" stroke="#1a1a3a" stroke-width="0.55" stroke-opacity="0.75" stroke-linejoin="round"/>
<circle cx="156.9" cy="621" r="43" fill="none" stroke="#8a8a8a" stroke-width="0.8"/>
<text x="127.2" y="576.6" font-family='"Liberation Serif", serif' font-size="10.6" font-weight="normal" text-anchor="start" fill="#222" >18%</text>
<circle cx="64.7" cy="725.9" r="42" fill="#d4d4d4" stroke="#8a8a8a" stroke-width="0.8"/>
<path d="M64.7 725.9L64.7 683.9A42 42 0 0 0 58.71 684.33Z" fill="#ffc820" stroke="#1a1a3a" stroke-width="0.55" stroke-opacity="0.75" stroke-linejoin="round"/>
<path d="M64.7 725.9L58.71 684.33A42 42 0 0 0 45.57 688.51Z" fill="#f01010" stroke="#1a1a3a" stroke-width="0.55" stroke-opacity="0.75" stroke-linejoin="round"/>
<path d="M64.7 725.9L45.57 688.51A42 42 0 0 0 27.9 705.67Z" fill="#10a410" stroke="#1a1a3a" stroke-width="0.55" stroke-opacity="0.75" stroke-linejoin="round"/>
<path d="M64.7 725.9L27.9 705.67A42 42 0 0 0 24.37 737.62Z" fill="#0606f6" stroke="#1a1a3a" stroke-width="0.55" stroke-opacity="0.75" stroke-linejoin="round"/>
<circle cx="64.7" cy="725.9" r="42" fill="none" stroke="#8a8a8a" stroke-width="0.8"/>
<text x="33.4" y="679.6" font-family='"Liberation Serif", serif' font-size="10.6" font-weight="normal" text-anchor="start" fill="#222" >29%</text>
<circle cx="156.4" cy="724.9" r="41.6" fill="#d4d4d4" stroke="#8a8a8a" stroke-width="0.8"/>
<path d="M156.4 724.9L156.4 683.3A41.6 41.6 0 0 0 148.82 684Z" fill="#ffc820" stroke="#1a1a3a" stroke-width="0.55" stroke-opacity="0.75" stroke-linejoin="round"/>
<path d="M156.4 724.9L148.82 684A41.6 41.6 0 0 0 127.87 694.62Z" fill="#f01010" stroke="#1a1a3a" stroke-width="0.55" stroke-opacity="0.75" stroke-linejoin="round"/>
<path d="M156.4 724.9L127.87 694.62A41.6 41.6 0 0 0 117.19 738.79Z" fill="#10a410" stroke="#1a1a3a" stroke-width="0.55" stroke-opacity="0.75" stroke-linejoin="round"/>
<path d="M156.4 724.9L117.19 738.79A41.6 41.6 0 0 0 142.45 764.09Z" fill="#0606f6" stroke="#1a1a3a" stroke-width="0.55" stroke-opacity="0.75" stroke-linejoin="round"/>
<circle cx="156.4" cy="724.9" r="41.6" fill="none" stroke="#8a8a8a" stroke-width="0.8"/>
<text x="128.3" y="679.4" font-family='"Liberation Serif", serif' font-size="10.6" font-weight="normal" text-anchor="start" fill="#222" >45%</text>
<circle cx="266.6" cy="515.8" r="43" fill="#d4d4d4" stroke="#8a8a8a" stroke-width="0.8"/>
<path d="M266.6 515.8L266.37 472.8A43 43 0 0 0 261.96 473.05Z" fill="#0606f6" stroke="#1a1a3a" stroke-width="0.55" stroke-opacity="0.75" stroke-linejoin="round"/>
<circle cx="266.6" cy="515.8" r="43" fill="none" stroke="#8a8a8a" stroke-width="0.8"/>
<text x="236.3" y="471.3" font-family='"Liberation Serif", serif' font-size="10.6" font-weight="normal" text-anchor="start" fill="#222" >2%</text>
<circle cx="361.8" cy="516" r="43.4" fill="#d4d4d4" stroke="#8a8a8a" stroke-width="0.8"/>
<path d="M361.8 516L361.42 472.6A43.4 43.4 0 0 0 359.07 472.69Z" fill="#10a410" stroke="#1a1a3a" stroke-width="0.55" stroke-opacity="0.75" stroke-linejoin="round"/>
<path d="M361.8 516L359.07 472.69A43.4 43.4 0 0 0 342.77 476.99Z" fill="#0606f6" stroke="#1a1a3a" stroke-width="0.55" stroke-opacity="0.75" stroke-linejoin="round"/>
<circle cx="361.8" cy="516" r="43.4" fill="none" stroke="#8a8a8a" stroke-width="0.8"/>
<text x="323.5" y="471" font-family='"Liberation Serif", serif' font-size="10.6" font-weight="normal" text-anchor="start" fill="#222" >7%</text>
<circle cx="265.8" cy="622.3" r="42" fill="#d4d4d4" stroke="#8a8a8a" stroke-width="0.8"/>
<path d="M265.8 622.3L265.8 580.3A42 42 0 0 0 264.92 580.31Z" fill="#f01010" stroke="#1a1a3a" stroke-width="0.55" stroke-opacity="0.75" stroke-linejoin="round"/>
<path d="M265.8 622.3L264.92 580.31A42 42 0 0 0 257.93 581.04Z" fill="#0606f6" stroke="#1a1a3a" stroke-width="0.55" stroke-opacity="0.75" stroke-linejoin="round"/>
<circle cx="265.8" cy="622.3" r="42" fill="none" stroke="#8a8a8a" stroke-width="0.8"/>
<text x="235.5" y="576" font-family='"Liberation Serif", serif' font-size="10.6" font-weight="normal" text-anchor="start" fill="#222" >3%</text>
<circle cx="359.6" cy="621.6" r="43" fill="#d4d4d4" stroke="#8a8a8a" stroke-width="0.8"/>
<path d="M359.6 621.6L359.6 578.6A43 43 0 0 0 357.42 578.66Z" fill="#f01010" stroke="#1a1a3a" stroke-width="0.55" stroke-opacity="0.75" stroke-linejoin="round"/>
<path d="M359.6 621.6L357.42 578.66A43 43 0 0 0 351.47 579.38Z" fill="#10a410" stroke="#1a1a3a" stroke-width="0.55" stroke-opacity="0.75" stroke-linejoin="round"/>
<path d="M359.6 621.6L351.47 579.38A43 43 0 0 0 327.64 592.83Z" fill="#0606f6" stroke="#1a1a3a" stroke-width="0.55" stroke-opacity="0.75" stroke-linejoin="round"/>
<circle cx="359.6" cy="621.6" r="43" fill="none" stroke="#8a8a8a" stroke-width="0.8"/>
<text x="323.1" y="576.6" font-family='"Liberation Serif", serif' font-size="10.6" font-weight="normal" text-anchor="start" fill="#222" >13%</text>
<circle cx="264.7" cy="724.8" r="41.8" fill="#d4d4d4" stroke="#8a8a8a" stroke-width="0.8"/>
<path d="M264.7 724.8L264.12 683A41.8 41.8 0 0 0 261.49 683.12Z" fill="#f01010" stroke="#1a1a3a" stroke-width="0.55" stroke-opacity="0.75" stroke-linejoin="round"/>
<path d="M264.7 724.8L261.49 683.12A41.8 41.8 0 0 0 251.3 685.21Z" fill="#10a410" stroke="#1a1a3a" stroke-width="0.55" stroke-opacity="0.75" stroke-linejoin="round"/>
<path d="M264.7 724.8L251.3 685.21A41.8 41.8 0 0 0 234.33 696.08Z" fill="#0606f6" stroke="#1a1a3a" stroke-width="0.55" stroke-opacity="0.75" stroke-linejoin="round"/>
<circle cx="264.7" cy="724.8" r="41.8" fill="none" stroke="#8a8a8a" stroke-width="0.8"/>
<text x="229.4" y="679.4" font-family='"Liberation Serif", serif' font-size="10.6" font-weight="normal" text-anchor="start" fill="#222" >12%</text>
<circle cx="362.4" cy="723.9" r="42.6" fill="#d4d4d4" stroke="#8a8a8a" stroke-width="0.8"/>
<path d="M362.4 723.9L362.4 681.3A42.6 42.6 0 0 0 361.88 681.3Z" fill="#ffc820" stroke="#1a1a3a" stroke-width="0.55" stroke-opacity="0.75" stroke-linejoin="round"/>
<path d="M362.4 723.9L361.88 681.3A42.6 42.6 0 0 0 356.03 681.78Z" fill="#f01010" stroke="#1a1a3a" stroke-width="0.55" stroke-opacity="0.75" stroke-linejoin="round"/>
<path d="M362.4 723.9L356.03 681.78A42.6 42.6 0 0 0 326 701.77Z" fill="#10a410" stroke="#1a1a3a" stroke-width="0.55" stroke-opacity="0.75" stroke-linejoin="round"/>
<path d="M362.4 723.9L326 701.77A42.6 42.6 0 0 0 330.2 751.79Z" fill="#0606f6" stroke="#1a1a3a" stroke-width="0.55" stroke-opacity="0.75" stroke-linejoin="round"/>
<circle cx="362.4" cy="723.9" r="42.6" fill="none" stroke="#8a8a8a" stroke-width="0.8"/>
<text x="323.8" y="679.4" font-family='"Liberation Serif", serif' font-size="10.6" font-weight="normal" text-anchor="start" fill="#222" >37%</text>
<text x="8.6" y="453.3" font-family='"Liberation Sans", sans-serif' font-size="14" font-weight="bold" text-anchor="start" fill="#000" >D</text>
<text x="217" y="453.3" font-family='"Liberation Sans", sans-serif' font-size="14" font-weight="bold" text-anchor="start" fill="#000" >E</text>
<text x="110.5" y="438.8" font-family='"Liberation Serif", serif' font-size="14.4" font-weight="normal" text-anchor="middle" fill="#111" >HIV</text>
<text x="315.2" y="439.5" font-family='"Liberation Serif", serif' font-size="14.4" font-weight="normal" text-anchor="middle" fill="#111" >CMV</text>
<line x1="22.5" y1="441.6" x2="199" y2="441.6" stroke="#777" stroke-width="1.1" />
<line x1="229.5" y1="441.9" x2="405" y2="441.9" stroke="#777" stroke-width="1.1" />
<text x="68.9" y="454.4" font-family='"Liberation Serif", serif' font-size="12.2" font-weight="normal" text-anchor="middle" fill="#111" >CD4-CD8+</text>
<text x="267.5" y="454.3" font-family='"Liberation Serif", serif' font-size="12.2" font-weight="normal" text-anchor="middle" fill="#111" >CD4-CD8+</text>
<line x1="27.5" y1="458.2" x2="102" y2="458.2" stroke="#777" stroke-width="1.1" />
<line x1="231.3" y1="458.2" x2="298.8" y2="458.2" stroke="#777" stroke-width="1.1" />
<text x="111.6" y="454.2" font-family='"Liberation Serif", serif' font-size="12.6" fill="#111">CD4<tspan font-size="7.2" dy="-4.6">dim</tspan><tspan dy="4.6">CD8</tspan><tspan font-size="7.2" dy="-4.6">bright</tspan></text>
<text x="318" y="454.2" font-family='"Liberation Serif", serif' font-size="12.6" fill="#111">CD4<tspan font-size="7.2" dy="-4.6">dim</tspan><tspan dy="4.6">CD8</tspan><tspan font-size="7.2" dy="-4.6">bright</tspan></text>
<line x1="119.5" y1="457.8" x2="186.7" y2="457.8" stroke="#777" stroke-width="1.1" />
<line x1="320.1" y1="458.2" x2="394.1" y2="458.2" stroke="#777" stroke-width="1.1" />
<line x1="411.3" y1="473.5" x2="411.3" y2="554.2" stroke="#666" stroke-width="1.1" />
<text x="421.9" y="514.7" font-family='"Liberation Serif", serif' font-size="10.1" font-weight="normal" text-anchor="start" fill="#111" >UNT</text>
<line x1="411.3" y1="577.7" x2="411.3" y2="658.4" stroke="#666" stroke-width="1.1" />
<text x="421.9" y="618.3" font-family='"Liberation Serif", serif' font-size="10.1" font-weight="normal" text-anchor="start" fill="#111" >PEP</text>
<line x1="411.3" y1="682" x2="411.3" y2="763.2" stroke="#666" stroke-width="1.1" />
<text x="421.9" y="721.4" font-family='"Liberation Serif", serif' font-size="10.1" font-weight="normal" text-anchor="start" fill="#111" >SEB</text>
<rect x="103.2" y="775.7" width="4" height="3.4" fill="#e0e0e0" stroke="#555" stroke-width="0.9" />
<text x="109.5" y="780" font-family='"Liberation Sans", sans-serif' font-size="8.0" font-weight="normal" text-anchor="start" fill="#222" >None</text>
<rect x="133.4" y="775.4" width="4.8" height="4" fill="#0c0c70" stroke="none" stroke-width="1" />
<text x="140" y="780" font-family='"Liberation Sans", sans-serif' font-size="8.0" font-weight="normal" text-anchor="start" fill="#222" >1 molecule</text>
<rect x="183.6" y="775.4" width="4.8" height="4" fill="#156615" stroke="none" stroke-width="1" />
<text x="190" y="780" font-family='"Liberation Sans", sans-serif' font-size="8.0" font-weight="normal" text-anchor="start" fill="#222" >2 molecules</text>
<rect x="239.8" y="775.4" width="4.8" height="4" fill="#801525" stroke="none" stroke-width="1" />
<text x="245" y="780" font-family='"Liberation Sans", sans-serif' font-size="8.0" font-weight="normal" text-anchor="start" fill="#222" >3 molecules</text>
<rect x="293.4" y="775.7" width="4" height="3.4" fill="#f0e0b0" stroke="#a08040" stroke-width="0.9" />
<text x="299.5" y="780" font-family='"Liberation Sans", sans-serif' font-size="8.0" font-weight="normal" text-anchor="start" fill="#222" >4 molecules</text>
<line x1="38.6" y1="830.3" x2="38.6" y2="971.5" stroke="#999" stroke-width="0.8" />
<line x1="36.6" y1="971.5" x2="38.6" y2="971.5" stroke="#999" stroke-width="0.7" />
<text x="33.1" y="974.45" font-family='"Liberation Sans", sans-serif' font-size="8.2" font-weight="normal" text-anchor="end" fill="#555" >0</text>
<line x1="36.6" y1="953.85" x2="38.6" y2="953.85" stroke="#999" stroke-width="0.7" />
<text x="33.1" y="956.8" font-family='"Liberation Sans", sans-serif' font-size="8.2" font-weight="normal" text-anchor="end" fill="#555" >2</text>
<line x1="36.6" y1="936.2" x2="38.6" y2="936.2" stroke="#999" stroke-width="0.7" />
<text x="33.1" y="939.15" font-family='"Liberation Sans", sans-serif' font-size="8.2" font-weight="normal" text-anchor="end" fill="#555" >4</text>
<line x1="36.6" y1="918.55" x2="38.6" y2="918.55" stroke="#999" stroke-width="0.7" />
<text x="33.1" y="921.5" font-family='"Liberation Sans", sans-serif' font-size="8.2" font-weight="normal" text-anchor="end" fill="#555" >6</text>
<line x1="36.6" y1="900.9" x2="38.6" y2="900.9" stroke="#999" stroke-width="0.7" />
<text x="33.1" y="903.85" font-family='"Liberation Sans", sans-serif' font-size="8.2" font-weight="normal" text-anchor="end" fill="#555" >8</text>
<line x1="36.6" y1="883.25" x2="38.6" y2="883.25" stroke="#999" stroke-width="0.7" />
<text x="33.1" y="886.2" font-family='"Liberation Sans", sans-serif' font-size="8.2" font-weight="normal" text-anchor="end" fill="#555" >10</text>
<line x1="36.6" y1="865.6" x2="38.6" y2="865.6" stroke="#999" stroke-width="0.7" />
<text x="33.1" y="868.55" font-family='"Liberation Sans", sans-serif' font-size="8.2" font-weight="normal" text-anchor="end" fill="#555" >12</text>
<line x1="36.6" y1="847.95" x2="38.6" y2="847.95" stroke="#999" stroke-width="0.7" />
<text x="33.1" y="850.9" font-family='"Liberation Sans", sans-serif' font-size="8.2" font-weight="normal" text-anchor="end" fill="#555" >14</text>
<line x1="36.6" y1="830.3" x2="38.6" y2="830.3" stroke="#999" stroke-width="0.7" />
<text x="33.1" y="833.25" font-family='"Liberation Sans", sans-serif' font-size="8.2" font-weight="normal" text-anchor="end" fill="#555" >16</text>
<line x1="52.9" y1="933.55" x2="52.9" y2="947.94" stroke="#666" stroke-width="0.8" />
<line x1="51.4" y1="933.55" x2="54.4" y2="933.55" stroke="#666" stroke-width="0.8" />
<line x1="64.7" y1="837.36" x2="64.7" y2="878.84" stroke="#666" stroke-width="0.8" />
<line x1="63.2" y1="837.36" x2="66.2" y2="837.36" stroke="#666" stroke-width="0.8" />
<rect x="47" y="947.94" width="11.8" height="23.56" fill="#262626" stroke="#111" stroke-width="0.5" />
<rect x="58.8" y="878.84" width="11.8" height="92.66" fill="url(#hatchD)" stroke="#444" stroke-width="0.9" />
<line x1="93.65" y1="950.32" x2="93.65" y2="958.7" stroke="#666" stroke-width="0.8" />
<line x1="92.15" y1="950.32" x2="95.15" y2="950.32" stroke="#666" stroke-width="0.8" />
<line x1="105.45" y1="848.39" x2="105.45" y2="916.78" stroke="#666" stroke-width="0.8" />
<line x1="103.95" y1="848.39" x2="106.95" y2="848.39" stroke="#666" stroke-width="0.8" />
<rect x="87.75" y="958.7" width="11.8" height="12.8" fill="#262626" stroke="#111" stroke-width="0.5" />
<rect x="99.55" y="916.78" width="11.8" height="54.72" fill="url(#hatchD)" stroke="#444" stroke-width="0.9" />
<line x1="134.4" y1="966.21" x2="134.4" y2="968.85" stroke="#666" stroke-width="0.8" />
<line x1="132.9" y1="966.21" x2="135.9" y2="966.21" stroke="#666" stroke-width="0.8" />
<line x1="146.2" y1="945.02" x2="146.2" y2="954.47" stroke="#666" stroke-width="0.8" />
<line x1="144.7" y1="945.02" x2="147.7" y2="945.02" stroke="#666" stroke-width="0.8" />
<rect x="128.5" y="968.85" width="11.8" height="2.65" fill="#262626" stroke="#111" stroke-width="0.5" />
<rect x="140.3" y="954.47" width="11.8" height="17.03" fill="url(#hatchD)" stroke="#444" stroke-width="0.9" />
<line x1="186.95" y1="968.85" x2="186.95" y2="970.18" stroke="#666" stroke-width="0.8" />
<line x1="185.45" y1="968.85" x2="188.45" y2="968.85" stroke="#666" stroke-width="0.8" />
<rect x="169.25" y="971.06" width="11.8" height="0.44" fill="#262626" stroke="#111" stroke-width="0.5" />
<rect x="181.05" y="970.18" width="11.8" height="1.32" fill="url(#hatchD)" stroke="#444" stroke-width="0.9" />
<line x1="38.6" y1="971.5" x2="201.25" y2="971.5" stroke="#999" stroke-width="0.8" />
<rect x="38.75" y="972.3" width="40" height="3.3" fill="#1515c0" stroke="none" stroke-width="1" />
<rect x="80" y="972.3" width="38.75" height="3.3" fill="#139113" stroke="none" stroke-width="1" />
<rect x="120.75" y="972.3" width="39.25" height="3.3" fill="#e01515" stroke="none" stroke-width="1" />
<rect x="160" y="972.3" width="41.25" height="3.3" fill="#f5d040" stroke="none" stroke-width="1" />
<text x="58.8" y="983" font-family='"Liberation Sans", sans-serif' font-size="5.2" font-weight="normal" text-anchor="middle" fill="#444" >1</text>
<text x="99.55" y="983" font-family='"Liberation Sans", sans-serif' font-size="5.2" font-weight="normal" text-anchor="middle" fill="#444" >2</text>
<text x="140.3" y="983" font-family='"Liberation Sans", sans-serif' font-size="5.2" font-weight="normal" text-anchor="middle" fill="#444" >3</text>
<text x="181.05" y="983" font-family='"Liberation Sans", sans-serif' font-size="5.2" font-weight="normal" text-anchor="middle" fill="#444" >4</text>
<text x="107.3" y="808.8" font-family='"Liberation Serif", serif' font-size="14" font-weight="normal" text-anchor="middle" fill="#111" >HIV</text>
<text x="8" y="809.6" font-family='"Liberation Sans", sans-serif' font-size="14" font-weight="bold" text-anchor="start" fill="#000" >F</text>
<line x1="18.5" y1="810.6" x2="196" y2="810.6" stroke="#777" stroke-width="1.1" />
<rect x="126.25" y="842.5" width="71.75" height="26.25" fill="#fff" stroke="#555" stroke-width="0.8" />
<rect x="130.6" y="847.05" width="3.4" height="3.4" fill="#222" stroke="none" stroke-width="1" />
<text x="135" y="851.15" font-family='"Liberation Sans", sans-serif' font-size="6.6" font-weight="normal" text-anchor="start" fill="#333" letter-spacing="0.6">CD4-CD8+</text>
<rect x="130.6" y="860.05" width="3.4" height="3.4" fill="url(#hatchD)" stroke="#444" stroke-width="0.5" />
<text x="135" y="864.15" font-family='"Liberation Sans", sans-serif' font-size="6.6" font-weight="normal" text-anchor="start" fill="#333" letter-spacing="0.35">CD4dimCD8bright</text>
<text x="42.7" y="832.4" font-family='"Liberation Sans", sans-serif' font-size="7.5" fill="#333"><tspan font-style="italic">P</tspan> = .01</text>
<line x1="43.4" y1="833.5" x2="62.2" y2="833.5" stroke="#444" stroke-width="0.7" />
<text x="84.4" y="838.9" font-family='"Liberation Sans", sans-serif' font-size="7.5" fill="#333"><tspan font-style="italic">P</tspan> = .1</text>
<line x1="84.4" y1="840.5" x2="103.5" y2="840.5" stroke="#444" stroke-width="0.7" />
<text x="123.4" y="933.5" font-family='"Liberation Sans", sans-serif' font-size="7.5" fill="#333"><tspan font-style="italic">P</tspan> = .02</text>
<line x1="125.7" y1="935.1" x2="143.4" y2="935.1" stroke="#444" stroke-width="0.7" />
<text x="162.3" y="960.5" font-family='"Liberation Sans", sans-serif' font-size="7.5" fill="#333"><tspan font-style="italic">P</tspan> = .049</text>
<line x1="165.7" y1="962" x2="183.4" y2="962" stroke="#444" stroke-width="0.7" />
<text x="0" y="0" transform="translate(19.4,900.3) rotate(-90)" font-family='"Liberation Sans", sans-serif' font-size="8.6" font-weight="bold" fill="#222" text-anchor="middle" textLength="113.7" lengthAdjust="spacingAndGlyphs">mean % molecule expression</text>
<text x="91.3" y="991" font-family='"Liberation Sans", sans-serif' font-size="8.4" font-weight="bold" text-anchor="start" fill="#222" textLength="56.7" lengthAdjust="spacingAndGlyphs"># of molecules</text>
<line x1="249.25" y1="829.25" x2="249.25" y2="968.5" stroke="#999" stroke-width="0.8" />
<line x1="247.25" y1="968.5" x2="249.25" y2="968.5" stroke="#999" stroke-width="0.7" />
<text x="243.75" y="970.8" font-family='"Liberation Sans", sans-serif' font-size="6.4" font-weight="normal" text-anchor="end" fill="#555" >0</text>
<line x1="247.25" y1="951.09" x2="249.25" y2="951.09" stroke="#999" stroke-width="0.7" />
<text x="243.75" y="953.4" font-family='"Liberation Sans", sans-serif' font-size="6.4" font-weight="normal" text-anchor="end" fill="#555" >2</text>
<line x1="247.25" y1="933.69" x2="249.25" y2="933.69" stroke="#999" stroke-width="0.7" />
<text x="243.75" y="935.99" font-family='"Liberation Sans", sans-serif' font-size="6.4" font-weight="normal" text-anchor="end" fill="#555" >4</text>
<line x1="247.25" y1="916.28" x2="249.25" y2="916.28" stroke="#999" stroke-width="0.7" />
<text x="243.75" y="918.59" font-family='"Liberation Sans", sans-serif' font-size="6.4" font-weight="normal" text-anchor="end" fill="#555" >6</text>
<line x1="247.25" y1="898.88" x2="249.25" y2="898.88" stroke="#999" stroke-width="0.7" />
<text x="243.75" y="901.18" font-family='"Liberation Sans", sans-serif' font-size="6.4" font-weight="normal" text-anchor="end" fill="#555" >8</text>
<line x1="247.25" y1="881.47" x2="249.25" y2="881.47" stroke="#999" stroke-width="0.7" />
<text x="243.75" y="883.77" font-family='"Liberation Sans", sans-serif' font-size="6.4" font-weight="normal" text-anchor="end" fill="#555" >10</text>
<line x1="247.25" y1="864.06" x2="249.25" y2="864.06" stroke="#999" stroke-width="0.7" />
<text x="243.75" y="866.37" font-family='"Liberation Sans", sans-serif' font-size="6.4" font-weight="normal" text-anchor="end" fill="#555" >12</text>
<line x1="247.25" y1="846.66" x2="249.25" y2="846.66" stroke="#999" stroke-width="0.7" />
<text x="243.75" y="848.96" font-family='"Liberation Sans", sans-serif' font-size="6.4" font-weight="normal" text-anchor="end" fill="#555" >14</text>
<line x1="247.25" y1="829.25" x2="249.25" y2="829.25" stroke="#999" stroke-width="0.7" />
<text x="243.75" y="831.55" font-family='"Liberation Sans", sans-serif' font-size="6.4" font-weight="normal" text-anchor="end" fill="#555" >16</text>
<line x1="263.4" y1="940.04" x2="263.4" y2="949.35" stroke="#666" stroke-width="0.8" />
<line x1="261.9" y1="940.04" x2="264.9" y2="940.04" stroke="#666" stroke-width="0.8" />
<line x1="274.4" y1="836.21" x2="274.4" y2="881.47" stroke="#666" stroke-width="0.8" />
<line x1="272.9" y1="836.21" x2="275.9" y2="836.21" stroke="#666" stroke-width="0.8" />
<rect x="257.9" y="949.35" width="11" height="19.15" fill="#262626" stroke="#111" stroke-width="0.5" />
<rect x="268.9" y="881.47" width="11" height="87.03" fill="url(#hatchD)" stroke="#444" stroke-width="0.9" />
<line x1="311.5" y1="945" x2="311.5" y2="949.35" stroke="#666" stroke-width="0.8" />
<line x1="310" y1="945" x2="313" y2="945" stroke="#666" stroke-width="0.8" />
<rect x="295" y="963.28" width="11" height="5.22" fill="#262626" stroke="#111" stroke-width="0.5" />
<rect x="306" y="949.35" width="11" height="19.15" fill="url(#hatchD)" stroke="#444" stroke-width="0.9" />
<line x1="348.6" y1="960.41" x2="348.6" y2="962.41" stroke="#666" stroke-width="0.8" />
<line x1="347.1" y1="960.41" x2="350.1" y2="960.41" stroke="#666" stroke-width="0.8" />
<rect x="332.1" y="965.89" width="11" height="2.61" fill="#262626" stroke="#111" stroke-width="0.5" />
<rect x="343.1" y="962.41" width="11" height="6.09" fill="url(#hatchD)" stroke="#444" stroke-width="0.9" />
<rect x="369.2" y="967.19" width="11" height="1.31" fill="#262626" stroke="#111" stroke-width="0.5" />
<line x1="249.25" y1="968.5" x2="398.75" y2="968.5" stroke="#999" stroke-width="0.8" />
<rect x="250" y="968.3" width="35.75" height="3.2" fill="#1515c0" stroke="none" stroke-width="1" />
<rect x="287" y="968.3" width="36.75" height="3.2" fill="#139113" stroke="none" stroke-width="1" />
<rect x="325" y="968.3" width="36.25" height="3.2" fill="#e01515" stroke="none" stroke-width="1" />
<rect x="362" y="968.3" width="36.75" height="3.2" fill="#f5d040" stroke="none" stroke-width="1" />
<text x="268.9" y="978.2" font-family='"Liberation Sans", sans-serif' font-size="5.2" font-weight="normal" text-anchor="middle" fill="#444" >1</text>
<text x="306" y="978.2" font-family='"Liberation Sans", sans-serif' font-size="5.2" font-weight="normal" text-anchor="middle" fill="#444" >2</text>
<text x="343.1" y="978.2" font-family='"Liberation Sans", sans-serif' font-size="5.2" font-weight="normal" text-anchor="middle" fill="#444" >3</text>
<text x="380.2" y="978.2" font-family='"Liberation Sans", sans-serif' font-size="5.2" font-weight="normal" text-anchor="middle" fill="#444" >4</text>
<text x="312" y="808.8" font-family='"Liberation Serif", serif' font-size="14" font-weight="normal" text-anchor="middle" fill="#111" >CMV</text>
<text x="209.8" y="809.6" font-family='"Liberation Sans", sans-serif' font-size="14" font-weight="bold" text-anchor="start" fill="#000" >G</text>
<line x1="226.3" y1="811.5" x2="402" y2="811.5" stroke="#777" stroke-width="1.1" />
<rect x="326.75" y="831.25" width="72" height="26.75" fill="#fff" stroke="#555" stroke-width="0.8" />
<rect x="331.2" y="837.05" width="3.4" height="3.4" fill="#222" stroke="none" stroke-width="1" />
<text x="335.6" y="841.15" font-family='"Liberation Sans", sans-serif' font-size="6.6" font-weight="normal" text-anchor="start" fill="#333" letter-spacing="0.6">CD4-CD8+</text>
<rect x="331.2" y="849.55" width="3.4" height="3.4" fill="url(#hatchD)" stroke="#444" stroke-width="0.5" />
<text x="335.6" y="853.65" font-family='"Liberation Sans", sans-serif' font-size="6.6" font-weight="normal" text-anchor="start" fill="#333" letter-spacing="0.35">CD4dimCD8bright</text>
<text x="256.25" y="832.8" font-family='"Liberation Sans", sans-serif' font-size="7.5" fill="#333"><tspan font-style="italic">P</tspan> = .03</text>
<line x1="258.2" y1="834.4" x2="276.4" y2="834.4" stroke="#444" stroke-width="0.7" />
<text x="288.7" y="931.2" font-family='"Liberation Sans", sans-serif' font-size="7.5" fill="#333"><tspan font-style="italic">P</tspan> = .002</text>
<line x1="294" y1="932.3" x2="312.2" y2="932.3" stroke="#444" stroke-width="0.7" />
<text x="326.9" y="950.8" font-family='"Liberation Sans", sans-serif' font-size="7.5" fill="#333"><tspan font-style="italic">P</tspan> = .03</text>
<line x1="330.5" y1="951.9" x2="347.7" y2="951.9" stroke="#444" stroke-width="0.7" />
<text x="374.2" y="958.9" font-family='"Liberation Sans", sans-serif' font-size="7.5" fill="#333"><tspan font-style="italic">P</tspan> = .2</text>
<line x1="375.4" y1="959.9" x2="392.3" y2="959.9" stroke="#444" stroke-width="0.7" />
<text x="0" y="0" transform="translate(230.5,898.8) rotate(-90)" font-family='"Liberation Sans", sans-serif' font-size="8.6" font-weight="bold" fill="#222" text-anchor="middle" textLength="112.5" lengthAdjust="spacingAndGlyphs">mean % molecule expression</text>
<text x="295.8" y="991" font-family='"Liberation Sans", sans-serif' font-size="8.4" font-weight="bold" text-anchor="start" fill="#222" textLength="56.2" lengthAdjust="spacingAndGlyphs"># of molecules</text></svg></body></html>
